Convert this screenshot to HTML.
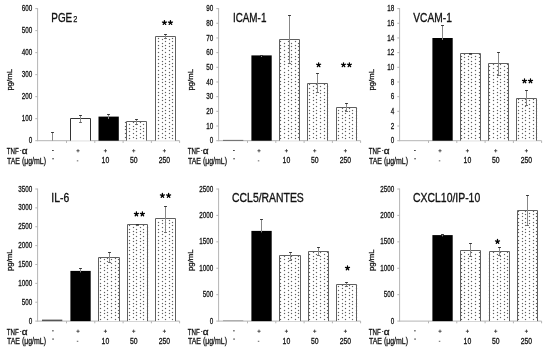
<!DOCTYPE html>
<html><head><meta charset="utf-8"><title>Figure</title>
<style>
html,body{margin:0;padding:0;background:#fff;width:550px;height:351px;overflow:hidden;}
svg{will-change:transform;}
svg text{font-family:"Liberation Sans", sans-serif;stroke:#111;stroke-width:0.28px;}
</style></head>
<body>
<svg width="550" height="351" viewBox="0 0 550 351" style="display:block;font-family:&quot;Liberation Sans&quot;, sans-serif" shape-rendering="auto"><defs></defs><rect width="550" height="351" fill="#fff"/><line x1="37.60" y1="8.10" x2="37.60" y2="141.20" stroke="#b4b4b4" stroke-width="1"/>
<line x1="37.60" y1="140.70" x2="179.60" y2="140.70" stroke="#b4b4b4" stroke-width="1"/>
<line x1="35.30" y1="140.70" x2="37.60" y2="140.70" stroke="#b4b4b4" stroke-width="1"/>
<text x="32.20" y="143.25" font-size="8.6" text-anchor="end" font-weight="normal" fill="#111" textLength="3.50" lengthAdjust="spacingAndGlyphs" >0</text>
<line x1="35.30" y1="118.68" x2="37.60" y2="118.68" stroke="#b4b4b4" stroke-width="1"/>
<text x="32.20" y="121.23" font-size="8.6" text-anchor="end" font-weight="normal" fill="#111" textLength="10.50" lengthAdjust="spacingAndGlyphs" >100</text>
<line x1="35.30" y1="96.67" x2="37.60" y2="96.67" stroke="#b4b4b4" stroke-width="1"/>
<text x="32.20" y="99.22" font-size="8.6" text-anchor="end" font-weight="normal" fill="#111" textLength="10.50" lengthAdjust="spacingAndGlyphs" >200</text>
<line x1="35.30" y1="74.65" x2="37.60" y2="74.65" stroke="#b4b4b4" stroke-width="1"/>
<text x="32.20" y="77.20" font-size="8.6" text-anchor="end" font-weight="normal" fill="#111" textLength="10.50" lengthAdjust="spacingAndGlyphs" >300</text>
<line x1="35.30" y1="52.63" x2="37.60" y2="52.63" stroke="#b4b4b4" stroke-width="1"/>
<text x="32.20" y="55.18" font-size="8.6" text-anchor="end" font-weight="normal" fill="#111" textLength="10.50" lengthAdjust="spacingAndGlyphs" >400</text>
<line x1="35.30" y1="30.62" x2="37.60" y2="30.62" stroke="#b4b4b4" stroke-width="1"/>
<text x="32.20" y="33.17" font-size="8.6" text-anchor="end" font-weight="normal" fill="#111" textLength="10.50" lengthAdjust="spacingAndGlyphs" >500</text>
<line x1="35.30" y1="8.60" x2="37.60" y2="8.60" stroke="#b4b4b4" stroke-width="1"/>
<text x="32.20" y="11.15" font-size="8.6" text-anchor="end" font-weight="normal" fill="#111" textLength="10.50" lengthAdjust="spacingAndGlyphs" >600</text>
<line x1="66.50" y1="140.70" x2="66.50" y2="142.90" stroke="#b4b4b4" stroke-width="1"/>
<line x1="94.80" y1="140.70" x2="94.80" y2="142.90" stroke="#b4b4b4" stroke-width="1"/>
<line x1="123.10" y1="140.70" x2="123.10" y2="142.90" stroke="#b4b4b4" stroke-width="1"/>
<line x1="151.40" y1="140.70" x2="151.40" y2="142.90" stroke="#b4b4b4" stroke-width="1"/>
<line x1="179.60" y1="140.70" x2="179.60" y2="142.90" stroke="#b4b4b4" stroke-width="1"/>
<text x="9.50" y="82.80" font-size="8.1" text-anchor="middle" fill="#111" transform="rotate(-90 9.50 79.80)" textLength="21.5" lengthAdjust="spacingAndGlyphs">pg/mL</text>
<text x="51.30" y="21.70" font-size="12" text-anchor="start" font-weight="normal" fill="#111" textLength="20.90" lengthAdjust="spacingAndGlyphs" style="stroke-width:0.32px">PGE</text>
<text x="73.20" y="21.70" font-size="9.6" text-anchor="start" font-weight="normal" fill="#111" textLength="4.10" lengthAdjust="spacingAndGlyphs" style="stroke-width:0.25px">2</text>
<line x1="52.50" y1="132.50" x2="52.50" y2="140.70" stroke="#888" stroke-width="1"/>
<line x1="51.10" y1="132.50" x2="53.90" y2="132.50" stroke="#333" stroke-width="1"/>
<rect x="70.00" y="118.00" width="21.00" height="22.70" fill="#fff" />
<path d="M70.5,140.70V118.5H90.5V140.70" fill="none" stroke="#333" stroke-width="1"/>
<line x1="80.50" y1="115.50" x2="80.50" y2="122.00" stroke="#888" stroke-width="1"/>
<line x1="79.10" y1="115.50" x2="81.90" y2="115.50" stroke="#333" stroke-width="1"/>
<line x1="79.10" y1="122.50" x2="81.90" y2="122.50" stroke="#666" stroke-width="1"/>
<rect x="98.50" y="116.60" width="20.30" height="24.10" fill="#000" />
<line x1="108.50" y1="114.50" x2="108.50" y2="119.00" stroke="#888" stroke-width="1"/>
<line x1="107.10" y1="114.50" x2="109.90" y2="114.50" stroke="#333" stroke-width="1"/>
<rect x="126.00" y="121.00" width="21.00" height="19.70" fill="#fff" />
<path d="M124 122h3v1h-3zM125 121h1v3h-1zM124 126h3v1h-3zM125 125h1v3h-1zM124 129h3v1h-3zM125 128h1v3h-1zM124 133h3v1h-3zM125 132h1v3h-1zM124 137h3v1h-3zM125 136h1v3h-1zM128 124h3v1h-3zM129 123h1v3h-1zM128 128h3v1h-3zM129 127h1v3h-1zM128 131h3v1h-3zM129 130h1v3h-1zM128 135h3v1h-3zM129 134h1v3h-1zM128 138h3v1h-3zM129 137h1v3h-1zM132 122h3v1h-3zM133 121h1v3h-1zM132 126h3v1h-3zM133 125h1v3h-1zM132 129h3v1h-3zM133 128h1v3h-1zM132 133h3v1h-3zM133 132h1v3h-1zM132 137h3v1h-3zM133 136h1v3h-1zM135 124h3v1h-3zM136 123h1v3h-1zM135 128h3v1h-3zM136 127h1v3h-1zM135 131h3v1h-3zM136 130h1v3h-1zM135 135h3v1h-3zM136 134h1v3h-1zM135 138h3v1h-3zM136 137h1v3h-1zM139 122h3v1h-3zM140 121h1v3h-1zM139 126h3v1h-3zM140 125h1v3h-1zM139 129h3v1h-3zM140 128h1v3h-1zM139 133h3v1h-3zM140 132h1v3h-1zM139 137h3v1h-3zM140 136h1v3h-1zM142 124h3v1h-3zM143 123h1v3h-1zM142 128h3v1h-3zM143 127h1v3h-1zM142 131h3v1h-3zM143 130h1v3h-1zM142 135h3v1h-3zM143 134h1v3h-1zM142 138h3v1h-3zM143 137h1v3h-1z" fill="#f0f0f0"/>
<path d="M125 122h1v1h-1zM125 126h1v1h-1zM125 129h1v1h-1zM125 133h1v1h-1zM125 137h1v1h-1zM129 124h1v1h-1zM129 128h1v1h-1zM129 131h1v1h-1zM129 135h1v1h-1zM129 138h1v1h-1zM133 122h1v1h-1zM133 126h1v1h-1zM133 129h1v1h-1zM133 133h1v1h-1zM133 137h1v1h-1zM136 124h1v1h-1zM136 128h1v1h-1zM136 131h1v1h-1zM136 135h1v1h-1zM136 138h1v1h-1zM140 122h1v1h-1zM140 126h1v1h-1zM140 129h1v1h-1zM140 133h1v1h-1zM140 137h1v1h-1zM143 124h1v1h-1zM143 128h1v1h-1zM143 131h1v1h-1zM143 135h1v1h-1zM143 138h1v1h-1z" fill="#606060"/>
<path d="M126.5,140.70V121.5H146.5V140.70" fill="none" stroke="#606060" stroke-width="1"/>
<line x1="136.50" y1="119.50" x2="136.50" y2="124.00" stroke="#888" stroke-width="1"/>
<line x1="135.10" y1="119.50" x2="137.90" y2="119.50" stroke="#333" stroke-width="1"/>
<line x1="135.10" y1="124.50" x2="137.90" y2="124.50" stroke="#666" stroke-width="1"/>
<rect x="155.00" y="36.00" width="21.00" height="104.70" fill="#fff" />
<path d="M157 38h3v1h-3zM158 37h1v3h-1zM157 41h3v1h-3zM158 40h1v3h-1zM157 45h3v1h-3zM158 44h1v3h-1zM157 48h3v1h-3zM158 47h1v3h-1zM157 52h3v1h-3zM158 51h1v3h-1zM157 56h3v1h-3zM158 55h1v3h-1zM157 59h3v1h-3zM158 58h1v3h-1zM157 63h3v1h-3zM158 62h1v3h-1zM157 66h3v1h-3zM158 65h1v3h-1zM157 70h3v1h-3zM158 69h1v3h-1zM157 74h3v1h-3zM158 73h1v3h-1zM157 77h3v1h-3zM158 76h1v3h-1zM157 81h3v1h-3zM158 80h1v3h-1zM157 84h3v1h-3zM158 83h1v3h-1zM157 88h3v1h-3zM158 87h1v3h-1zM157 92h3v1h-3zM158 91h1v3h-1zM157 95h3v1h-3zM158 94h1v3h-1zM157 99h3v1h-3zM158 98h1v3h-1zM157 102h3v1h-3zM158 101h1v3h-1zM157 106h3v1h-3zM158 105h1v3h-1zM157 110h3v1h-3zM158 109h1v3h-1zM157 113h3v1h-3zM158 112h1v3h-1zM157 117h3v1h-3zM158 116h1v3h-1zM157 120h3v1h-3zM158 119h1v3h-1zM157 124h3v1h-3zM158 123h1v3h-1zM157 128h3v1h-3zM158 127h1v3h-1zM157 131h3v1h-3zM158 130h1v3h-1zM157 135h3v1h-3zM158 134h1v3h-1zM157 138h3v1h-3zM158 137h1v3h-1zM161 39h3v1h-3zM162 38h1v3h-1zM161 43h3v1h-3zM162 42h1v3h-1zM161 46h3v1h-3zM162 45h1v3h-1zM161 50h3v1h-3zM162 49h1v3h-1zM161 54h3v1h-3zM162 53h1v3h-1zM161 57h3v1h-3zM162 56h1v3h-1zM161 61h3v1h-3zM162 60h1v3h-1zM161 64h3v1h-3zM162 63h1v3h-1zM161 68h3v1h-3zM162 67h1v3h-1zM161 72h3v1h-3zM162 71h1v3h-1zM161 75h3v1h-3zM162 74h1v3h-1zM161 79h3v1h-3zM162 78h1v3h-1zM161 82h3v1h-3zM162 81h1v3h-1zM161 86h3v1h-3zM162 85h1v3h-1zM161 90h3v1h-3zM162 89h1v3h-1zM161 93h3v1h-3zM162 92h1v3h-1zM161 97h3v1h-3zM162 96h1v3h-1zM161 100h3v1h-3zM162 99h1v3h-1zM161 104h3v1h-3zM162 103h1v3h-1zM161 108h3v1h-3zM162 107h1v3h-1zM161 111h3v1h-3zM162 110h1v3h-1zM161 115h3v1h-3zM162 114h1v3h-1zM161 118h3v1h-3zM162 117h1v3h-1zM161 122h3v1h-3zM162 121h1v3h-1zM161 126h3v1h-3zM162 125h1v3h-1zM161 129h3v1h-3zM162 128h1v3h-1zM161 133h3v1h-3zM162 132h1v3h-1zM161 137h3v1h-3zM162 136h1v3h-1zM164 38h3v1h-3zM165 37h1v3h-1zM164 41h3v1h-3zM165 40h1v3h-1zM164 45h3v1h-3zM165 44h1v3h-1zM164 48h3v1h-3zM165 47h1v3h-1zM164 52h3v1h-3zM165 51h1v3h-1zM164 56h3v1h-3zM165 55h1v3h-1zM164 59h3v1h-3zM165 58h1v3h-1zM164 63h3v1h-3zM165 62h1v3h-1zM164 66h3v1h-3zM165 65h1v3h-1zM164 70h3v1h-3zM165 69h1v3h-1zM164 74h3v1h-3zM165 73h1v3h-1zM164 77h3v1h-3zM165 76h1v3h-1zM164 81h3v1h-3zM165 80h1v3h-1zM164 84h3v1h-3zM165 83h1v3h-1zM164 88h3v1h-3zM165 87h1v3h-1zM164 92h3v1h-3zM165 91h1v3h-1zM164 95h3v1h-3zM165 94h1v3h-1zM164 99h3v1h-3zM165 98h1v3h-1zM164 102h3v1h-3zM165 101h1v3h-1zM164 106h3v1h-3zM165 105h1v3h-1zM164 110h3v1h-3zM165 109h1v3h-1zM164 113h3v1h-3zM165 112h1v3h-1zM164 117h3v1h-3zM165 116h1v3h-1zM164 120h3v1h-3zM165 119h1v3h-1zM164 124h3v1h-3zM165 123h1v3h-1zM164 128h3v1h-3zM165 127h1v3h-1zM164 131h3v1h-3zM165 130h1v3h-1zM164 135h3v1h-3zM165 134h1v3h-1zM164 138h3v1h-3zM165 137h1v3h-1zM168 39h3v1h-3zM169 38h1v3h-1zM168 43h3v1h-3zM169 42h1v3h-1zM168 46h3v1h-3zM169 45h1v3h-1zM168 50h3v1h-3zM169 49h1v3h-1zM168 54h3v1h-3zM169 53h1v3h-1zM168 57h3v1h-3zM169 56h1v3h-1zM168 61h3v1h-3zM169 60h1v3h-1zM168 64h3v1h-3zM169 63h1v3h-1zM168 68h3v1h-3zM169 67h1v3h-1zM168 72h3v1h-3zM169 71h1v3h-1zM168 75h3v1h-3zM169 74h1v3h-1zM168 79h3v1h-3zM169 78h1v3h-1zM168 82h3v1h-3zM169 81h1v3h-1zM168 86h3v1h-3zM169 85h1v3h-1zM168 90h3v1h-3zM169 89h1v3h-1zM168 93h3v1h-3zM169 92h1v3h-1zM168 97h3v1h-3zM169 96h1v3h-1zM168 100h3v1h-3zM169 99h1v3h-1zM168 104h3v1h-3zM169 103h1v3h-1zM168 108h3v1h-3zM169 107h1v3h-1zM168 111h3v1h-3zM169 110h1v3h-1zM168 115h3v1h-3zM169 114h1v3h-1zM168 118h3v1h-3zM169 117h1v3h-1zM168 122h3v1h-3zM169 121h1v3h-1zM168 126h3v1h-3zM169 125h1v3h-1zM168 129h3v1h-3zM169 128h1v3h-1zM168 133h3v1h-3zM169 132h1v3h-1zM168 137h3v1h-3zM169 136h1v3h-1zM171 38h3v1h-3zM172 37h1v3h-1zM171 41h3v1h-3zM172 40h1v3h-1zM171 45h3v1h-3zM172 44h1v3h-1zM171 48h3v1h-3zM172 47h1v3h-1zM171 52h3v1h-3zM172 51h1v3h-1zM171 56h3v1h-3zM172 55h1v3h-1zM171 59h3v1h-3zM172 58h1v3h-1zM171 63h3v1h-3zM172 62h1v3h-1zM171 66h3v1h-3zM172 65h1v3h-1zM171 70h3v1h-3zM172 69h1v3h-1zM171 74h3v1h-3zM172 73h1v3h-1zM171 77h3v1h-3zM172 76h1v3h-1zM171 81h3v1h-3zM172 80h1v3h-1zM171 84h3v1h-3zM172 83h1v3h-1zM171 88h3v1h-3zM172 87h1v3h-1zM171 92h3v1h-3zM172 91h1v3h-1zM171 95h3v1h-3zM172 94h1v3h-1zM171 99h3v1h-3zM172 98h1v3h-1zM171 102h3v1h-3zM172 101h1v3h-1zM171 106h3v1h-3zM172 105h1v3h-1zM171 110h3v1h-3zM172 109h1v3h-1zM171 113h3v1h-3zM172 112h1v3h-1zM171 117h3v1h-3zM172 116h1v3h-1zM171 120h3v1h-3zM172 119h1v3h-1zM171 124h3v1h-3zM172 123h1v3h-1zM171 128h3v1h-3zM172 127h1v3h-1zM171 131h3v1h-3zM172 130h1v3h-1zM171 135h3v1h-3zM172 134h1v3h-1zM171 138h3v1h-3zM172 137h1v3h-1z" fill="#f0f0f0"/>
<path d="M158 38h1v1h-1zM158 41h1v1h-1zM158 45h1v1h-1zM158 48h1v1h-1zM158 52h1v1h-1zM158 56h1v1h-1zM158 59h1v1h-1zM158 63h1v1h-1zM158 66h1v1h-1zM158 70h1v1h-1zM158 74h1v1h-1zM158 77h1v1h-1zM158 81h1v1h-1zM158 84h1v1h-1zM158 88h1v1h-1zM158 92h1v1h-1zM158 95h1v1h-1zM158 99h1v1h-1zM158 102h1v1h-1zM158 106h1v1h-1zM158 110h1v1h-1zM158 113h1v1h-1zM158 117h1v1h-1zM158 120h1v1h-1zM158 124h1v1h-1zM158 128h1v1h-1zM158 131h1v1h-1zM158 135h1v1h-1zM158 138h1v1h-1zM162 39h1v1h-1zM162 43h1v1h-1zM162 46h1v1h-1zM162 50h1v1h-1zM162 54h1v1h-1zM162 57h1v1h-1zM162 61h1v1h-1zM162 64h1v1h-1zM162 68h1v1h-1zM162 72h1v1h-1zM162 75h1v1h-1zM162 79h1v1h-1zM162 82h1v1h-1zM162 86h1v1h-1zM162 90h1v1h-1zM162 93h1v1h-1zM162 97h1v1h-1zM162 100h1v1h-1zM162 104h1v1h-1zM162 108h1v1h-1zM162 111h1v1h-1zM162 115h1v1h-1zM162 118h1v1h-1zM162 122h1v1h-1zM162 126h1v1h-1zM162 129h1v1h-1zM162 133h1v1h-1zM162 137h1v1h-1zM165 38h1v1h-1zM165 41h1v1h-1zM165 45h1v1h-1zM165 48h1v1h-1zM165 52h1v1h-1zM165 56h1v1h-1zM165 59h1v1h-1zM165 63h1v1h-1zM165 66h1v1h-1zM165 70h1v1h-1zM165 74h1v1h-1zM165 77h1v1h-1zM165 81h1v1h-1zM165 84h1v1h-1zM165 88h1v1h-1zM165 92h1v1h-1zM165 95h1v1h-1zM165 99h1v1h-1zM165 102h1v1h-1zM165 106h1v1h-1zM165 110h1v1h-1zM165 113h1v1h-1zM165 117h1v1h-1zM165 120h1v1h-1zM165 124h1v1h-1zM165 128h1v1h-1zM165 131h1v1h-1zM165 135h1v1h-1zM165 138h1v1h-1zM169 39h1v1h-1zM169 43h1v1h-1zM169 46h1v1h-1zM169 50h1v1h-1zM169 54h1v1h-1zM169 57h1v1h-1zM169 61h1v1h-1zM169 64h1v1h-1zM169 68h1v1h-1zM169 72h1v1h-1zM169 75h1v1h-1zM169 79h1v1h-1zM169 82h1v1h-1zM169 86h1v1h-1zM169 90h1v1h-1zM169 93h1v1h-1zM169 97h1v1h-1zM169 100h1v1h-1zM169 104h1v1h-1zM169 108h1v1h-1zM169 111h1v1h-1zM169 115h1v1h-1zM169 118h1v1h-1zM169 122h1v1h-1zM169 126h1v1h-1zM169 129h1v1h-1zM169 133h1v1h-1zM169 137h1v1h-1zM172 38h1v1h-1zM172 41h1v1h-1zM172 45h1v1h-1zM172 48h1v1h-1zM172 52h1v1h-1zM172 56h1v1h-1zM172 59h1v1h-1zM172 63h1v1h-1zM172 66h1v1h-1zM172 70h1v1h-1zM172 74h1v1h-1zM172 77h1v1h-1zM172 81h1v1h-1zM172 84h1v1h-1zM172 88h1v1h-1zM172 92h1v1h-1zM172 95h1v1h-1zM172 99h1v1h-1zM172 102h1v1h-1zM172 106h1v1h-1zM172 110h1v1h-1zM172 113h1v1h-1zM172 117h1v1h-1zM172 120h1v1h-1zM172 124h1v1h-1zM172 128h1v1h-1zM172 131h1v1h-1zM172 135h1v1h-1zM172 138h1v1h-1z" fill="#606060"/>
<path d="M155.5,140.70V36.5H175.5V140.70" fill="none" stroke="#606060" stroke-width="1"/>
<line x1="165.50" y1="34.50" x2="165.50" y2="38.10" stroke="#888" stroke-width="1"/>
<line x1="164.10" y1="34.50" x2="166.90" y2="34.50" stroke="#333" stroke-width="1"/>
<line x1="164.10" y1="38.50" x2="166.90" y2="38.50" stroke="#666" stroke-width="1"/>
<path d="M164.45,22.70L164.45,20.60M164.45,22.70L166.45,22.05M164.45,22.70L165.68,24.40M164.45,22.70L163.22,24.40M164.45,22.70L162.45,22.05" stroke="#000" stroke-width="1.3" stroke-linecap="round" fill="none"/>
<path d="M170.45,22.70L170.45,20.60M170.45,22.70L172.45,22.05M170.45,22.70L171.68,24.40M170.45,22.70L169.22,24.40M170.45,22.70L168.45,22.05" stroke="#000" stroke-width="1.3" stroke-linecap="round" fill="none"/>
<text x="6.80" y="154.10" font-size="8.3" text-anchor="start" font-weight="normal" fill="#111" textLength="12.00" lengthAdjust="spacingAndGlyphs" >TNF</text>
<rect x="20.00" y="150.00" width="1.30" height="1.00" fill="#555" />
<text x="21.70" y="154.10" font-size="8.3" text-anchor="start" font-weight="normal" fill="#111" textLength="5.80" lengthAdjust="spacingAndGlyphs" >α</text>
<text x="7.00" y="163.60" font-size="8.3" text-anchor="start" font-weight="normal" fill="#111" textLength="39.00" lengthAdjust="spacingAndGlyphs" >TAE (μg/mL)</text>
<rect x="52.00" y="150.00" width="1.80" height="0.90" fill="#333" />
<rect x="76.40" y="150.40" width="3.20" height="0.80" fill="#333" />
<rect x="77.60" y="149.20" width="0.80" height="3.20" fill="#333" />
<rect x="103.80" y="150.40" width="3.20" height="0.80" fill="#333" />
<rect x="105.00" y="149.20" width="0.80" height="3.20" fill="#333" />
<rect x="132.10" y="150.40" width="3.20" height="0.80" fill="#333" />
<rect x="133.30" y="149.20" width="0.80" height="3.20" fill="#333" />
<rect x="162.80" y="150.40" width="3.20" height="0.80" fill="#333" />
<rect x="164.00" y="149.20" width="0.80" height="3.20" fill="#333" />
<rect x="52.40" y="158.00" width="1.30" height="1.40" fill="#444" />
<rect x="76.80" y="160.40" width="1.50" height="0.90" fill="#555" />
<text x="105.40" y="163.40" font-size="8.3" text-anchor="middle" font-weight="normal" fill="#111" textLength="7.60" lengthAdjust="spacingAndGlyphs" >10</text>
<text x="133.70" y="163.40" font-size="8.3" text-anchor="middle" font-weight="normal" fill="#111" textLength="7.60" lengthAdjust="spacingAndGlyphs" >50</text>
<text x="164.40" y="163.40" font-size="8.3" text-anchor="middle" font-weight="normal" fill="#111" textLength="11.40" lengthAdjust="spacingAndGlyphs" >250</text>
<line x1="218.60" y1="8.10" x2="218.60" y2="141.20" stroke="#b4b4b4" stroke-width="1"/>
<line x1="218.60" y1="140.70" x2="360.60" y2="140.70" stroke="#b4b4b4" stroke-width="1"/>
<line x1="216.30" y1="140.70" x2="218.60" y2="140.70" stroke="#b4b4b4" stroke-width="1"/>
<text x="213.20" y="143.25" font-size="8.6" text-anchor="end" font-weight="normal" fill="#111" textLength="3.50" lengthAdjust="spacingAndGlyphs" >0</text>
<line x1="216.30" y1="126.02" x2="218.60" y2="126.02" stroke="#b4b4b4" stroke-width="1"/>
<text x="213.20" y="128.57" font-size="8.6" text-anchor="end" font-weight="normal" fill="#111" textLength="7.00" lengthAdjust="spacingAndGlyphs" >10</text>
<line x1="216.30" y1="111.34" x2="218.60" y2="111.34" stroke="#b4b4b4" stroke-width="1"/>
<text x="213.20" y="113.89" font-size="8.6" text-anchor="end" font-weight="normal" fill="#111" textLength="7.00" lengthAdjust="spacingAndGlyphs" >20</text>
<line x1="216.30" y1="96.67" x2="218.60" y2="96.67" stroke="#b4b4b4" stroke-width="1"/>
<text x="213.20" y="99.22" font-size="8.6" text-anchor="end" font-weight="normal" fill="#111" textLength="7.00" lengthAdjust="spacingAndGlyphs" >30</text>
<line x1="216.30" y1="81.99" x2="218.60" y2="81.99" stroke="#b4b4b4" stroke-width="1"/>
<text x="213.20" y="84.54" font-size="8.6" text-anchor="end" font-weight="normal" fill="#111" textLength="7.00" lengthAdjust="spacingAndGlyphs" >40</text>
<line x1="216.30" y1="67.31" x2="218.60" y2="67.31" stroke="#b4b4b4" stroke-width="1"/>
<text x="213.20" y="69.86" font-size="8.6" text-anchor="end" font-weight="normal" fill="#111" textLength="7.00" lengthAdjust="spacingAndGlyphs" >50</text>
<line x1="216.30" y1="52.63" x2="218.60" y2="52.63" stroke="#b4b4b4" stroke-width="1"/>
<text x="213.20" y="55.18" font-size="8.6" text-anchor="end" font-weight="normal" fill="#111" textLength="7.00" lengthAdjust="spacingAndGlyphs" >60</text>
<line x1="216.30" y1="37.96" x2="218.60" y2="37.96" stroke="#b4b4b4" stroke-width="1"/>
<text x="213.20" y="40.51" font-size="8.6" text-anchor="end" font-weight="normal" fill="#111" textLength="7.00" lengthAdjust="spacingAndGlyphs" >70</text>
<line x1="216.30" y1="23.28" x2="218.60" y2="23.28" stroke="#b4b4b4" stroke-width="1"/>
<text x="213.20" y="25.83" font-size="8.6" text-anchor="end" font-weight="normal" fill="#111" textLength="7.00" lengthAdjust="spacingAndGlyphs" >80</text>
<line x1="216.30" y1="8.60" x2="218.60" y2="8.60" stroke="#b4b4b4" stroke-width="1"/>
<text x="213.20" y="11.15" font-size="8.6" text-anchor="end" font-weight="normal" fill="#111" textLength="7.00" lengthAdjust="spacingAndGlyphs" >90</text>
<line x1="247.50" y1="140.70" x2="247.50" y2="142.90" stroke="#b4b4b4" stroke-width="1"/>
<line x1="275.80" y1="140.70" x2="275.80" y2="142.90" stroke="#b4b4b4" stroke-width="1"/>
<line x1="304.10" y1="140.70" x2="304.10" y2="142.90" stroke="#b4b4b4" stroke-width="1"/>
<line x1="332.40" y1="140.70" x2="332.40" y2="142.90" stroke="#b4b4b4" stroke-width="1"/>
<line x1="360.60" y1="140.70" x2="360.60" y2="142.90" stroke="#b4b4b4" stroke-width="1"/>
<text x="190.50" y="82.80" font-size="8.1" text-anchor="middle" fill="#111" transform="rotate(-90 190.50 79.80)" textLength="21.5" lengthAdjust="spacingAndGlyphs">pg/mL</text>
<text x="232.90" y="21.70" font-size="12" text-anchor="start" font-weight="normal" fill="#111" textLength="33.50" lengthAdjust="spacingAndGlyphs" style="stroke-width:0.32px">ICAM-1</text>
<rect x="223.00" y="139.90" width="20.30" height="0.80" fill="#555" />
<rect x="251.40" y="55.40" width="20.30" height="85.30" fill="#000" />
<line x1="261.50" y1="55.50" x2="261.50" y2="57.00" stroke="#888" stroke-width="1"/>
<line x1="260.10" y1="55.50" x2="262.90" y2="55.50" stroke="#333" stroke-width="1"/>
<rect x="279.00" y="39.00" width="21.00" height="101.70" fill="#fff" />
<path d="M279 41h3v1h-3zM280 40h1v3h-1zM279 45h3v1h-3zM280 44h1v3h-1zM279 48h3v1h-3zM280 47h1v3h-1zM279 52h3v1h-3zM280 51h1v3h-1zM279 56h3v1h-3zM280 55h1v3h-1zM279 59h3v1h-3zM280 58h1v3h-1zM279 63h3v1h-3zM280 62h1v3h-1zM279 66h3v1h-3zM280 65h1v3h-1zM279 70h3v1h-3zM280 69h1v3h-1zM279 74h3v1h-3zM280 73h1v3h-1zM279 77h3v1h-3zM280 76h1v3h-1zM279 81h3v1h-3zM280 80h1v3h-1zM279 84h3v1h-3zM280 83h1v3h-1zM279 88h3v1h-3zM280 87h1v3h-1zM279 92h3v1h-3zM280 91h1v3h-1zM279 95h3v1h-3zM280 94h1v3h-1zM279 99h3v1h-3zM280 98h1v3h-1zM279 102h3v1h-3zM280 101h1v3h-1zM279 106h3v1h-3zM280 105h1v3h-1zM279 110h3v1h-3zM280 109h1v3h-1zM279 113h3v1h-3zM280 112h1v3h-1zM279 117h3v1h-3zM280 116h1v3h-1zM279 120h3v1h-3zM280 119h1v3h-1zM279 124h3v1h-3zM280 123h1v3h-1zM279 128h3v1h-3zM280 127h1v3h-1zM279 131h3v1h-3zM280 130h1v3h-1zM279 135h3v1h-3zM280 134h1v3h-1zM279 138h3v1h-3zM280 137h1v3h-1zM283 43h3v1h-3zM284 42h1v3h-1zM283 46h3v1h-3zM284 45h1v3h-1zM283 50h3v1h-3zM284 49h1v3h-1zM283 54h3v1h-3zM284 53h1v3h-1zM283 57h3v1h-3zM284 56h1v3h-1zM283 61h3v1h-3zM284 60h1v3h-1zM283 64h3v1h-3zM284 63h1v3h-1zM283 68h3v1h-3zM284 67h1v3h-1zM283 72h3v1h-3zM284 71h1v3h-1zM283 75h3v1h-3zM284 74h1v3h-1zM283 79h3v1h-3zM284 78h1v3h-1zM283 82h3v1h-3zM284 81h1v3h-1zM283 86h3v1h-3zM284 85h1v3h-1zM283 90h3v1h-3zM284 89h1v3h-1zM283 93h3v1h-3zM284 92h1v3h-1zM283 97h3v1h-3zM284 96h1v3h-1zM283 100h3v1h-3zM284 99h1v3h-1zM283 104h3v1h-3zM284 103h1v3h-1zM283 108h3v1h-3zM284 107h1v3h-1zM283 111h3v1h-3zM284 110h1v3h-1zM283 115h3v1h-3zM284 114h1v3h-1zM283 118h3v1h-3zM284 117h1v3h-1zM283 122h3v1h-3zM284 121h1v3h-1zM283 126h3v1h-3zM284 125h1v3h-1zM283 129h3v1h-3zM284 128h1v3h-1zM283 133h3v1h-3zM284 132h1v3h-1zM283 137h3v1h-3zM284 136h1v3h-1zM287 41h3v1h-3zM288 40h1v3h-1zM287 45h3v1h-3zM288 44h1v3h-1zM287 48h3v1h-3zM288 47h1v3h-1zM287 52h3v1h-3zM288 51h1v3h-1zM287 56h3v1h-3zM288 55h1v3h-1zM287 59h3v1h-3zM288 58h1v3h-1zM287 63h3v1h-3zM288 62h1v3h-1zM287 66h3v1h-3zM288 65h1v3h-1zM287 70h3v1h-3zM288 69h1v3h-1zM287 74h3v1h-3zM288 73h1v3h-1zM287 77h3v1h-3zM288 76h1v3h-1zM287 81h3v1h-3zM288 80h1v3h-1zM287 84h3v1h-3zM288 83h1v3h-1zM287 88h3v1h-3zM288 87h1v3h-1zM287 92h3v1h-3zM288 91h1v3h-1zM287 95h3v1h-3zM288 94h1v3h-1zM287 99h3v1h-3zM288 98h1v3h-1zM287 102h3v1h-3zM288 101h1v3h-1zM287 106h3v1h-3zM288 105h1v3h-1zM287 110h3v1h-3zM288 109h1v3h-1zM287 113h3v1h-3zM288 112h1v3h-1zM287 117h3v1h-3zM288 116h1v3h-1zM287 120h3v1h-3zM288 119h1v3h-1zM287 124h3v1h-3zM288 123h1v3h-1zM287 128h3v1h-3zM288 127h1v3h-1zM287 131h3v1h-3zM288 130h1v3h-1zM287 135h3v1h-3zM288 134h1v3h-1zM287 138h3v1h-3zM288 137h1v3h-1zM290 43h3v1h-3zM291 42h1v3h-1zM290 46h3v1h-3zM291 45h1v3h-1zM290 50h3v1h-3zM291 49h1v3h-1zM290 54h3v1h-3zM291 53h1v3h-1zM290 57h3v1h-3zM291 56h1v3h-1zM290 61h3v1h-3zM291 60h1v3h-1zM290 64h3v1h-3zM291 63h1v3h-1zM290 68h3v1h-3zM291 67h1v3h-1zM290 72h3v1h-3zM291 71h1v3h-1zM290 75h3v1h-3zM291 74h1v3h-1zM290 79h3v1h-3zM291 78h1v3h-1zM290 82h3v1h-3zM291 81h1v3h-1zM290 86h3v1h-3zM291 85h1v3h-1zM290 90h3v1h-3zM291 89h1v3h-1zM290 93h3v1h-3zM291 92h1v3h-1zM290 97h3v1h-3zM291 96h1v3h-1zM290 100h3v1h-3zM291 99h1v3h-1zM290 104h3v1h-3zM291 103h1v3h-1zM290 108h3v1h-3zM291 107h1v3h-1zM290 111h3v1h-3zM291 110h1v3h-1zM290 115h3v1h-3zM291 114h1v3h-1zM290 118h3v1h-3zM291 117h1v3h-1zM290 122h3v1h-3zM291 121h1v3h-1zM290 126h3v1h-3zM291 125h1v3h-1zM290 129h3v1h-3zM291 128h1v3h-1zM290 133h3v1h-3zM291 132h1v3h-1zM290 137h3v1h-3zM291 136h1v3h-1zM294 41h3v1h-3zM295 40h1v3h-1zM294 45h3v1h-3zM295 44h1v3h-1zM294 48h3v1h-3zM295 47h1v3h-1zM294 52h3v1h-3zM295 51h1v3h-1zM294 56h3v1h-3zM295 55h1v3h-1zM294 59h3v1h-3zM295 58h1v3h-1zM294 63h3v1h-3zM295 62h1v3h-1zM294 66h3v1h-3zM295 65h1v3h-1zM294 70h3v1h-3zM295 69h1v3h-1zM294 74h3v1h-3zM295 73h1v3h-1zM294 77h3v1h-3zM295 76h1v3h-1zM294 81h3v1h-3zM295 80h1v3h-1zM294 84h3v1h-3zM295 83h1v3h-1zM294 88h3v1h-3zM295 87h1v3h-1zM294 92h3v1h-3zM295 91h1v3h-1zM294 95h3v1h-3zM295 94h1v3h-1zM294 99h3v1h-3zM295 98h1v3h-1zM294 102h3v1h-3zM295 101h1v3h-1zM294 106h3v1h-3zM295 105h1v3h-1zM294 110h3v1h-3zM295 109h1v3h-1zM294 113h3v1h-3zM295 112h1v3h-1zM294 117h3v1h-3zM295 116h1v3h-1zM294 120h3v1h-3zM295 119h1v3h-1zM294 124h3v1h-3zM295 123h1v3h-1zM294 128h3v1h-3zM295 127h1v3h-1zM294 131h3v1h-3zM295 130h1v3h-1zM294 135h3v1h-3zM295 134h1v3h-1zM294 138h3v1h-3zM295 137h1v3h-1zM297 43h3v1h-3zM298 42h1v3h-1zM297 46h3v1h-3zM298 45h1v3h-1zM297 50h3v1h-3zM298 49h1v3h-1zM297 54h3v1h-3zM298 53h1v3h-1zM297 57h3v1h-3zM298 56h1v3h-1zM297 61h3v1h-3zM298 60h1v3h-1zM297 64h3v1h-3zM298 63h1v3h-1zM297 68h3v1h-3zM298 67h1v3h-1zM297 72h3v1h-3zM298 71h1v3h-1zM297 75h3v1h-3zM298 74h1v3h-1zM297 79h3v1h-3zM298 78h1v3h-1zM297 82h3v1h-3zM298 81h1v3h-1zM297 86h3v1h-3zM298 85h1v3h-1zM297 90h3v1h-3zM298 89h1v3h-1zM297 93h3v1h-3zM298 92h1v3h-1zM297 97h3v1h-3zM298 96h1v3h-1zM297 100h3v1h-3zM298 99h1v3h-1zM297 104h3v1h-3zM298 103h1v3h-1zM297 108h3v1h-3zM298 107h1v3h-1zM297 111h3v1h-3zM298 110h1v3h-1zM297 115h3v1h-3zM298 114h1v3h-1zM297 118h3v1h-3zM298 117h1v3h-1zM297 122h3v1h-3zM298 121h1v3h-1zM297 126h3v1h-3zM298 125h1v3h-1zM297 129h3v1h-3zM298 128h1v3h-1zM297 133h3v1h-3zM298 132h1v3h-1zM297 137h3v1h-3zM298 136h1v3h-1z" fill="#f0f0f0"/>
<path d="M280 41h1v1h-1zM280 45h1v1h-1zM280 48h1v1h-1zM280 52h1v1h-1zM280 56h1v1h-1zM280 59h1v1h-1zM280 63h1v1h-1zM280 66h1v1h-1zM280 70h1v1h-1zM280 74h1v1h-1zM280 77h1v1h-1zM280 81h1v1h-1zM280 84h1v1h-1zM280 88h1v1h-1zM280 92h1v1h-1zM280 95h1v1h-1zM280 99h1v1h-1zM280 102h1v1h-1zM280 106h1v1h-1zM280 110h1v1h-1zM280 113h1v1h-1zM280 117h1v1h-1zM280 120h1v1h-1zM280 124h1v1h-1zM280 128h1v1h-1zM280 131h1v1h-1zM280 135h1v1h-1zM280 138h1v1h-1zM284 43h1v1h-1zM284 46h1v1h-1zM284 50h1v1h-1zM284 54h1v1h-1zM284 57h1v1h-1zM284 61h1v1h-1zM284 64h1v1h-1zM284 68h1v1h-1zM284 72h1v1h-1zM284 75h1v1h-1zM284 79h1v1h-1zM284 82h1v1h-1zM284 86h1v1h-1zM284 90h1v1h-1zM284 93h1v1h-1zM284 97h1v1h-1zM284 100h1v1h-1zM284 104h1v1h-1zM284 108h1v1h-1zM284 111h1v1h-1zM284 115h1v1h-1zM284 118h1v1h-1zM284 122h1v1h-1zM284 126h1v1h-1zM284 129h1v1h-1zM284 133h1v1h-1zM284 137h1v1h-1zM288 41h1v1h-1zM288 45h1v1h-1zM288 48h1v1h-1zM288 52h1v1h-1zM288 56h1v1h-1zM288 59h1v1h-1zM288 63h1v1h-1zM288 66h1v1h-1zM288 70h1v1h-1zM288 74h1v1h-1zM288 77h1v1h-1zM288 81h1v1h-1zM288 84h1v1h-1zM288 88h1v1h-1zM288 92h1v1h-1zM288 95h1v1h-1zM288 99h1v1h-1zM288 102h1v1h-1zM288 106h1v1h-1zM288 110h1v1h-1zM288 113h1v1h-1zM288 117h1v1h-1zM288 120h1v1h-1zM288 124h1v1h-1zM288 128h1v1h-1zM288 131h1v1h-1zM288 135h1v1h-1zM288 138h1v1h-1zM291 43h1v1h-1zM291 46h1v1h-1zM291 50h1v1h-1zM291 54h1v1h-1zM291 57h1v1h-1zM291 61h1v1h-1zM291 64h1v1h-1zM291 68h1v1h-1zM291 72h1v1h-1zM291 75h1v1h-1zM291 79h1v1h-1zM291 82h1v1h-1zM291 86h1v1h-1zM291 90h1v1h-1zM291 93h1v1h-1zM291 97h1v1h-1zM291 100h1v1h-1zM291 104h1v1h-1zM291 108h1v1h-1zM291 111h1v1h-1zM291 115h1v1h-1zM291 118h1v1h-1zM291 122h1v1h-1zM291 126h1v1h-1zM291 129h1v1h-1zM291 133h1v1h-1zM291 137h1v1h-1zM295 41h1v1h-1zM295 45h1v1h-1zM295 48h1v1h-1zM295 52h1v1h-1zM295 56h1v1h-1zM295 59h1v1h-1zM295 63h1v1h-1zM295 66h1v1h-1zM295 70h1v1h-1zM295 74h1v1h-1zM295 77h1v1h-1zM295 81h1v1h-1zM295 84h1v1h-1zM295 88h1v1h-1zM295 92h1v1h-1zM295 95h1v1h-1zM295 99h1v1h-1zM295 102h1v1h-1zM295 106h1v1h-1zM295 110h1v1h-1zM295 113h1v1h-1zM295 117h1v1h-1zM295 120h1v1h-1zM295 124h1v1h-1zM295 128h1v1h-1zM295 131h1v1h-1zM295 135h1v1h-1zM295 138h1v1h-1zM298 43h1v1h-1zM298 46h1v1h-1zM298 50h1v1h-1zM298 54h1v1h-1zM298 57h1v1h-1zM298 61h1v1h-1zM298 64h1v1h-1zM298 68h1v1h-1zM298 72h1v1h-1zM298 75h1v1h-1zM298 79h1v1h-1zM298 82h1v1h-1zM298 86h1v1h-1zM298 90h1v1h-1zM298 93h1v1h-1zM298 97h1v1h-1zM298 100h1v1h-1zM298 104h1v1h-1zM298 108h1v1h-1zM298 111h1v1h-1zM298 115h1v1h-1zM298 118h1v1h-1zM298 122h1v1h-1zM298 126h1v1h-1zM298 129h1v1h-1zM298 133h1v1h-1zM298 137h1v1h-1z" fill="#606060"/>
<path d="M279.5,140.70V39.5H299.5V140.70" fill="none" stroke="#606060" stroke-width="1"/>
<line x1="289.50" y1="15.50" x2="289.50" y2="62.90" stroke="#888" stroke-width="1"/>
<line x1="288.10" y1="15.50" x2="290.90" y2="15.50" stroke="#333" stroke-width="1"/>
<line x1="288.10" y1="63.50" x2="290.90" y2="63.50" stroke="#666" stroke-width="1"/>
<rect x="307.00" y="83.00" width="21.00" height="57.70" fill="#fff" />
<path d="M308 84h3v1h-3zM309 83h1v3h-1zM308 88h3v1h-3zM309 87h1v3h-1zM308 92h3v1h-3zM309 91h1v3h-1zM308 95h3v1h-3zM309 94h1v3h-1zM308 99h3v1h-3zM309 98h1v3h-1zM308 102h3v1h-3zM309 101h1v3h-1zM308 106h3v1h-3zM309 105h1v3h-1zM308 110h3v1h-3zM309 109h1v3h-1zM308 113h3v1h-3zM309 112h1v3h-1zM308 117h3v1h-3zM309 116h1v3h-1zM308 120h3v1h-3zM309 119h1v3h-1zM308 124h3v1h-3zM309 123h1v3h-1zM308 128h3v1h-3zM309 127h1v3h-1zM308 131h3v1h-3zM309 130h1v3h-1zM308 135h3v1h-3zM309 134h1v3h-1zM308 138h3v1h-3zM309 137h1v3h-1zM312 86h3v1h-3zM313 85h1v3h-1zM312 90h3v1h-3zM313 89h1v3h-1zM312 93h3v1h-3zM313 92h1v3h-1zM312 97h3v1h-3zM313 96h1v3h-1zM312 100h3v1h-3zM313 99h1v3h-1zM312 104h3v1h-3zM313 103h1v3h-1zM312 108h3v1h-3zM313 107h1v3h-1zM312 111h3v1h-3zM313 110h1v3h-1zM312 115h3v1h-3zM313 114h1v3h-1zM312 118h3v1h-3zM313 117h1v3h-1zM312 122h3v1h-3zM313 121h1v3h-1zM312 126h3v1h-3zM313 125h1v3h-1zM312 129h3v1h-3zM313 128h1v3h-1zM312 133h3v1h-3zM313 132h1v3h-1zM312 137h3v1h-3zM313 136h1v3h-1zM315 84h3v1h-3zM316 83h1v3h-1zM315 88h3v1h-3zM316 87h1v3h-1zM315 92h3v1h-3zM316 91h1v3h-1zM315 95h3v1h-3zM316 94h1v3h-1zM315 99h3v1h-3zM316 98h1v3h-1zM315 102h3v1h-3zM316 101h1v3h-1zM315 106h3v1h-3zM316 105h1v3h-1zM315 110h3v1h-3zM316 109h1v3h-1zM315 113h3v1h-3zM316 112h1v3h-1zM315 117h3v1h-3zM316 116h1v3h-1zM315 120h3v1h-3zM316 119h1v3h-1zM315 124h3v1h-3zM316 123h1v3h-1zM315 128h3v1h-3zM316 127h1v3h-1zM315 131h3v1h-3zM316 130h1v3h-1zM315 135h3v1h-3zM316 134h1v3h-1zM315 138h3v1h-3zM316 137h1v3h-1zM319 86h3v1h-3zM320 85h1v3h-1zM319 90h3v1h-3zM320 89h1v3h-1zM319 93h3v1h-3zM320 92h1v3h-1zM319 97h3v1h-3zM320 96h1v3h-1zM319 100h3v1h-3zM320 99h1v3h-1zM319 104h3v1h-3zM320 103h1v3h-1zM319 108h3v1h-3zM320 107h1v3h-1zM319 111h3v1h-3zM320 110h1v3h-1zM319 115h3v1h-3zM320 114h1v3h-1zM319 118h3v1h-3zM320 117h1v3h-1zM319 122h3v1h-3zM320 121h1v3h-1zM319 126h3v1h-3zM320 125h1v3h-1zM319 129h3v1h-3zM320 128h1v3h-1zM319 133h3v1h-3zM320 132h1v3h-1zM319 137h3v1h-3zM320 136h1v3h-1zM323 84h3v1h-3zM324 83h1v3h-1zM323 88h3v1h-3zM324 87h1v3h-1zM323 92h3v1h-3zM324 91h1v3h-1zM323 95h3v1h-3zM324 94h1v3h-1zM323 99h3v1h-3zM324 98h1v3h-1zM323 102h3v1h-3zM324 101h1v3h-1zM323 106h3v1h-3zM324 105h1v3h-1zM323 110h3v1h-3zM324 109h1v3h-1zM323 113h3v1h-3zM324 112h1v3h-1zM323 117h3v1h-3zM324 116h1v3h-1zM323 120h3v1h-3zM324 119h1v3h-1zM323 124h3v1h-3zM324 123h1v3h-1zM323 128h3v1h-3zM324 127h1v3h-1zM323 131h3v1h-3zM324 130h1v3h-1zM323 135h3v1h-3zM324 134h1v3h-1zM323 138h3v1h-3zM324 137h1v3h-1zM326 86h3v1h-3zM327 85h1v3h-1zM326 90h3v1h-3zM327 89h1v3h-1zM326 93h3v1h-3zM327 92h1v3h-1zM326 97h3v1h-3zM327 96h1v3h-1zM326 100h3v1h-3zM327 99h1v3h-1zM326 104h3v1h-3zM327 103h1v3h-1zM326 108h3v1h-3zM327 107h1v3h-1zM326 111h3v1h-3zM327 110h1v3h-1zM326 115h3v1h-3zM327 114h1v3h-1zM326 118h3v1h-3zM327 117h1v3h-1zM326 122h3v1h-3zM327 121h1v3h-1zM326 126h3v1h-3zM327 125h1v3h-1zM326 129h3v1h-3zM327 128h1v3h-1zM326 133h3v1h-3zM327 132h1v3h-1zM326 137h3v1h-3zM327 136h1v3h-1z" fill="#f0f0f0"/>
<path d="M309 84h1v1h-1zM309 88h1v1h-1zM309 92h1v1h-1zM309 95h1v1h-1zM309 99h1v1h-1zM309 102h1v1h-1zM309 106h1v1h-1zM309 110h1v1h-1zM309 113h1v1h-1zM309 117h1v1h-1zM309 120h1v1h-1zM309 124h1v1h-1zM309 128h1v1h-1zM309 131h1v1h-1zM309 135h1v1h-1zM309 138h1v1h-1zM313 86h1v1h-1zM313 90h1v1h-1zM313 93h1v1h-1zM313 97h1v1h-1zM313 100h1v1h-1zM313 104h1v1h-1zM313 108h1v1h-1zM313 111h1v1h-1zM313 115h1v1h-1zM313 118h1v1h-1zM313 122h1v1h-1zM313 126h1v1h-1zM313 129h1v1h-1zM313 133h1v1h-1zM313 137h1v1h-1zM316 84h1v1h-1zM316 88h1v1h-1zM316 92h1v1h-1zM316 95h1v1h-1zM316 99h1v1h-1zM316 102h1v1h-1zM316 106h1v1h-1zM316 110h1v1h-1zM316 113h1v1h-1zM316 117h1v1h-1zM316 120h1v1h-1zM316 124h1v1h-1zM316 128h1v1h-1zM316 131h1v1h-1zM316 135h1v1h-1zM316 138h1v1h-1zM320 86h1v1h-1zM320 90h1v1h-1zM320 93h1v1h-1zM320 97h1v1h-1zM320 100h1v1h-1zM320 104h1v1h-1zM320 108h1v1h-1zM320 111h1v1h-1zM320 115h1v1h-1zM320 118h1v1h-1zM320 122h1v1h-1zM320 126h1v1h-1zM320 129h1v1h-1zM320 133h1v1h-1zM320 137h1v1h-1zM324 84h1v1h-1zM324 88h1v1h-1zM324 92h1v1h-1zM324 95h1v1h-1zM324 99h1v1h-1zM324 102h1v1h-1zM324 106h1v1h-1zM324 110h1v1h-1zM324 113h1v1h-1zM324 117h1v1h-1zM324 120h1v1h-1zM324 124h1v1h-1zM324 128h1v1h-1zM324 131h1v1h-1zM324 135h1v1h-1zM324 138h1v1h-1zM327 86h1v1h-1zM327 90h1v1h-1zM327 93h1v1h-1zM327 97h1v1h-1zM327 100h1v1h-1zM327 104h1v1h-1zM327 108h1v1h-1zM327 111h1v1h-1zM327 115h1v1h-1zM327 118h1v1h-1zM327 122h1v1h-1zM327 126h1v1h-1zM327 129h1v1h-1zM327 133h1v1h-1zM327 137h1v1h-1z" fill="#606060"/>
<path d="M307.5,140.70V83.5H327.5V140.70" fill="none" stroke="#606060" stroke-width="1"/>
<line x1="317.50" y1="73.50" x2="317.50" y2="92.40" stroke="#888" stroke-width="1"/>
<line x1="316.10" y1="73.50" x2="318.90" y2="73.50" stroke="#333" stroke-width="1"/>
<line x1="316.10" y1="92.50" x2="318.90" y2="92.50" stroke="#666" stroke-width="1"/>
<rect x="336.00" y="107.00" width="21.00" height="33.70" fill="#fff" />
<path d="M337 110h3v1h-3zM338 109h1v3h-1zM337 113h3v1h-3zM338 112h1v3h-1zM337 117h3v1h-3zM338 116h1v3h-1zM337 120h3v1h-3zM338 119h1v3h-1zM337 124h3v1h-3zM338 123h1v3h-1zM337 128h3v1h-3zM338 127h1v3h-1zM337 131h3v1h-3zM338 130h1v3h-1zM337 135h3v1h-3zM338 134h1v3h-1zM337 138h3v1h-3zM338 137h1v3h-1zM341 108h3v1h-3zM342 107h1v3h-1zM341 111h3v1h-3zM342 110h1v3h-1zM341 115h3v1h-3zM342 114h1v3h-1zM341 118h3v1h-3zM342 117h1v3h-1zM341 122h3v1h-3zM342 121h1v3h-1zM341 126h3v1h-3zM342 125h1v3h-1zM341 129h3v1h-3zM342 128h1v3h-1zM341 133h3v1h-3zM342 132h1v3h-1zM341 137h3v1h-3zM342 136h1v3h-1zM344 110h3v1h-3zM345 109h1v3h-1zM344 113h3v1h-3zM345 112h1v3h-1zM344 117h3v1h-3zM345 116h1v3h-1zM344 120h3v1h-3zM345 119h1v3h-1zM344 124h3v1h-3zM345 123h1v3h-1zM344 128h3v1h-3zM345 127h1v3h-1zM344 131h3v1h-3zM345 130h1v3h-1zM344 135h3v1h-3zM345 134h1v3h-1zM344 138h3v1h-3zM345 137h1v3h-1zM348 108h3v1h-3zM349 107h1v3h-1zM348 111h3v1h-3zM349 110h1v3h-1zM348 115h3v1h-3zM349 114h1v3h-1zM348 118h3v1h-3zM349 117h1v3h-1zM348 122h3v1h-3zM349 121h1v3h-1zM348 126h3v1h-3zM349 125h1v3h-1zM348 129h3v1h-3zM349 128h1v3h-1zM348 133h3v1h-3zM349 132h1v3h-1zM348 137h3v1h-3zM349 136h1v3h-1zM351 110h3v1h-3zM352 109h1v3h-1zM351 113h3v1h-3zM352 112h1v3h-1zM351 117h3v1h-3zM352 116h1v3h-1zM351 120h3v1h-3zM352 119h1v3h-1zM351 124h3v1h-3zM352 123h1v3h-1zM351 128h3v1h-3zM352 127h1v3h-1zM351 131h3v1h-3zM352 130h1v3h-1zM351 135h3v1h-3zM352 134h1v3h-1zM351 138h3v1h-3zM352 137h1v3h-1zM355 108h3v1h-3zM356 107h1v3h-1zM355 111h3v1h-3zM356 110h1v3h-1zM355 115h3v1h-3zM356 114h1v3h-1zM355 118h3v1h-3zM356 117h1v3h-1zM355 122h3v1h-3zM356 121h1v3h-1zM355 126h3v1h-3zM356 125h1v3h-1zM355 129h3v1h-3zM356 128h1v3h-1zM355 133h3v1h-3zM356 132h1v3h-1zM355 137h3v1h-3zM356 136h1v3h-1z" fill="#f0f0f0"/>
<path d="M338 110h1v1h-1zM338 113h1v1h-1zM338 117h1v1h-1zM338 120h1v1h-1zM338 124h1v1h-1zM338 128h1v1h-1zM338 131h1v1h-1zM338 135h1v1h-1zM338 138h1v1h-1zM342 108h1v1h-1zM342 111h1v1h-1zM342 115h1v1h-1zM342 118h1v1h-1zM342 122h1v1h-1zM342 126h1v1h-1zM342 129h1v1h-1zM342 133h1v1h-1zM342 137h1v1h-1zM345 110h1v1h-1zM345 113h1v1h-1zM345 117h1v1h-1zM345 120h1v1h-1zM345 124h1v1h-1zM345 128h1v1h-1zM345 131h1v1h-1zM345 135h1v1h-1zM345 138h1v1h-1zM349 108h1v1h-1zM349 111h1v1h-1zM349 115h1v1h-1zM349 118h1v1h-1zM349 122h1v1h-1zM349 126h1v1h-1zM349 129h1v1h-1zM349 133h1v1h-1zM349 137h1v1h-1zM352 110h1v1h-1zM352 113h1v1h-1zM352 117h1v1h-1zM352 120h1v1h-1zM352 124h1v1h-1zM352 128h1v1h-1zM352 131h1v1h-1zM352 135h1v1h-1zM352 138h1v1h-1zM356 108h1v1h-1zM356 111h1v1h-1zM356 115h1v1h-1zM356 118h1v1h-1zM356 122h1v1h-1zM356 126h1v1h-1zM356 129h1v1h-1zM356 133h1v1h-1zM356 137h1v1h-1z" fill="#606060"/>
<path d="M336.5,140.70V107.5H356.5V140.70" fill="none" stroke="#606060" stroke-width="1"/>
<line x1="346.50" y1="103.50" x2="346.50" y2="111.00" stroke="#888" stroke-width="1"/>
<line x1="345.10" y1="103.50" x2="347.90" y2="103.50" stroke="#333" stroke-width="1"/>
<line x1="345.10" y1="111.50" x2="347.90" y2="111.50" stroke="#666" stroke-width="1"/>
<path d="M318.60,64.90L318.60,62.80M318.60,64.90L320.60,64.25M318.60,64.90L319.83,66.60M318.60,64.90L317.37,66.60M318.60,64.90L316.60,64.25" stroke="#000" stroke-width="1.3" stroke-linecap="round" fill="none"/>
<path d="M343.50,64.90L343.50,62.80M343.50,64.90L345.50,64.25M343.50,64.90L344.73,66.60M343.50,64.90L342.27,66.60M343.50,64.90L341.50,64.25" stroke="#000" stroke-width="1.3" stroke-linecap="round" fill="none"/>
<path d="M349.40,64.90L349.40,62.80M349.40,64.90L351.40,64.25M349.40,64.90L350.63,66.60M349.40,64.90L348.17,66.60M349.40,64.90L347.40,64.25" stroke="#000" stroke-width="1.3" stroke-linecap="round" fill="none"/>
<text x="187.80" y="154.10" font-size="8.3" text-anchor="start" font-weight="normal" fill="#111" textLength="12.00" lengthAdjust="spacingAndGlyphs" >TNF</text>
<rect x="201.00" y="150.00" width="1.30" height="1.00" fill="#555" />
<text x="202.70" y="154.10" font-size="8.3" text-anchor="start" font-weight="normal" fill="#111" textLength="5.80" lengthAdjust="spacingAndGlyphs" >α</text>
<text x="188.00" y="163.60" font-size="8.3" text-anchor="start" font-weight="normal" fill="#111" textLength="39.00" lengthAdjust="spacingAndGlyphs" >TAE (μg/mL)</text>
<rect x="233.00" y="150.00" width="1.80" height="0.90" fill="#333" />
<rect x="257.40" y="150.40" width="3.20" height="0.80" fill="#333" />
<rect x="258.60" y="149.20" width="0.80" height="3.20" fill="#333" />
<rect x="284.80" y="150.40" width="3.20" height="0.80" fill="#333" />
<rect x="286.00" y="149.20" width="0.80" height="3.20" fill="#333" />
<rect x="313.10" y="150.40" width="3.20" height="0.80" fill="#333" />
<rect x="314.30" y="149.20" width="0.80" height="3.20" fill="#333" />
<rect x="343.80" y="150.40" width="3.20" height="0.80" fill="#333" />
<rect x="345.00" y="149.20" width="0.80" height="3.20" fill="#333" />
<rect x="233.40" y="158.00" width="1.30" height="1.40" fill="#444" />
<rect x="257.80" y="160.40" width="1.50" height="0.90" fill="#555" />
<text x="286.40" y="163.40" font-size="8.3" text-anchor="middle" font-weight="normal" fill="#111" textLength="7.60" lengthAdjust="spacingAndGlyphs" >10</text>
<text x="314.70" y="163.40" font-size="8.3" text-anchor="middle" font-weight="normal" fill="#111" textLength="7.60" lengthAdjust="spacingAndGlyphs" >50</text>
<text x="345.40" y="163.40" font-size="8.3" text-anchor="middle" font-weight="normal" fill="#111" textLength="11.40" lengthAdjust="spacingAndGlyphs" >250</text>
<line x1="399.60" y1="8.10" x2="399.60" y2="141.20" stroke="#b4b4b4" stroke-width="1"/>
<line x1="399.60" y1="140.70" x2="541.60" y2="140.70" stroke="#b4b4b4" stroke-width="1"/>
<line x1="397.30" y1="140.70" x2="399.60" y2="140.70" stroke="#b4b4b4" stroke-width="1"/>
<text x="394.20" y="143.25" font-size="8.6" text-anchor="end" font-weight="normal" fill="#111" textLength="3.50" lengthAdjust="spacingAndGlyphs" >0</text>
<line x1="397.30" y1="126.02" x2="399.60" y2="126.02" stroke="#b4b4b4" stroke-width="1"/>
<text x="394.20" y="128.57" font-size="8.6" text-anchor="end" font-weight="normal" fill="#111" textLength="3.50" lengthAdjust="spacingAndGlyphs" >2</text>
<line x1="397.30" y1="111.34" x2="399.60" y2="111.34" stroke="#b4b4b4" stroke-width="1"/>
<text x="394.20" y="113.89" font-size="8.6" text-anchor="end" font-weight="normal" fill="#111" textLength="3.50" lengthAdjust="spacingAndGlyphs" >4</text>
<line x1="397.30" y1="96.67" x2="399.60" y2="96.67" stroke="#b4b4b4" stroke-width="1"/>
<text x="394.20" y="99.22" font-size="8.6" text-anchor="end" font-weight="normal" fill="#111" textLength="3.50" lengthAdjust="spacingAndGlyphs" >6</text>
<line x1="397.30" y1="81.99" x2="399.60" y2="81.99" stroke="#b4b4b4" stroke-width="1"/>
<text x="394.20" y="84.54" font-size="8.6" text-anchor="end" font-weight="normal" fill="#111" textLength="3.50" lengthAdjust="spacingAndGlyphs" >8</text>
<line x1="397.30" y1="67.31" x2="399.60" y2="67.31" stroke="#b4b4b4" stroke-width="1"/>
<text x="394.20" y="69.86" font-size="8.6" text-anchor="end" font-weight="normal" fill="#111" textLength="7.00" lengthAdjust="spacingAndGlyphs" >10</text>
<line x1="397.30" y1="52.63" x2="399.60" y2="52.63" stroke="#b4b4b4" stroke-width="1"/>
<text x="394.20" y="55.18" font-size="8.6" text-anchor="end" font-weight="normal" fill="#111" textLength="7.00" lengthAdjust="spacingAndGlyphs" >12</text>
<line x1="397.30" y1="37.96" x2="399.60" y2="37.96" stroke="#b4b4b4" stroke-width="1"/>
<text x="394.20" y="40.51" font-size="8.6" text-anchor="end" font-weight="normal" fill="#111" textLength="7.00" lengthAdjust="spacingAndGlyphs" >14</text>
<line x1="397.30" y1="23.28" x2="399.60" y2="23.28" stroke="#b4b4b4" stroke-width="1"/>
<text x="394.20" y="25.83" font-size="8.6" text-anchor="end" font-weight="normal" fill="#111" textLength="7.00" lengthAdjust="spacingAndGlyphs" >16</text>
<line x1="397.30" y1="8.60" x2="399.60" y2="8.60" stroke="#b4b4b4" stroke-width="1"/>
<text x="394.20" y="11.15" font-size="8.6" text-anchor="end" font-weight="normal" fill="#111" textLength="7.00" lengthAdjust="spacingAndGlyphs" >18</text>
<line x1="428.50" y1="140.70" x2="428.50" y2="142.90" stroke="#b4b4b4" stroke-width="1"/>
<line x1="456.80" y1="140.70" x2="456.80" y2="142.90" stroke="#b4b4b4" stroke-width="1"/>
<line x1="485.10" y1="140.70" x2="485.10" y2="142.90" stroke="#b4b4b4" stroke-width="1"/>
<line x1="513.40" y1="140.70" x2="513.40" y2="142.90" stroke="#b4b4b4" stroke-width="1"/>
<line x1="541.60" y1="140.70" x2="541.60" y2="142.90" stroke="#b4b4b4" stroke-width="1"/>
<text x="371.50" y="82.80" font-size="8.1" text-anchor="middle" fill="#111" transform="rotate(-90 371.50 79.80)" textLength="21.5" lengthAdjust="spacingAndGlyphs">pg/mL</text>
<text x="413.30" y="21.70" font-size="12" text-anchor="start" font-weight="normal" fill="#111" textLength="38.50" lengthAdjust="spacingAndGlyphs" style="stroke-width:0.32px">VCAM-1</text>
<rect x="432.40" y="38.00" width="20.30" height="102.70" fill="#000" />
<line x1="442.50" y1="25.50" x2="442.50" y2="40.00" stroke="#888" stroke-width="1"/>
<line x1="441.10" y1="25.50" x2="443.90" y2="25.50" stroke="#333" stroke-width="1"/>
<rect x="460.00" y="53.00" width="21.00" height="87.70" fill="#fff" />
<path d="M460 56h3v1h-3zM461 55h1v3h-1zM460 59h3v1h-3zM461 58h1v3h-1zM460 63h3v1h-3zM461 62h1v3h-1zM460 66h3v1h-3zM461 65h1v3h-1zM460 70h3v1h-3zM461 69h1v3h-1zM460 74h3v1h-3zM461 73h1v3h-1zM460 77h3v1h-3zM461 76h1v3h-1zM460 81h3v1h-3zM461 80h1v3h-1zM460 84h3v1h-3zM461 83h1v3h-1zM460 88h3v1h-3zM461 87h1v3h-1zM460 92h3v1h-3zM461 91h1v3h-1zM460 95h3v1h-3zM461 94h1v3h-1zM460 99h3v1h-3zM461 98h1v3h-1zM460 102h3v1h-3zM461 101h1v3h-1zM460 106h3v1h-3zM461 105h1v3h-1zM460 110h3v1h-3zM461 109h1v3h-1zM460 113h3v1h-3zM461 112h1v3h-1zM460 117h3v1h-3zM461 116h1v3h-1zM460 120h3v1h-3zM461 119h1v3h-1zM460 124h3v1h-3zM461 123h1v3h-1zM460 128h3v1h-3zM461 127h1v3h-1zM460 131h3v1h-3zM461 130h1v3h-1zM460 135h3v1h-3zM461 134h1v3h-1zM460 138h3v1h-3zM461 137h1v3h-1zM463 54h3v1h-3zM464 53h1v3h-1zM463 57h3v1h-3zM464 56h1v3h-1zM463 61h3v1h-3zM464 60h1v3h-1zM463 64h3v1h-3zM464 63h1v3h-1zM463 68h3v1h-3zM464 67h1v3h-1zM463 72h3v1h-3zM464 71h1v3h-1zM463 75h3v1h-3zM464 74h1v3h-1zM463 79h3v1h-3zM464 78h1v3h-1zM463 82h3v1h-3zM464 81h1v3h-1zM463 86h3v1h-3zM464 85h1v3h-1zM463 90h3v1h-3zM464 89h1v3h-1zM463 93h3v1h-3zM464 92h1v3h-1zM463 97h3v1h-3zM464 96h1v3h-1zM463 100h3v1h-3zM464 99h1v3h-1zM463 104h3v1h-3zM464 103h1v3h-1zM463 108h3v1h-3zM464 107h1v3h-1zM463 111h3v1h-3zM464 110h1v3h-1zM463 115h3v1h-3zM464 114h1v3h-1zM463 118h3v1h-3zM464 117h1v3h-1zM463 122h3v1h-3zM464 121h1v3h-1zM463 126h3v1h-3zM464 125h1v3h-1zM463 129h3v1h-3zM464 128h1v3h-1zM463 133h3v1h-3zM464 132h1v3h-1zM463 137h3v1h-3zM464 136h1v3h-1zM467 56h3v1h-3zM468 55h1v3h-1zM467 59h3v1h-3zM468 58h1v3h-1zM467 63h3v1h-3zM468 62h1v3h-1zM467 66h3v1h-3zM468 65h1v3h-1zM467 70h3v1h-3zM468 69h1v3h-1zM467 74h3v1h-3zM468 73h1v3h-1zM467 77h3v1h-3zM468 76h1v3h-1zM467 81h3v1h-3zM468 80h1v3h-1zM467 84h3v1h-3zM468 83h1v3h-1zM467 88h3v1h-3zM468 87h1v3h-1zM467 92h3v1h-3zM468 91h1v3h-1zM467 95h3v1h-3zM468 94h1v3h-1zM467 99h3v1h-3zM468 98h1v3h-1zM467 102h3v1h-3zM468 101h1v3h-1zM467 106h3v1h-3zM468 105h1v3h-1zM467 110h3v1h-3zM468 109h1v3h-1zM467 113h3v1h-3zM468 112h1v3h-1zM467 117h3v1h-3zM468 116h1v3h-1zM467 120h3v1h-3zM468 119h1v3h-1zM467 124h3v1h-3zM468 123h1v3h-1zM467 128h3v1h-3zM468 127h1v3h-1zM467 131h3v1h-3zM468 130h1v3h-1zM467 135h3v1h-3zM468 134h1v3h-1zM467 138h3v1h-3zM468 137h1v3h-1zM470 54h3v1h-3zM471 53h1v3h-1zM470 57h3v1h-3zM471 56h1v3h-1zM470 61h3v1h-3zM471 60h1v3h-1zM470 64h3v1h-3zM471 63h1v3h-1zM470 68h3v1h-3zM471 67h1v3h-1zM470 72h3v1h-3zM471 71h1v3h-1zM470 75h3v1h-3zM471 74h1v3h-1zM470 79h3v1h-3zM471 78h1v3h-1zM470 82h3v1h-3zM471 81h1v3h-1zM470 86h3v1h-3zM471 85h1v3h-1zM470 90h3v1h-3zM471 89h1v3h-1zM470 93h3v1h-3zM471 92h1v3h-1zM470 97h3v1h-3zM471 96h1v3h-1zM470 100h3v1h-3zM471 99h1v3h-1zM470 104h3v1h-3zM471 103h1v3h-1zM470 108h3v1h-3zM471 107h1v3h-1zM470 111h3v1h-3zM471 110h1v3h-1zM470 115h3v1h-3zM471 114h1v3h-1zM470 118h3v1h-3zM471 117h1v3h-1zM470 122h3v1h-3zM471 121h1v3h-1zM470 126h3v1h-3zM471 125h1v3h-1zM470 129h3v1h-3zM471 128h1v3h-1zM470 133h3v1h-3zM471 132h1v3h-1zM470 137h3v1h-3zM471 136h1v3h-1zM474 56h3v1h-3zM475 55h1v3h-1zM474 59h3v1h-3zM475 58h1v3h-1zM474 63h3v1h-3zM475 62h1v3h-1zM474 66h3v1h-3zM475 65h1v3h-1zM474 70h3v1h-3zM475 69h1v3h-1zM474 74h3v1h-3zM475 73h1v3h-1zM474 77h3v1h-3zM475 76h1v3h-1zM474 81h3v1h-3zM475 80h1v3h-1zM474 84h3v1h-3zM475 83h1v3h-1zM474 88h3v1h-3zM475 87h1v3h-1zM474 92h3v1h-3zM475 91h1v3h-1zM474 95h3v1h-3zM475 94h1v3h-1zM474 99h3v1h-3zM475 98h1v3h-1zM474 102h3v1h-3zM475 101h1v3h-1zM474 106h3v1h-3zM475 105h1v3h-1zM474 110h3v1h-3zM475 109h1v3h-1zM474 113h3v1h-3zM475 112h1v3h-1zM474 117h3v1h-3zM475 116h1v3h-1zM474 120h3v1h-3zM475 119h1v3h-1zM474 124h3v1h-3zM475 123h1v3h-1zM474 128h3v1h-3zM475 127h1v3h-1zM474 131h3v1h-3zM475 130h1v3h-1zM474 135h3v1h-3zM475 134h1v3h-1zM474 138h3v1h-3zM475 137h1v3h-1zM478 54h3v1h-3zM479 53h1v3h-1zM478 57h3v1h-3zM479 56h1v3h-1zM478 61h3v1h-3zM479 60h1v3h-1zM478 64h3v1h-3zM479 63h1v3h-1zM478 68h3v1h-3zM479 67h1v3h-1zM478 72h3v1h-3zM479 71h1v3h-1zM478 75h3v1h-3zM479 74h1v3h-1zM478 79h3v1h-3zM479 78h1v3h-1zM478 82h3v1h-3zM479 81h1v3h-1zM478 86h3v1h-3zM479 85h1v3h-1zM478 90h3v1h-3zM479 89h1v3h-1zM478 93h3v1h-3zM479 92h1v3h-1zM478 97h3v1h-3zM479 96h1v3h-1zM478 100h3v1h-3zM479 99h1v3h-1zM478 104h3v1h-3zM479 103h1v3h-1zM478 108h3v1h-3zM479 107h1v3h-1zM478 111h3v1h-3zM479 110h1v3h-1zM478 115h3v1h-3zM479 114h1v3h-1zM478 118h3v1h-3zM479 117h1v3h-1zM478 122h3v1h-3zM479 121h1v3h-1zM478 126h3v1h-3zM479 125h1v3h-1zM478 129h3v1h-3zM479 128h1v3h-1zM478 133h3v1h-3zM479 132h1v3h-1zM478 137h3v1h-3zM479 136h1v3h-1z" fill="#f0f0f0"/>
<path d="M461 56h1v1h-1zM461 59h1v1h-1zM461 63h1v1h-1zM461 66h1v1h-1zM461 70h1v1h-1zM461 74h1v1h-1zM461 77h1v1h-1zM461 81h1v1h-1zM461 84h1v1h-1zM461 88h1v1h-1zM461 92h1v1h-1zM461 95h1v1h-1zM461 99h1v1h-1zM461 102h1v1h-1zM461 106h1v1h-1zM461 110h1v1h-1zM461 113h1v1h-1zM461 117h1v1h-1zM461 120h1v1h-1zM461 124h1v1h-1zM461 128h1v1h-1zM461 131h1v1h-1zM461 135h1v1h-1zM461 138h1v1h-1zM464 54h1v1h-1zM464 57h1v1h-1zM464 61h1v1h-1zM464 64h1v1h-1zM464 68h1v1h-1zM464 72h1v1h-1zM464 75h1v1h-1zM464 79h1v1h-1zM464 82h1v1h-1zM464 86h1v1h-1zM464 90h1v1h-1zM464 93h1v1h-1zM464 97h1v1h-1zM464 100h1v1h-1zM464 104h1v1h-1zM464 108h1v1h-1zM464 111h1v1h-1zM464 115h1v1h-1zM464 118h1v1h-1zM464 122h1v1h-1zM464 126h1v1h-1zM464 129h1v1h-1zM464 133h1v1h-1zM464 137h1v1h-1zM468 56h1v1h-1zM468 59h1v1h-1zM468 63h1v1h-1zM468 66h1v1h-1zM468 70h1v1h-1zM468 74h1v1h-1zM468 77h1v1h-1zM468 81h1v1h-1zM468 84h1v1h-1zM468 88h1v1h-1zM468 92h1v1h-1zM468 95h1v1h-1zM468 99h1v1h-1zM468 102h1v1h-1zM468 106h1v1h-1zM468 110h1v1h-1zM468 113h1v1h-1zM468 117h1v1h-1zM468 120h1v1h-1zM468 124h1v1h-1zM468 128h1v1h-1zM468 131h1v1h-1zM468 135h1v1h-1zM468 138h1v1h-1zM471 54h1v1h-1zM471 57h1v1h-1zM471 61h1v1h-1zM471 64h1v1h-1zM471 68h1v1h-1zM471 72h1v1h-1zM471 75h1v1h-1zM471 79h1v1h-1zM471 82h1v1h-1zM471 86h1v1h-1zM471 90h1v1h-1zM471 93h1v1h-1zM471 97h1v1h-1zM471 100h1v1h-1zM471 104h1v1h-1zM471 108h1v1h-1zM471 111h1v1h-1zM471 115h1v1h-1zM471 118h1v1h-1zM471 122h1v1h-1zM471 126h1v1h-1zM471 129h1v1h-1zM471 133h1v1h-1zM471 137h1v1h-1zM475 56h1v1h-1zM475 59h1v1h-1zM475 63h1v1h-1zM475 66h1v1h-1zM475 70h1v1h-1zM475 74h1v1h-1zM475 77h1v1h-1zM475 81h1v1h-1zM475 84h1v1h-1zM475 88h1v1h-1zM475 92h1v1h-1zM475 95h1v1h-1zM475 99h1v1h-1zM475 102h1v1h-1zM475 106h1v1h-1zM475 110h1v1h-1zM475 113h1v1h-1zM475 117h1v1h-1zM475 120h1v1h-1zM475 124h1v1h-1zM475 128h1v1h-1zM475 131h1v1h-1zM475 135h1v1h-1zM475 138h1v1h-1zM479 54h1v1h-1zM479 57h1v1h-1zM479 61h1v1h-1zM479 64h1v1h-1zM479 68h1v1h-1zM479 72h1v1h-1zM479 75h1v1h-1zM479 79h1v1h-1zM479 82h1v1h-1zM479 86h1v1h-1zM479 90h1v1h-1zM479 93h1v1h-1zM479 97h1v1h-1zM479 100h1v1h-1zM479 104h1v1h-1zM479 108h1v1h-1zM479 111h1v1h-1zM479 115h1v1h-1zM479 118h1v1h-1zM479 122h1v1h-1zM479 126h1v1h-1zM479 129h1v1h-1zM479 133h1v1h-1zM479 137h1v1h-1z" fill="#606060"/>
<path d="M460.5,140.70V53.5H480.5V140.70" fill="none" stroke="#606060" stroke-width="1"/>
<line x1="470.50" y1="53.50" x2="470.50" y2="54.20" stroke="#888" stroke-width="1"/>
<line x1="469.10" y1="53.50" x2="471.90" y2="53.50" stroke="#333" stroke-width="1"/>
<line x1="469.10" y1="54.50" x2="471.90" y2="54.50" stroke="#666" stroke-width="1"/>
<rect x="488.00" y="63.00" width="21.00" height="77.70" fill="#fff" />
<path d="M488 66h3v1h-3zM489 65h1v3h-1zM488 70h3v1h-3zM489 69h1v3h-1zM488 74h3v1h-3zM489 73h1v3h-1zM488 77h3v1h-3zM489 76h1v3h-1zM488 81h3v1h-3zM489 80h1v3h-1zM488 84h3v1h-3zM489 83h1v3h-1zM488 88h3v1h-3zM489 87h1v3h-1zM488 92h3v1h-3zM489 91h1v3h-1zM488 95h3v1h-3zM489 94h1v3h-1zM488 99h3v1h-3zM489 98h1v3h-1zM488 102h3v1h-3zM489 101h1v3h-1zM488 106h3v1h-3zM489 105h1v3h-1zM488 110h3v1h-3zM489 109h1v3h-1zM488 113h3v1h-3zM489 112h1v3h-1zM488 117h3v1h-3zM489 116h1v3h-1zM488 120h3v1h-3zM489 119h1v3h-1zM488 124h3v1h-3zM489 123h1v3h-1zM488 128h3v1h-3zM489 127h1v3h-1zM488 131h3v1h-3zM489 130h1v3h-1zM488 135h3v1h-3zM489 134h1v3h-1zM488 138h3v1h-3zM489 137h1v3h-1zM492 64h3v1h-3zM493 63h1v3h-1zM492 68h3v1h-3zM493 67h1v3h-1zM492 72h3v1h-3zM493 71h1v3h-1zM492 75h3v1h-3zM493 74h1v3h-1zM492 79h3v1h-3zM493 78h1v3h-1zM492 82h3v1h-3zM493 81h1v3h-1zM492 86h3v1h-3zM493 85h1v3h-1zM492 90h3v1h-3zM493 89h1v3h-1zM492 93h3v1h-3zM493 92h1v3h-1zM492 97h3v1h-3zM493 96h1v3h-1zM492 100h3v1h-3zM493 99h1v3h-1zM492 104h3v1h-3zM493 103h1v3h-1zM492 108h3v1h-3zM493 107h1v3h-1zM492 111h3v1h-3zM493 110h1v3h-1zM492 115h3v1h-3zM493 114h1v3h-1zM492 118h3v1h-3zM493 117h1v3h-1zM492 122h3v1h-3zM493 121h1v3h-1zM492 126h3v1h-3zM493 125h1v3h-1zM492 129h3v1h-3zM493 128h1v3h-1zM492 133h3v1h-3zM493 132h1v3h-1zM492 137h3v1h-3zM493 136h1v3h-1zM496 66h3v1h-3zM497 65h1v3h-1zM496 70h3v1h-3zM497 69h1v3h-1zM496 74h3v1h-3zM497 73h1v3h-1zM496 77h3v1h-3zM497 76h1v3h-1zM496 81h3v1h-3zM497 80h1v3h-1zM496 84h3v1h-3zM497 83h1v3h-1zM496 88h3v1h-3zM497 87h1v3h-1zM496 92h3v1h-3zM497 91h1v3h-1zM496 95h3v1h-3zM497 94h1v3h-1zM496 99h3v1h-3zM497 98h1v3h-1zM496 102h3v1h-3zM497 101h1v3h-1zM496 106h3v1h-3zM497 105h1v3h-1zM496 110h3v1h-3zM497 109h1v3h-1zM496 113h3v1h-3zM497 112h1v3h-1zM496 117h3v1h-3zM497 116h1v3h-1zM496 120h3v1h-3zM497 119h1v3h-1zM496 124h3v1h-3zM497 123h1v3h-1zM496 128h3v1h-3zM497 127h1v3h-1zM496 131h3v1h-3zM497 130h1v3h-1zM496 135h3v1h-3zM497 134h1v3h-1zM496 138h3v1h-3zM497 137h1v3h-1zM499 64h3v1h-3zM500 63h1v3h-1zM499 68h3v1h-3zM500 67h1v3h-1zM499 72h3v1h-3zM500 71h1v3h-1zM499 75h3v1h-3zM500 74h1v3h-1zM499 79h3v1h-3zM500 78h1v3h-1zM499 82h3v1h-3zM500 81h1v3h-1zM499 86h3v1h-3zM500 85h1v3h-1zM499 90h3v1h-3zM500 89h1v3h-1zM499 93h3v1h-3zM500 92h1v3h-1zM499 97h3v1h-3zM500 96h1v3h-1zM499 100h3v1h-3zM500 99h1v3h-1zM499 104h3v1h-3zM500 103h1v3h-1zM499 108h3v1h-3zM500 107h1v3h-1zM499 111h3v1h-3zM500 110h1v3h-1zM499 115h3v1h-3zM500 114h1v3h-1zM499 118h3v1h-3zM500 117h1v3h-1zM499 122h3v1h-3zM500 121h1v3h-1zM499 126h3v1h-3zM500 125h1v3h-1zM499 129h3v1h-3zM500 128h1v3h-1zM499 133h3v1h-3zM500 132h1v3h-1zM499 137h3v1h-3zM500 136h1v3h-1zM503 66h3v1h-3zM504 65h1v3h-1zM503 70h3v1h-3zM504 69h1v3h-1zM503 74h3v1h-3zM504 73h1v3h-1zM503 77h3v1h-3zM504 76h1v3h-1zM503 81h3v1h-3zM504 80h1v3h-1zM503 84h3v1h-3zM504 83h1v3h-1zM503 88h3v1h-3zM504 87h1v3h-1zM503 92h3v1h-3zM504 91h1v3h-1zM503 95h3v1h-3zM504 94h1v3h-1zM503 99h3v1h-3zM504 98h1v3h-1zM503 102h3v1h-3zM504 101h1v3h-1zM503 106h3v1h-3zM504 105h1v3h-1zM503 110h3v1h-3zM504 109h1v3h-1zM503 113h3v1h-3zM504 112h1v3h-1zM503 117h3v1h-3zM504 116h1v3h-1zM503 120h3v1h-3zM504 119h1v3h-1zM503 124h3v1h-3zM504 123h1v3h-1zM503 128h3v1h-3zM504 127h1v3h-1zM503 131h3v1h-3zM504 130h1v3h-1zM503 135h3v1h-3zM504 134h1v3h-1zM503 138h3v1h-3zM504 137h1v3h-1zM506 64h3v1h-3zM507 63h1v3h-1zM506 68h3v1h-3zM507 67h1v3h-1zM506 72h3v1h-3zM507 71h1v3h-1zM506 75h3v1h-3zM507 74h1v3h-1zM506 79h3v1h-3zM507 78h1v3h-1zM506 82h3v1h-3zM507 81h1v3h-1zM506 86h3v1h-3zM507 85h1v3h-1zM506 90h3v1h-3zM507 89h1v3h-1zM506 93h3v1h-3zM507 92h1v3h-1zM506 97h3v1h-3zM507 96h1v3h-1zM506 100h3v1h-3zM507 99h1v3h-1zM506 104h3v1h-3zM507 103h1v3h-1zM506 108h3v1h-3zM507 107h1v3h-1zM506 111h3v1h-3zM507 110h1v3h-1zM506 115h3v1h-3zM507 114h1v3h-1zM506 118h3v1h-3zM507 117h1v3h-1zM506 122h3v1h-3zM507 121h1v3h-1zM506 126h3v1h-3zM507 125h1v3h-1zM506 129h3v1h-3zM507 128h1v3h-1zM506 133h3v1h-3zM507 132h1v3h-1zM506 137h3v1h-3zM507 136h1v3h-1z" fill="#f0f0f0"/>
<path d="M489 66h1v1h-1zM489 70h1v1h-1zM489 74h1v1h-1zM489 77h1v1h-1zM489 81h1v1h-1zM489 84h1v1h-1zM489 88h1v1h-1zM489 92h1v1h-1zM489 95h1v1h-1zM489 99h1v1h-1zM489 102h1v1h-1zM489 106h1v1h-1zM489 110h1v1h-1zM489 113h1v1h-1zM489 117h1v1h-1zM489 120h1v1h-1zM489 124h1v1h-1zM489 128h1v1h-1zM489 131h1v1h-1zM489 135h1v1h-1zM489 138h1v1h-1zM493 64h1v1h-1zM493 68h1v1h-1zM493 72h1v1h-1zM493 75h1v1h-1zM493 79h1v1h-1zM493 82h1v1h-1zM493 86h1v1h-1zM493 90h1v1h-1zM493 93h1v1h-1zM493 97h1v1h-1zM493 100h1v1h-1zM493 104h1v1h-1zM493 108h1v1h-1zM493 111h1v1h-1zM493 115h1v1h-1zM493 118h1v1h-1zM493 122h1v1h-1zM493 126h1v1h-1zM493 129h1v1h-1zM493 133h1v1h-1zM493 137h1v1h-1zM497 66h1v1h-1zM497 70h1v1h-1zM497 74h1v1h-1zM497 77h1v1h-1zM497 81h1v1h-1zM497 84h1v1h-1zM497 88h1v1h-1zM497 92h1v1h-1zM497 95h1v1h-1zM497 99h1v1h-1zM497 102h1v1h-1zM497 106h1v1h-1zM497 110h1v1h-1zM497 113h1v1h-1zM497 117h1v1h-1zM497 120h1v1h-1zM497 124h1v1h-1zM497 128h1v1h-1zM497 131h1v1h-1zM497 135h1v1h-1zM497 138h1v1h-1zM500 64h1v1h-1zM500 68h1v1h-1zM500 72h1v1h-1zM500 75h1v1h-1zM500 79h1v1h-1zM500 82h1v1h-1zM500 86h1v1h-1zM500 90h1v1h-1zM500 93h1v1h-1zM500 97h1v1h-1zM500 100h1v1h-1zM500 104h1v1h-1zM500 108h1v1h-1zM500 111h1v1h-1zM500 115h1v1h-1zM500 118h1v1h-1zM500 122h1v1h-1zM500 126h1v1h-1zM500 129h1v1h-1zM500 133h1v1h-1zM500 137h1v1h-1zM504 66h1v1h-1zM504 70h1v1h-1zM504 74h1v1h-1zM504 77h1v1h-1zM504 81h1v1h-1zM504 84h1v1h-1zM504 88h1v1h-1zM504 92h1v1h-1zM504 95h1v1h-1zM504 99h1v1h-1zM504 102h1v1h-1zM504 106h1v1h-1zM504 110h1v1h-1zM504 113h1v1h-1zM504 117h1v1h-1zM504 120h1v1h-1zM504 124h1v1h-1zM504 128h1v1h-1zM504 131h1v1h-1zM504 135h1v1h-1zM504 138h1v1h-1zM507 64h1v1h-1zM507 68h1v1h-1zM507 72h1v1h-1zM507 75h1v1h-1zM507 79h1v1h-1zM507 82h1v1h-1zM507 86h1v1h-1zM507 90h1v1h-1zM507 93h1v1h-1zM507 97h1v1h-1zM507 100h1v1h-1zM507 104h1v1h-1zM507 108h1v1h-1zM507 111h1v1h-1zM507 115h1v1h-1zM507 118h1v1h-1zM507 122h1v1h-1zM507 126h1v1h-1zM507 129h1v1h-1zM507 133h1v1h-1zM507 137h1v1h-1z" fill="#606060"/>
<path d="M488.5,140.70V63.5H508.5V140.70" fill="none" stroke="#606060" stroke-width="1"/>
<line x1="498.50" y1="52.50" x2="498.50" y2="75.00" stroke="#888" stroke-width="1"/>
<line x1="497.10" y1="52.50" x2="499.90" y2="52.50" stroke="#333" stroke-width="1"/>
<line x1="497.10" y1="75.50" x2="499.90" y2="75.50" stroke="#666" stroke-width="1"/>
<rect x="516.00" y="98.00" width="21.00" height="42.70" fill="#fff" />
<path d="M517 99h3v1h-3zM518 98h1v3h-1zM517 102h3v1h-3zM518 101h1v3h-1zM517 106h3v1h-3zM518 105h1v3h-1zM517 110h3v1h-3zM518 109h1v3h-1zM517 113h3v1h-3zM518 112h1v3h-1zM517 117h3v1h-3zM518 116h1v3h-1zM517 120h3v1h-3zM518 119h1v3h-1zM517 124h3v1h-3zM518 123h1v3h-1zM517 128h3v1h-3zM518 127h1v3h-1zM517 131h3v1h-3zM518 130h1v3h-1zM517 135h3v1h-3zM518 134h1v3h-1zM517 138h3v1h-3zM518 137h1v3h-1zM521 100h3v1h-3zM522 99h1v3h-1zM521 104h3v1h-3zM522 103h1v3h-1zM521 108h3v1h-3zM522 107h1v3h-1zM521 111h3v1h-3zM522 110h1v3h-1zM521 115h3v1h-3zM522 114h1v3h-1zM521 118h3v1h-3zM522 117h1v3h-1zM521 122h3v1h-3zM522 121h1v3h-1zM521 126h3v1h-3zM522 125h1v3h-1zM521 129h3v1h-3zM522 128h1v3h-1zM521 133h3v1h-3zM522 132h1v3h-1zM521 137h3v1h-3zM522 136h1v3h-1zM524 99h3v1h-3zM525 98h1v3h-1zM524 102h3v1h-3zM525 101h1v3h-1zM524 106h3v1h-3zM525 105h1v3h-1zM524 110h3v1h-3zM525 109h1v3h-1zM524 113h3v1h-3zM525 112h1v3h-1zM524 117h3v1h-3zM525 116h1v3h-1zM524 120h3v1h-3zM525 119h1v3h-1zM524 124h3v1h-3zM525 123h1v3h-1zM524 128h3v1h-3zM525 127h1v3h-1zM524 131h3v1h-3zM525 130h1v3h-1zM524 135h3v1h-3zM525 134h1v3h-1zM524 138h3v1h-3zM525 137h1v3h-1zM528 100h3v1h-3zM529 99h1v3h-1zM528 104h3v1h-3zM529 103h1v3h-1zM528 108h3v1h-3zM529 107h1v3h-1zM528 111h3v1h-3zM529 110h1v3h-1zM528 115h3v1h-3zM529 114h1v3h-1zM528 118h3v1h-3zM529 117h1v3h-1zM528 122h3v1h-3zM529 121h1v3h-1zM528 126h3v1h-3zM529 125h1v3h-1zM528 129h3v1h-3zM529 128h1v3h-1zM528 133h3v1h-3zM529 132h1v3h-1zM528 137h3v1h-3zM529 136h1v3h-1zM532 99h3v1h-3zM533 98h1v3h-1zM532 102h3v1h-3zM533 101h1v3h-1zM532 106h3v1h-3zM533 105h1v3h-1zM532 110h3v1h-3zM533 109h1v3h-1zM532 113h3v1h-3zM533 112h1v3h-1zM532 117h3v1h-3zM533 116h1v3h-1zM532 120h3v1h-3zM533 119h1v3h-1zM532 124h3v1h-3zM533 123h1v3h-1zM532 128h3v1h-3zM533 127h1v3h-1zM532 131h3v1h-3zM533 130h1v3h-1zM532 135h3v1h-3zM533 134h1v3h-1zM532 138h3v1h-3zM533 137h1v3h-1zM535 100h3v1h-3zM536 99h1v3h-1zM535 104h3v1h-3zM536 103h1v3h-1zM535 108h3v1h-3zM536 107h1v3h-1zM535 111h3v1h-3zM536 110h1v3h-1zM535 115h3v1h-3zM536 114h1v3h-1zM535 118h3v1h-3zM536 117h1v3h-1zM535 122h3v1h-3zM536 121h1v3h-1zM535 126h3v1h-3zM536 125h1v3h-1zM535 129h3v1h-3zM536 128h1v3h-1zM535 133h3v1h-3zM536 132h1v3h-1zM535 137h3v1h-3zM536 136h1v3h-1z" fill="#f0f0f0"/>
<path d="M518 99h1v1h-1zM518 102h1v1h-1zM518 106h1v1h-1zM518 110h1v1h-1zM518 113h1v1h-1zM518 117h1v1h-1zM518 120h1v1h-1zM518 124h1v1h-1zM518 128h1v1h-1zM518 131h1v1h-1zM518 135h1v1h-1zM518 138h1v1h-1zM522 100h1v1h-1zM522 104h1v1h-1zM522 108h1v1h-1zM522 111h1v1h-1zM522 115h1v1h-1zM522 118h1v1h-1zM522 122h1v1h-1zM522 126h1v1h-1zM522 129h1v1h-1zM522 133h1v1h-1zM522 137h1v1h-1zM525 99h1v1h-1zM525 102h1v1h-1zM525 106h1v1h-1zM525 110h1v1h-1zM525 113h1v1h-1zM525 117h1v1h-1zM525 120h1v1h-1zM525 124h1v1h-1zM525 128h1v1h-1zM525 131h1v1h-1zM525 135h1v1h-1zM525 138h1v1h-1zM529 100h1v1h-1zM529 104h1v1h-1zM529 108h1v1h-1zM529 111h1v1h-1zM529 115h1v1h-1zM529 118h1v1h-1zM529 122h1v1h-1zM529 126h1v1h-1zM529 129h1v1h-1zM529 133h1v1h-1zM529 137h1v1h-1zM533 99h1v1h-1zM533 102h1v1h-1zM533 106h1v1h-1zM533 110h1v1h-1zM533 113h1v1h-1zM533 117h1v1h-1zM533 120h1v1h-1zM533 124h1v1h-1zM533 128h1v1h-1zM533 131h1v1h-1zM533 135h1v1h-1zM533 138h1v1h-1zM536 100h1v1h-1zM536 104h1v1h-1zM536 108h1v1h-1zM536 111h1v1h-1zM536 115h1v1h-1zM536 118h1v1h-1zM536 122h1v1h-1zM536 126h1v1h-1zM536 129h1v1h-1zM536 133h1v1h-1zM536 137h1v1h-1z" fill="#606060"/>
<path d="M516.5,140.70V98.5H536.5V140.70" fill="none" stroke="#606060" stroke-width="1"/>
<line x1="526.50" y1="90.50" x2="526.50" y2="105.00" stroke="#888" stroke-width="1"/>
<line x1="525.10" y1="90.50" x2="527.90" y2="90.50" stroke="#333" stroke-width="1"/>
<line x1="525.10" y1="105.50" x2="527.90" y2="105.50" stroke="#666" stroke-width="1"/>
<path d="M524.50,81.00L524.50,78.90M524.50,81.00L526.50,80.35M524.50,81.00L525.73,82.70M524.50,81.00L523.27,82.70M524.50,81.00L522.50,80.35" stroke="#000" stroke-width="1.3" stroke-linecap="round" fill="none"/>
<path d="M530.50,81.00L530.50,78.90M530.50,81.00L532.50,80.35M530.50,81.00L531.73,82.70M530.50,81.00L529.27,82.70M530.50,81.00L528.50,80.35" stroke="#000" stroke-width="1.3" stroke-linecap="round" fill="none"/>
<text x="368.80" y="154.10" font-size="8.3" text-anchor="start" font-weight="normal" fill="#111" textLength="12.00" lengthAdjust="spacingAndGlyphs" >TNF</text>
<rect x="382.00" y="150.00" width="1.30" height="1.00" fill="#555" />
<text x="383.70" y="154.10" font-size="8.3" text-anchor="start" font-weight="normal" fill="#111" textLength="5.80" lengthAdjust="spacingAndGlyphs" >α</text>
<text x="369.00" y="163.60" font-size="8.3" text-anchor="start" font-weight="normal" fill="#111" textLength="39.00" lengthAdjust="spacingAndGlyphs" >TAE (μg/mL)</text>
<rect x="414.00" y="150.00" width="1.80" height="0.90" fill="#333" />
<rect x="438.40" y="150.40" width="3.20" height="0.80" fill="#333" />
<rect x="439.60" y="149.20" width="0.80" height="3.20" fill="#333" />
<rect x="465.80" y="150.40" width="3.20" height="0.80" fill="#333" />
<rect x="467.00" y="149.20" width="0.80" height="3.20" fill="#333" />
<rect x="494.10" y="150.40" width="3.20" height="0.80" fill="#333" />
<rect x="495.30" y="149.20" width="0.80" height="3.20" fill="#333" />
<rect x="524.80" y="150.40" width="3.20" height="0.80" fill="#333" />
<rect x="526.00" y="149.20" width="0.80" height="3.20" fill="#333" />
<rect x="414.40" y="158.00" width="1.30" height="1.40" fill="#444" />
<rect x="438.80" y="160.40" width="1.50" height="0.90" fill="#555" />
<text x="467.40" y="163.40" font-size="8.3" text-anchor="middle" font-weight="normal" fill="#111" textLength="7.60" lengthAdjust="spacingAndGlyphs" >10</text>
<text x="495.70" y="163.40" font-size="8.3" text-anchor="middle" font-weight="normal" fill="#111" textLength="7.60" lengthAdjust="spacingAndGlyphs" >50</text>
<text x="526.40" y="163.40" font-size="8.3" text-anchor="middle" font-weight="normal" fill="#111" textLength="11.40" lengthAdjust="spacingAndGlyphs" >250</text>
<line x1="37.60" y1="188.50" x2="37.60" y2="321.60" stroke="#b4b4b4" stroke-width="1"/>
<line x1="37.60" y1="321.10" x2="179.60" y2="321.10" stroke="#b4b4b4" stroke-width="1"/>
<line x1="35.30" y1="321.10" x2="37.60" y2="321.10" stroke="#b4b4b4" stroke-width="1"/>
<text x="32.20" y="323.65" font-size="8.6" text-anchor="end" font-weight="normal" fill="#111" textLength="3.50" lengthAdjust="spacingAndGlyphs" >0</text>
<line x1="35.30" y1="302.23" x2="37.60" y2="302.23" stroke="#b4b4b4" stroke-width="1"/>
<text x="32.20" y="304.78" font-size="8.6" text-anchor="end" font-weight="normal" fill="#111" textLength="10.50" lengthAdjust="spacingAndGlyphs" >500</text>
<line x1="35.30" y1="283.36" x2="37.60" y2="283.36" stroke="#b4b4b4" stroke-width="1"/>
<text x="32.20" y="285.91" font-size="8.6" text-anchor="end" font-weight="normal" fill="#111" textLength="14.00" lengthAdjust="spacingAndGlyphs" >1000</text>
<line x1="35.30" y1="264.49" x2="37.60" y2="264.49" stroke="#b4b4b4" stroke-width="1"/>
<text x="32.20" y="267.04" font-size="8.6" text-anchor="end" font-weight="normal" fill="#111" textLength="14.00" lengthAdjust="spacingAndGlyphs" >1500</text>
<line x1="35.30" y1="245.61" x2="37.60" y2="245.61" stroke="#b4b4b4" stroke-width="1"/>
<text x="32.20" y="248.16" font-size="8.6" text-anchor="end" font-weight="normal" fill="#111" textLength="14.00" lengthAdjust="spacingAndGlyphs" >2000</text>
<line x1="35.30" y1="226.74" x2="37.60" y2="226.74" stroke="#b4b4b4" stroke-width="1"/>
<text x="32.20" y="229.29" font-size="8.6" text-anchor="end" font-weight="normal" fill="#111" textLength="14.00" lengthAdjust="spacingAndGlyphs" >2500</text>
<line x1="35.30" y1="207.87" x2="37.60" y2="207.87" stroke="#b4b4b4" stroke-width="1"/>
<text x="32.20" y="210.42" font-size="8.6" text-anchor="end" font-weight="normal" fill="#111" textLength="14.00" lengthAdjust="spacingAndGlyphs" >3000</text>
<line x1="35.30" y1="189.00" x2="37.60" y2="189.00" stroke="#b4b4b4" stroke-width="1"/>
<text x="32.20" y="191.55" font-size="8.6" text-anchor="end" font-weight="normal" fill="#111" textLength="14.00" lengthAdjust="spacingAndGlyphs" >3500</text>
<line x1="66.50" y1="321.10" x2="66.50" y2="323.30" stroke="#b4b4b4" stroke-width="1"/>
<line x1="94.80" y1="321.10" x2="94.80" y2="323.30" stroke="#b4b4b4" stroke-width="1"/>
<line x1="123.10" y1="321.10" x2="123.10" y2="323.30" stroke="#b4b4b4" stroke-width="1"/>
<line x1="151.40" y1="321.10" x2="151.40" y2="323.30" stroke="#b4b4b4" stroke-width="1"/>
<line x1="179.60" y1="321.10" x2="179.60" y2="323.30" stroke="#b4b4b4" stroke-width="1"/>
<text x="9.50" y="263.20" font-size="8.1" text-anchor="middle" fill="#111" transform="rotate(-90 9.50 260.20)" textLength="21.5" lengthAdjust="spacingAndGlyphs">pg/mL</text>
<text x="51.30" y="202.10" font-size="12" text-anchor="start" font-weight="normal" fill="#111" textLength="17.90" lengthAdjust="spacingAndGlyphs" style="stroke-width:0.32px">IL-6</text>
<rect x="42.00" y="319.60" width="20.30" height="1.50" fill="#555" />
<rect x="70.40" y="270.90" width="20.30" height="50.20" fill="#000" />
<line x1="80.50" y1="268.50" x2="80.50" y2="272.40" stroke="#888" stroke-width="1"/>
<line x1="79.10" y1="268.50" x2="81.90" y2="268.50" stroke="#333" stroke-width="1"/>
<rect x="98.00" y="257.00" width="22.00" height="64.10" fill="#fff" />
<path d="M99 258h3v1h-3zM100 257h1v3h-1zM99 261h3v1h-3zM100 260h1v3h-1zM99 265h3v1h-3zM100 264h1v3h-1zM99 268h3v1h-3zM100 267h1v3h-1zM99 272h3v1h-3zM100 271h1v3h-1zM99 276h3v1h-3zM100 275h1v3h-1zM99 279h3v1h-3zM100 278h1v3h-1zM99 283h3v1h-3zM100 282h1v3h-1zM99 286h3v1h-3zM100 285h1v3h-1zM99 290h3v1h-3zM100 289h1v3h-1zM99 294h3v1h-3zM100 293h1v3h-1zM99 297h3v1h-3zM100 296h1v3h-1zM99 301h3v1h-3zM100 300h1v3h-1zM99 304h3v1h-3zM100 303h1v3h-1zM99 308h3v1h-3zM100 307h1v3h-1zM99 312h3v1h-3zM100 311h1v3h-1zM99 315h3v1h-3zM100 314h1v3h-1zM99 319h3v1h-3zM100 318h1v3h-1zM103 259h3v1h-3zM104 258h1v3h-1zM103 263h3v1h-3zM104 262h1v3h-1zM103 267h3v1h-3zM104 266h1v3h-1zM103 270h3v1h-3zM104 269h1v3h-1zM103 274h3v1h-3zM104 273h1v3h-1zM103 277h3v1h-3zM104 276h1v3h-1zM103 281h3v1h-3zM104 280h1v3h-1zM103 285h3v1h-3zM104 284h1v3h-1zM103 288h3v1h-3zM104 287h1v3h-1zM103 292h3v1h-3zM104 291h1v3h-1zM103 295h3v1h-3zM104 294h1v3h-1zM103 299h3v1h-3zM104 298h1v3h-1zM103 303h3v1h-3zM104 302h1v3h-1zM103 306h3v1h-3zM104 305h1v3h-1zM103 310h3v1h-3zM104 309h1v3h-1zM103 313h3v1h-3zM104 312h1v3h-1zM103 317h3v1h-3zM104 316h1v3h-1zM106 258h3v1h-3zM107 257h1v3h-1zM106 261h3v1h-3zM107 260h1v3h-1zM106 265h3v1h-3zM107 264h1v3h-1zM106 268h3v1h-3zM107 267h1v3h-1zM106 272h3v1h-3zM107 271h1v3h-1zM106 276h3v1h-3zM107 275h1v3h-1zM106 279h3v1h-3zM107 278h1v3h-1zM106 283h3v1h-3zM107 282h1v3h-1zM106 286h3v1h-3zM107 285h1v3h-1zM106 290h3v1h-3zM107 289h1v3h-1zM106 294h3v1h-3zM107 293h1v3h-1zM106 297h3v1h-3zM107 296h1v3h-1zM106 301h3v1h-3zM107 300h1v3h-1zM106 304h3v1h-3zM107 303h1v3h-1zM106 308h3v1h-3zM107 307h1v3h-1zM106 312h3v1h-3zM107 311h1v3h-1zM106 315h3v1h-3zM107 314h1v3h-1zM106 319h3v1h-3zM107 318h1v3h-1zM110 259h3v1h-3zM111 258h1v3h-1zM110 263h3v1h-3zM111 262h1v3h-1zM110 267h3v1h-3zM111 266h1v3h-1zM110 270h3v1h-3zM111 269h1v3h-1zM110 274h3v1h-3zM111 273h1v3h-1zM110 277h3v1h-3zM111 276h1v3h-1zM110 281h3v1h-3zM111 280h1v3h-1zM110 285h3v1h-3zM111 284h1v3h-1zM110 288h3v1h-3zM111 287h1v3h-1zM110 292h3v1h-3zM111 291h1v3h-1zM110 295h3v1h-3zM111 294h1v3h-1zM110 299h3v1h-3zM111 298h1v3h-1zM110 303h3v1h-3zM111 302h1v3h-1zM110 306h3v1h-3zM111 305h1v3h-1zM110 310h3v1h-3zM111 309h1v3h-1zM110 313h3v1h-3zM111 312h1v3h-1zM110 317h3v1h-3zM111 316h1v3h-1zM114 258h3v1h-3zM115 257h1v3h-1zM114 261h3v1h-3zM115 260h1v3h-1zM114 265h3v1h-3zM115 264h1v3h-1zM114 268h3v1h-3zM115 267h1v3h-1zM114 272h3v1h-3zM115 271h1v3h-1zM114 276h3v1h-3zM115 275h1v3h-1zM114 279h3v1h-3zM115 278h1v3h-1zM114 283h3v1h-3zM115 282h1v3h-1zM114 286h3v1h-3zM115 285h1v3h-1zM114 290h3v1h-3zM115 289h1v3h-1zM114 294h3v1h-3zM115 293h1v3h-1zM114 297h3v1h-3zM115 296h1v3h-1zM114 301h3v1h-3zM115 300h1v3h-1zM114 304h3v1h-3zM115 303h1v3h-1zM114 308h3v1h-3zM115 307h1v3h-1zM114 312h3v1h-3zM115 311h1v3h-1zM114 315h3v1h-3zM115 314h1v3h-1zM114 319h3v1h-3zM115 318h1v3h-1zM117 259h3v1h-3zM118 258h1v3h-1zM117 263h3v1h-3zM118 262h1v3h-1zM117 267h3v1h-3zM118 266h1v3h-1zM117 270h3v1h-3zM118 269h1v3h-1zM117 274h3v1h-3zM118 273h1v3h-1zM117 277h3v1h-3zM118 276h1v3h-1zM117 281h3v1h-3zM118 280h1v3h-1zM117 285h3v1h-3zM118 284h1v3h-1zM117 288h3v1h-3zM118 287h1v3h-1zM117 292h3v1h-3zM118 291h1v3h-1zM117 295h3v1h-3zM118 294h1v3h-1zM117 299h3v1h-3zM118 298h1v3h-1zM117 303h3v1h-3zM118 302h1v3h-1zM117 306h3v1h-3zM118 305h1v3h-1zM117 310h3v1h-3zM118 309h1v3h-1zM117 313h3v1h-3zM118 312h1v3h-1zM117 317h3v1h-3zM118 316h1v3h-1z" fill="#f0f0f0"/>
<path d="M100 258h1v1h-1zM100 261h1v1h-1zM100 265h1v1h-1zM100 268h1v1h-1zM100 272h1v1h-1zM100 276h1v1h-1zM100 279h1v1h-1zM100 283h1v1h-1zM100 286h1v1h-1zM100 290h1v1h-1zM100 294h1v1h-1zM100 297h1v1h-1zM100 301h1v1h-1zM100 304h1v1h-1zM100 308h1v1h-1zM100 312h1v1h-1zM100 315h1v1h-1zM100 319h1v1h-1zM104 259h1v1h-1zM104 263h1v1h-1zM104 267h1v1h-1zM104 270h1v1h-1zM104 274h1v1h-1zM104 277h1v1h-1zM104 281h1v1h-1zM104 285h1v1h-1zM104 288h1v1h-1zM104 292h1v1h-1zM104 295h1v1h-1zM104 299h1v1h-1zM104 303h1v1h-1zM104 306h1v1h-1zM104 310h1v1h-1zM104 313h1v1h-1zM104 317h1v1h-1zM107 258h1v1h-1zM107 261h1v1h-1zM107 265h1v1h-1zM107 268h1v1h-1zM107 272h1v1h-1zM107 276h1v1h-1zM107 279h1v1h-1zM107 283h1v1h-1zM107 286h1v1h-1zM107 290h1v1h-1zM107 294h1v1h-1zM107 297h1v1h-1zM107 301h1v1h-1zM107 304h1v1h-1zM107 308h1v1h-1zM107 312h1v1h-1zM107 315h1v1h-1zM107 319h1v1h-1zM111 259h1v1h-1zM111 263h1v1h-1zM111 267h1v1h-1zM111 270h1v1h-1zM111 274h1v1h-1zM111 277h1v1h-1zM111 281h1v1h-1zM111 285h1v1h-1zM111 288h1v1h-1zM111 292h1v1h-1zM111 295h1v1h-1zM111 299h1v1h-1zM111 303h1v1h-1zM111 306h1v1h-1zM111 310h1v1h-1zM111 313h1v1h-1zM111 317h1v1h-1zM115 258h1v1h-1zM115 261h1v1h-1zM115 265h1v1h-1zM115 268h1v1h-1zM115 272h1v1h-1zM115 276h1v1h-1zM115 279h1v1h-1zM115 283h1v1h-1zM115 286h1v1h-1zM115 290h1v1h-1zM115 294h1v1h-1zM115 297h1v1h-1zM115 301h1v1h-1zM115 304h1v1h-1zM115 308h1v1h-1zM115 312h1v1h-1zM115 315h1v1h-1zM115 319h1v1h-1zM118 259h1v1h-1zM118 263h1v1h-1zM118 267h1v1h-1zM118 270h1v1h-1zM118 274h1v1h-1zM118 277h1v1h-1zM118 281h1v1h-1zM118 285h1v1h-1zM118 288h1v1h-1zM118 292h1v1h-1zM118 295h1v1h-1zM118 299h1v1h-1zM118 303h1v1h-1zM118 306h1v1h-1zM118 310h1v1h-1zM118 313h1v1h-1zM118 317h1v1h-1z" fill="#606060"/>
<path d="M98.5,321.10V257.5H119.5V321.10" fill="none" stroke="#606060" stroke-width="1"/>
<line x1="109.50" y1="252.50" x2="109.50" y2="261.90" stroke="#888" stroke-width="1"/>
<line x1="108.10" y1="252.50" x2="110.90" y2="252.50" stroke="#333" stroke-width="1"/>
<line x1="108.10" y1="262.50" x2="110.90" y2="262.50" stroke="#666" stroke-width="1"/>
<rect x="127.00" y="224.00" width="21.00" height="97.10" fill="#fff" />
<path d="M128 225h3v1h-3zM129 224h1v3h-1zM128 229h3v1h-3zM129 228h1v3h-1zM128 232h3v1h-3zM129 231h1v3h-1zM128 236h3v1h-3zM129 235h1v3h-1zM128 240h3v1h-3zM129 239h1v3h-1zM128 243h3v1h-3zM129 242h1v3h-1zM128 247h3v1h-3zM129 246h1v3h-1zM128 250h3v1h-3zM129 249h1v3h-1zM128 254h3v1h-3zM129 253h1v3h-1zM128 258h3v1h-3zM129 257h1v3h-1zM128 261h3v1h-3zM129 260h1v3h-1zM128 265h3v1h-3zM129 264h1v3h-1zM128 268h3v1h-3zM129 267h1v3h-1zM128 272h3v1h-3zM129 271h1v3h-1zM128 276h3v1h-3zM129 275h1v3h-1zM128 279h3v1h-3zM129 278h1v3h-1zM128 283h3v1h-3zM129 282h1v3h-1zM128 286h3v1h-3zM129 285h1v3h-1zM128 290h3v1h-3zM129 289h1v3h-1zM128 294h3v1h-3zM129 293h1v3h-1zM128 297h3v1h-3zM129 296h1v3h-1zM128 301h3v1h-3zM129 300h1v3h-1zM128 304h3v1h-3zM129 303h1v3h-1zM128 308h3v1h-3zM129 307h1v3h-1zM128 312h3v1h-3zM129 311h1v3h-1zM128 315h3v1h-3zM129 314h1v3h-1zM128 319h3v1h-3zM129 318h1v3h-1zM132 227h3v1h-3zM133 226h1v3h-1zM132 231h3v1h-3zM133 230h1v3h-1zM132 234h3v1h-3zM133 233h1v3h-1zM132 238h3v1h-3zM133 237h1v3h-1zM132 241h3v1h-3zM133 240h1v3h-1zM132 245h3v1h-3zM133 244h1v3h-1zM132 249h3v1h-3zM133 248h1v3h-1zM132 252h3v1h-3zM133 251h1v3h-1zM132 256h3v1h-3zM133 255h1v3h-1zM132 259h3v1h-3zM133 258h1v3h-1zM132 263h3v1h-3zM133 262h1v3h-1zM132 267h3v1h-3zM133 266h1v3h-1zM132 270h3v1h-3zM133 269h1v3h-1zM132 274h3v1h-3zM133 273h1v3h-1zM132 277h3v1h-3zM133 276h1v3h-1zM132 281h3v1h-3zM133 280h1v3h-1zM132 285h3v1h-3zM133 284h1v3h-1zM132 288h3v1h-3zM133 287h1v3h-1zM132 292h3v1h-3zM133 291h1v3h-1zM132 295h3v1h-3zM133 294h1v3h-1zM132 299h3v1h-3zM133 298h1v3h-1zM132 303h3v1h-3zM133 302h1v3h-1zM132 306h3v1h-3zM133 305h1v3h-1zM132 310h3v1h-3zM133 309h1v3h-1zM132 313h3v1h-3zM133 312h1v3h-1zM132 317h3v1h-3zM133 316h1v3h-1zM135 225h3v1h-3zM136 224h1v3h-1zM135 229h3v1h-3zM136 228h1v3h-1zM135 232h3v1h-3zM136 231h1v3h-1zM135 236h3v1h-3zM136 235h1v3h-1zM135 240h3v1h-3zM136 239h1v3h-1zM135 243h3v1h-3zM136 242h1v3h-1zM135 247h3v1h-3zM136 246h1v3h-1zM135 250h3v1h-3zM136 249h1v3h-1zM135 254h3v1h-3zM136 253h1v3h-1zM135 258h3v1h-3zM136 257h1v3h-1zM135 261h3v1h-3zM136 260h1v3h-1zM135 265h3v1h-3zM136 264h1v3h-1zM135 268h3v1h-3zM136 267h1v3h-1zM135 272h3v1h-3zM136 271h1v3h-1zM135 276h3v1h-3zM136 275h1v3h-1zM135 279h3v1h-3zM136 278h1v3h-1zM135 283h3v1h-3zM136 282h1v3h-1zM135 286h3v1h-3zM136 285h1v3h-1zM135 290h3v1h-3zM136 289h1v3h-1zM135 294h3v1h-3zM136 293h1v3h-1zM135 297h3v1h-3zM136 296h1v3h-1zM135 301h3v1h-3zM136 300h1v3h-1zM135 304h3v1h-3zM136 303h1v3h-1zM135 308h3v1h-3zM136 307h1v3h-1zM135 312h3v1h-3zM136 311h1v3h-1zM135 315h3v1h-3zM136 314h1v3h-1zM135 319h3v1h-3zM136 318h1v3h-1zM139 227h3v1h-3zM140 226h1v3h-1zM139 231h3v1h-3zM140 230h1v3h-1zM139 234h3v1h-3zM140 233h1v3h-1zM139 238h3v1h-3zM140 237h1v3h-1zM139 241h3v1h-3zM140 240h1v3h-1zM139 245h3v1h-3zM140 244h1v3h-1zM139 249h3v1h-3zM140 248h1v3h-1zM139 252h3v1h-3zM140 251h1v3h-1zM139 256h3v1h-3zM140 255h1v3h-1zM139 259h3v1h-3zM140 258h1v3h-1zM139 263h3v1h-3zM140 262h1v3h-1zM139 267h3v1h-3zM140 266h1v3h-1zM139 270h3v1h-3zM140 269h1v3h-1zM139 274h3v1h-3zM140 273h1v3h-1zM139 277h3v1h-3zM140 276h1v3h-1zM139 281h3v1h-3zM140 280h1v3h-1zM139 285h3v1h-3zM140 284h1v3h-1zM139 288h3v1h-3zM140 287h1v3h-1zM139 292h3v1h-3zM140 291h1v3h-1zM139 295h3v1h-3zM140 294h1v3h-1zM139 299h3v1h-3zM140 298h1v3h-1zM139 303h3v1h-3zM140 302h1v3h-1zM139 306h3v1h-3zM140 305h1v3h-1zM139 310h3v1h-3zM140 309h1v3h-1zM139 313h3v1h-3zM140 312h1v3h-1zM139 317h3v1h-3zM140 316h1v3h-1zM142 225h3v1h-3zM143 224h1v3h-1zM142 229h3v1h-3zM143 228h1v3h-1zM142 232h3v1h-3zM143 231h1v3h-1zM142 236h3v1h-3zM143 235h1v3h-1zM142 240h3v1h-3zM143 239h1v3h-1zM142 243h3v1h-3zM143 242h1v3h-1zM142 247h3v1h-3zM143 246h1v3h-1zM142 250h3v1h-3zM143 249h1v3h-1zM142 254h3v1h-3zM143 253h1v3h-1zM142 258h3v1h-3zM143 257h1v3h-1zM142 261h3v1h-3zM143 260h1v3h-1zM142 265h3v1h-3zM143 264h1v3h-1zM142 268h3v1h-3zM143 267h1v3h-1zM142 272h3v1h-3zM143 271h1v3h-1zM142 276h3v1h-3zM143 275h1v3h-1zM142 279h3v1h-3zM143 278h1v3h-1zM142 283h3v1h-3zM143 282h1v3h-1zM142 286h3v1h-3zM143 285h1v3h-1zM142 290h3v1h-3zM143 289h1v3h-1zM142 294h3v1h-3zM143 293h1v3h-1zM142 297h3v1h-3zM143 296h1v3h-1zM142 301h3v1h-3zM143 300h1v3h-1zM142 304h3v1h-3zM143 303h1v3h-1zM142 308h3v1h-3zM143 307h1v3h-1zM142 312h3v1h-3zM143 311h1v3h-1zM142 315h3v1h-3zM143 314h1v3h-1zM142 319h3v1h-3zM143 318h1v3h-1zM146 227h3v1h-3zM147 226h1v3h-1zM146 231h3v1h-3zM147 230h1v3h-1zM146 234h3v1h-3zM147 233h1v3h-1zM146 238h3v1h-3zM147 237h1v3h-1zM146 241h3v1h-3zM147 240h1v3h-1zM146 245h3v1h-3zM147 244h1v3h-1zM146 249h3v1h-3zM147 248h1v3h-1zM146 252h3v1h-3zM147 251h1v3h-1zM146 256h3v1h-3zM147 255h1v3h-1zM146 259h3v1h-3zM147 258h1v3h-1zM146 263h3v1h-3zM147 262h1v3h-1zM146 267h3v1h-3zM147 266h1v3h-1zM146 270h3v1h-3zM147 269h1v3h-1zM146 274h3v1h-3zM147 273h1v3h-1zM146 277h3v1h-3zM147 276h1v3h-1zM146 281h3v1h-3zM147 280h1v3h-1zM146 285h3v1h-3zM147 284h1v3h-1zM146 288h3v1h-3zM147 287h1v3h-1zM146 292h3v1h-3zM147 291h1v3h-1zM146 295h3v1h-3zM147 294h1v3h-1zM146 299h3v1h-3zM147 298h1v3h-1zM146 303h3v1h-3zM147 302h1v3h-1zM146 306h3v1h-3zM147 305h1v3h-1zM146 310h3v1h-3zM147 309h1v3h-1zM146 313h3v1h-3zM147 312h1v3h-1zM146 317h3v1h-3zM147 316h1v3h-1z" fill="#f0f0f0"/>
<path d="M129 225h1v1h-1zM129 229h1v1h-1zM129 232h1v1h-1zM129 236h1v1h-1zM129 240h1v1h-1zM129 243h1v1h-1zM129 247h1v1h-1zM129 250h1v1h-1zM129 254h1v1h-1zM129 258h1v1h-1zM129 261h1v1h-1zM129 265h1v1h-1zM129 268h1v1h-1zM129 272h1v1h-1zM129 276h1v1h-1zM129 279h1v1h-1zM129 283h1v1h-1zM129 286h1v1h-1zM129 290h1v1h-1zM129 294h1v1h-1zM129 297h1v1h-1zM129 301h1v1h-1zM129 304h1v1h-1zM129 308h1v1h-1zM129 312h1v1h-1zM129 315h1v1h-1zM129 319h1v1h-1zM133 227h1v1h-1zM133 231h1v1h-1zM133 234h1v1h-1zM133 238h1v1h-1zM133 241h1v1h-1zM133 245h1v1h-1zM133 249h1v1h-1zM133 252h1v1h-1zM133 256h1v1h-1zM133 259h1v1h-1zM133 263h1v1h-1zM133 267h1v1h-1zM133 270h1v1h-1zM133 274h1v1h-1zM133 277h1v1h-1zM133 281h1v1h-1zM133 285h1v1h-1zM133 288h1v1h-1zM133 292h1v1h-1zM133 295h1v1h-1zM133 299h1v1h-1zM133 303h1v1h-1zM133 306h1v1h-1zM133 310h1v1h-1zM133 313h1v1h-1zM133 317h1v1h-1zM136 225h1v1h-1zM136 229h1v1h-1zM136 232h1v1h-1zM136 236h1v1h-1zM136 240h1v1h-1zM136 243h1v1h-1zM136 247h1v1h-1zM136 250h1v1h-1zM136 254h1v1h-1zM136 258h1v1h-1zM136 261h1v1h-1zM136 265h1v1h-1zM136 268h1v1h-1zM136 272h1v1h-1zM136 276h1v1h-1zM136 279h1v1h-1zM136 283h1v1h-1zM136 286h1v1h-1zM136 290h1v1h-1zM136 294h1v1h-1zM136 297h1v1h-1zM136 301h1v1h-1zM136 304h1v1h-1zM136 308h1v1h-1zM136 312h1v1h-1zM136 315h1v1h-1zM136 319h1v1h-1zM140 227h1v1h-1zM140 231h1v1h-1zM140 234h1v1h-1zM140 238h1v1h-1zM140 241h1v1h-1zM140 245h1v1h-1zM140 249h1v1h-1zM140 252h1v1h-1zM140 256h1v1h-1zM140 259h1v1h-1zM140 263h1v1h-1zM140 267h1v1h-1zM140 270h1v1h-1zM140 274h1v1h-1zM140 277h1v1h-1zM140 281h1v1h-1zM140 285h1v1h-1zM140 288h1v1h-1zM140 292h1v1h-1zM140 295h1v1h-1zM140 299h1v1h-1zM140 303h1v1h-1zM140 306h1v1h-1zM140 310h1v1h-1zM140 313h1v1h-1zM140 317h1v1h-1zM143 225h1v1h-1zM143 229h1v1h-1zM143 232h1v1h-1zM143 236h1v1h-1zM143 240h1v1h-1zM143 243h1v1h-1zM143 247h1v1h-1zM143 250h1v1h-1zM143 254h1v1h-1zM143 258h1v1h-1zM143 261h1v1h-1zM143 265h1v1h-1zM143 268h1v1h-1zM143 272h1v1h-1zM143 276h1v1h-1zM143 279h1v1h-1zM143 283h1v1h-1zM143 286h1v1h-1zM143 290h1v1h-1zM143 294h1v1h-1zM143 297h1v1h-1zM143 301h1v1h-1zM143 304h1v1h-1zM143 308h1v1h-1zM143 312h1v1h-1zM143 315h1v1h-1zM143 319h1v1h-1zM147 227h1v1h-1zM147 231h1v1h-1zM147 234h1v1h-1zM147 238h1v1h-1zM147 241h1v1h-1zM147 245h1v1h-1zM147 249h1v1h-1zM147 252h1v1h-1zM147 256h1v1h-1zM147 259h1v1h-1zM147 263h1v1h-1zM147 267h1v1h-1zM147 270h1v1h-1zM147 274h1v1h-1zM147 277h1v1h-1zM147 281h1v1h-1zM147 285h1v1h-1zM147 288h1v1h-1zM147 292h1v1h-1zM147 295h1v1h-1zM147 299h1v1h-1zM147 303h1v1h-1zM147 306h1v1h-1zM147 310h1v1h-1zM147 313h1v1h-1zM147 317h1v1h-1z" fill="#606060"/>
<path d="M127.5,321.10V224.5H147.5V321.10" fill="none" stroke="#606060" stroke-width="1"/>
<line x1="137.50" y1="224.50" x2="137.50" y2="224.90" stroke="#888" stroke-width="1"/>
<line x1="136.10" y1="224.50" x2="138.90" y2="224.50" stroke="#333" stroke-width="1"/>
<line x1="136.10" y1="225.50" x2="138.90" y2="225.50" stroke="#666" stroke-width="1"/>
<rect x="155.00" y="218.00" width="21.00" height="103.10" fill="#fff" />
<path d="M157 222h3v1h-3zM158 221h1v3h-1zM157 225h3v1h-3zM158 224h1v3h-1zM157 229h3v1h-3zM158 228h1v3h-1zM157 232h3v1h-3zM158 231h1v3h-1zM157 236h3v1h-3zM158 235h1v3h-1zM157 240h3v1h-3zM158 239h1v3h-1zM157 243h3v1h-3zM158 242h1v3h-1zM157 247h3v1h-3zM158 246h1v3h-1zM157 250h3v1h-3zM158 249h1v3h-1zM157 254h3v1h-3zM158 253h1v3h-1zM157 258h3v1h-3zM158 257h1v3h-1zM157 261h3v1h-3zM158 260h1v3h-1zM157 265h3v1h-3zM158 264h1v3h-1zM157 268h3v1h-3zM158 267h1v3h-1zM157 272h3v1h-3zM158 271h1v3h-1zM157 276h3v1h-3zM158 275h1v3h-1zM157 279h3v1h-3zM158 278h1v3h-1zM157 283h3v1h-3zM158 282h1v3h-1zM157 286h3v1h-3zM158 285h1v3h-1zM157 290h3v1h-3zM158 289h1v3h-1zM157 294h3v1h-3zM158 293h1v3h-1zM157 297h3v1h-3zM158 296h1v3h-1zM157 301h3v1h-3zM158 300h1v3h-1zM157 304h3v1h-3zM158 303h1v3h-1zM157 308h3v1h-3zM158 307h1v3h-1zM157 312h3v1h-3zM158 311h1v3h-1zM157 315h3v1h-3zM158 314h1v3h-1zM157 319h3v1h-3zM158 318h1v3h-1zM161 220h3v1h-3zM162 219h1v3h-1zM161 223h3v1h-3zM162 222h1v3h-1zM161 227h3v1h-3zM162 226h1v3h-1zM161 231h3v1h-3zM162 230h1v3h-1zM161 234h3v1h-3zM162 233h1v3h-1zM161 238h3v1h-3zM162 237h1v3h-1zM161 241h3v1h-3zM162 240h1v3h-1zM161 245h3v1h-3zM162 244h1v3h-1zM161 249h3v1h-3zM162 248h1v3h-1zM161 252h3v1h-3zM162 251h1v3h-1zM161 256h3v1h-3zM162 255h1v3h-1zM161 259h3v1h-3zM162 258h1v3h-1zM161 263h3v1h-3zM162 262h1v3h-1zM161 267h3v1h-3zM162 266h1v3h-1zM161 270h3v1h-3zM162 269h1v3h-1zM161 274h3v1h-3zM162 273h1v3h-1zM161 277h3v1h-3zM162 276h1v3h-1zM161 281h3v1h-3zM162 280h1v3h-1zM161 285h3v1h-3zM162 284h1v3h-1zM161 288h3v1h-3zM162 287h1v3h-1zM161 292h3v1h-3zM162 291h1v3h-1zM161 295h3v1h-3zM162 294h1v3h-1zM161 299h3v1h-3zM162 298h1v3h-1zM161 303h3v1h-3zM162 302h1v3h-1zM161 306h3v1h-3zM162 305h1v3h-1zM161 310h3v1h-3zM162 309h1v3h-1zM161 313h3v1h-3zM162 312h1v3h-1zM161 317h3v1h-3zM162 316h1v3h-1zM164 222h3v1h-3zM165 221h1v3h-1zM164 225h3v1h-3zM165 224h1v3h-1zM164 229h3v1h-3zM165 228h1v3h-1zM164 232h3v1h-3zM165 231h1v3h-1zM164 236h3v1h-3zM165 235h1v3h-1zM164 240h3v1h-3zM165 239h1v3h-1zM164 243h3v1h-3zM165 242h1v3h-1zM164 247h3v1h-3zM165 246h1v3h-1zM164 250h3v1h-3zM165 249h1v3h-1zM164 254h3v1h-3zM165 253h1v3h-1zM164 258h3v1h-3zM165 257h1v3h-1zM164 261h3v1h-3zM165 260h1v3h-1zM164 265h3v1h-3zM165 264h1v3h-1zM164 268h3v1h-3zM165 267h1v3h-1zM164 272h3v1h-3zM165 271h1v3h-1zM164 276h3v1h-3zM165 275h1v3h-1zM164 279h3v1h-3zM165 278h1v3h-1zM164 283h3v1h-3zM165 282h1v3h-1zM164 286h3v1h-3zM165 285h1v3h-1zM164 290h3v1h-3zM165 289h1v3h-1zM164 294h3v1h-3zM165 293h1v3h-1zM164 297h3v1h-3zM165 296h1v3h-1zM164 301h3v1h-3zM165 300h1v3h-1zM164 304h3v1h-3zM165 303h1v3h-1zM164 308h3v1h-3zM165 307h1v3h-1zM164 312h3v1h-3zM165 311h1v3h-1zM164 315h3v1h-3zM165 314h1v3h-1zM164 319h3v1h-3zM165 318h1v3h-1zM168 220h3v1h-3zM169 219h1v3h-1zM168 223h3v1h-3zM169 222h1v3h-1zM168 227h3v1h-3zM169 226h1v3h-1zM168 231h3v1h-3zM169 230h1v3h-1zM168 234h3v1h-3zM169 233h1v3h-1zM168 238h3v1h-3zM169 237h1v3h-1zM168 241h3v1h-3zM169 240h1v3h-1zM168 245h3v1h-3zM169 244h1v3h-1zM168 249h3v1h-3zM169 248h1v3h-1zM168 252h3v1h-3zM169 251h1v3h-1zM168 256h3v1h-3zM169 255h1v3h-1zM168 259h3v1h-3zM169 258h1v3h-1zM168 263h3v1h-3zM169 262h1v3h-1zM168 267h3v1h-3zM169 266h1v3h-1zM168 270h3v1h-3zM169 269h1v3h-1zM168 274h3v1h-3zM169 273h1v3h-1zM168 277h3v1h-3zM169 276h1v3h-1zM168 281h3v1h-3zM169 280h1v3h-1zM168 285h3v1h-3zM169 284h1v3h-1zM168 288h3v1h-3zM169 287h1v3h-1zM168 292h3v1h-3zM169 291h1v3h-1zM168 295h3v1h-3zM169 294h1v3h-1zM168 299h3v1h-3zM169 298h1v3h-1zM168 303h3v1h-3zM169 302h1v3h-1zM168 306h3v1h-3zM169 305h1v3h-1zM168 310h3v1h-3zM169 309h1v3h-1zM168 313h3v1h-3zM169 312h1v3h-1zM168 317h3v1h-3zM169 316h1v3h-1zM171 222h3v1h-3zM172 221h1v3h-1zM171 225h3v1h-3zM172 224h1v3h-1zM171 229h3v1h-3zM172 228h1v3h-1zM171 232h3v1h-3zM172 231h1v3h-1zM171 236h3v1h-3zM172 235h1v3h-1zM171 240h3v1h-3zM172 239h1v3h-1zM171 243h3v1h-3zM172 242h1v3h-1zM171 247h3v1h-3zM172 246h1v3h-1zM171 250h3v1h-3zM172 249h1v3h-1zM171 254h3v1h-3zM172 253h1v3h-1zM171 258h3v1h-3zM172 257h1v3h-1zM171 261h3v1h-3zM172 260h1v3h-1zM171 265h3v1h-3zM172 264h1v3h-1zM171 268h3v1h-3zM172 267h1v3h-1zM171 272h3v1h-3zM172 271h1v3h-1zM171 276h3v1h-3zM172 275h1v3h-1zM171 279h3v1h-3zM172 278h1v3h-1zM171 283h3v1h-3zM172 282h1v3h-1zM171 286h3v1h-3zM172 285h1v3h-1zM171 290h3v1h-3zM172 289h1v3h-1zM171 294h3v1h-3zM172 293h1v3h-1zM171 297h3v1h-3zM172 296h1v3h-1zM171 301h3v1h-3zM172 300h1v3h-1zM171 304h3v1h-3zM172 303h1v3h-1zM171 308h3v1h-3zM172 307h1v3h-1zM171 312h3v1h-3zM172 311h1v3h-1zM171 315h3v1h-3zM172 314h1v3h-1zM171 319h3v1h-3zM172 318h1v3h-1z" fill="#f0f0f0"/>
<path d="M158 222h1v1h-1zM158 225h1v1h-1zM158 229h1v1h-1zM158 232h1v1h-1zM158 236h1v1h-1zM158 240h1v1h-1zM158 243h1v1h-1zM158 247h1v1h-1zM158 250h1v1h-1zM158 254h1v1h-1zM158 258h1v1h-1zM158 261h1v1h-1zM158 265h1v1h-1zM158 268h1v1h-1zM158 272h1v1h-1zM158 276h1v1h-1zM158 279h1v1h-1zM158 283h1v1h-1zM158 286h1v1h-1zM158 290h1v1h-1zM158 294h1v1h-1zM158 297h1v1h-1zM158 301h1v1h-1zM158 304h1v1h-1zM158 308h1v1h-1zM158 312h1v1h-1zM158 315h1v1h-1zM158 319h1v1h-1zM162 220h1v1h-1zM162 223h1v1h-1zM162 227h1v1h-1zM162 231h1v1h-1zM162 234h1v1h-1zM162 238h1v1h-1zM162 241h1v1h-1zM162 245h1v1h-1zM162 249h1v1h-1zM162 252h1v1h-1zM162 256h1v1h-1zM162 259h1v1h-1zM162 263h1v1h-1zM162 267h1v1h-1zM162 270h1v1h-1zM162 274h1v1h-1zM162 277h1v1h-1zM162 281h1v1h-1zM162 285h1v1h-1zM162 288h1v1h-1zM162 292h1v1h-1zM162 295h1v1h-1zM162 299h1v1h-1zM162 303h1v1h-1zM162 306h1v1h-1zM162 310h1v1h-1zM162 313h1v1h-1zM162 317h1v1h-1zM165 222h1v1h-1zM165 225h1v1h-1zM165 229h1v1h-1zM165 232h1v1h-1zM165 236h1v1h-1zM165 240h1v1h-1zM165 243h1v1h-1zM165 247h1v1h-1zM165 250h1v1h-1zM165 254h1v1h-1zM165 258h1v1h-1zM165 261h1v1h-1zM165 265h1v1h-1zM165 268h1v1h-1zM165 272h1v1h-1zM165 276h1v1h-1zM165 279h1v1h-1zM165 283h1v1h-1zM165 286h1v1h-1zM165 290h1v1h-1zM165 294h1v1h-1zM165 297h1v1h-1zM165 301h1v1h-1zM165 304h1v1h-1zM165 308h1v1h-1zM165 312h1v1h-1zM165 315h1v1h-1zM165 319h1v1h-1zM169 220h1v1h-1zM169 223h1v1h-1zM169 227h1v1h-1zM169 231h1v1h-1zM169 234h1v1h-1zM169 238h1v1h-1zM169 241h1v1h-1zM169 245h1v1h-1zM169 249h1v1h-1zM169 252h1v1h-1zM169 256h1v1h-1zM169 259h1v1h-1zM169 263h1v1h-1zM169 267h1v1h-1zM169 270h1v1h-1zM169 274h1v1h-1zM169 277h1v1h-1zM169 281h1v1h-1zM169 285h1v1h-1zM169 288h1v1h-1zM169 292h1v1h-1zM169 295h1v1h-1zM169 299h1v1h-1zM169 303h1v1h-1zM169 306h1v1h-1zM169 310h1v1h-1zM169 313h1v1h-1zM169 317h1v1h-1zM172 222h1v1h-1zM172 225h1v1h-1zM172 229h1v1h-1zM172 232h1v1h-1zM172 236h1v1h-1zM172 240h1v1h-1zM172 243h1v1h-1zM172 247h1v1h-1zM172 250h1v1h-1zM172 254h1v1h-1zM172 258h1v1h-1zM172 261h1v1h-1zM172 265h1v1h-1zM172 268h1v1h-1zM172 272h1v1h-1zM172 276h1v1h-1zM172 279h1v1h-1zM172 283h1v1h-1zM172 286h1v1h-1zM172 290h1v1h-1zM172 294h1v1h-1zM172 297h1v1h-1zM172 301h1v1h-1zM172 304h1v1h-1zM172 308h1v1h-1zM172 312h1v1h-1zM172 315h1v1h-1zM172 319h1v1h-1z" fill="#606060"/>
<path d="M155.5,321.10V218.5H175.5V321.10" fill="none" stroke="#606060" stroke-width="1"/>
<line x1="165.50" y1="206.50" x2="165.50" y2="231.90" stroke="#888" stroke-width="1"/>
<line x1="164.10" y1="206.50" x2="166.90" y2="206.50" stroke="#333" stroke-width="1"/>
<line x1="164.10" y1="232.50" x2="166.90" y2="232.50" stroke="#666" stroke-width="1"/>
<path d="M136.40,214.10L136.40,212.00M136.40,214.10L138.40,213.45M136.40,214.10L137.63,215.80M136.40,214.10L135.17,215.80M136.40,214.10L134.40,213.45" stroke="#000" stroke-width="1.3" stroke-linecap="round" fill="none"/>
<path d="M142.40,214.10L142.40,212.00M142.40,214.10L144.40,213.45M142.40,214.10L143.63,215.80M142.40,214.10L141.17,215.80M142.40,214.10L140.40,213.45" stroke="#000" stroke-width="1.3" stroke-linecap="round" fill="none"/>
<path d="M162.40,195.60L162.40,193.50M162.40,195.60L164.40,194.95M162.40,195.60L163.63,197.30M162.40,195.60L161.17,197.30M162.40,195.60L160.40,194.95" stroke="#000" stroke-width="1.3" stroke-linecap="round" fill="none"/>
<path d="M168.60,195.60L168.60,193.50M168.60,195.60L170.60,194.95M168.60,195.60L169.83,197.30M168.60,195.60L167.37,197.30M168.60,195.60L166.60,194.95" stroke="#000" stroke-width="1.3" stroke-linecap="round" fill="none"/>
<text x="6.80" y="334.50" font-size="8.3" text-anchor="start" font-weight="normal" fill="#111" textLength="12.00" lengthAdjust="spacingAndGlyphs" >TNF</text>
<rect x="20.00" y="331.00" width="1.30" height="1.00" fill="#555" />
<text x="21.70" y="334.50" font-size="8.3" text-anchor="start" font-weight="normal" fill="#111" textLength="5.80" lengthAdjust="spacingAndGlyphs" >α</text>
<text x="7.00" y="344.00" font-size="8.3" text-anchor="start" font-weight="normal" fill="#111" textLength="39.00" lengthAdjust="spacingAndGlyphs" >TAE (μg/mL)</text>
<rect x="52.00" y="330.40" width="1.80" height="0.90" fill="#333" />
<rect x="76.40" y="330.80" width="3.20" height="0.80" fill="#333" />
<rect x="77.60" y="329.60" width="0.80" height="3.20" fill="#333" />
<rect x="103.80" y="330.80" width="3.20" height="0.80" fill="#333" />
<rect x="105.00" y="329.60" width="0.80" height="3.20" fill="#333" />
<rect x="132.10" y="330.80" width="3.20" height="0.80" fill="#333" />
<rect x="133.30" y="329.60" width="0.80" height="3.20" fill="#333" />
<rect x="162.80" y="330.80" width="3.20" height="0.80" fill="#333" />
<rect x="164.00" y="329.60" width="0.80" height="3.20" fill="#333" />
<rect x="52.40" y="338.40" width="1.30" height="1.40" fill="#444" />
<rect x="76.80" y="340.80" width="1.50" height="0.90" fill="#555" />
<text x="105.40" y="343.80" font-size="8.3" text-anchor="middle" font-weight="normal" fill="#111" textLength="7.60" lengthAdjust="spacingAndGlyphs" >10</text>
<text x="133.70" y="343.80" font-size="8.3" text-anchor="middle" font-weight="normal" fill="#111" textLength="7.60" lengthAdjust="spacingAndGlyphs" >50</text>
<text x="164.40" y="343.80" font-size="8.3" text-anchor="middle" font-weight="normal" fill="#111" textLength="11.40" lengthAdjust="spacingAndGlyphs" >250</text>
<line x1="218.60" y1="188.50" x2="218.60" y2="321.60" stroke="#b4b4b4" stroke-width="1"/>
<line x1="218.60" y1="321.10" x2="360.60" y2="321.10" stroke="#b4b4b4" stroke-width="1"/>
<line x1="216.30" y1="321.10" x2="218.60" y2="321.10" stroke="#b4b4b4" stroke-width="1"/>
<text x="213.20" y="323.65" font-size="8.6" text-anchor="end" font-weight="normal" fill="#111" textLength="3.50" lengthAdjust="spacingAndGlyphs" >0</text>
<line x1="216.30" y1="294.68" x2="218.60" y2="294.68" stroke="#b4b4b4" stroke-width="1"/>
<text x="213.20" y="297.23" font-size="8.6" text-anchor="end" font-weight="normal" fill="#111" textLength="10.50" lengthAdjust="spacingAndGlyphs" >500</text>
<line x1="216.30" y1="268.26" x2="218.60" y2="268.26" stroke="#b4b4b4" stroke-width="1"/>
<text x="213.20" y="270.81" font-size="8.6" text-anchor="end" font-weight="normal" fill="#111" textLength="14.00" lengthAdjust="spacingAndGlyphs" >1000</text>
<line x1="216.30" y1="241.84" x2="218.60" y2="241.84" stroke="#b4b4b4" stroke-width="1"/>
<text x="213.20" y="244.39" font-size="8.6" text-anchor="end" font-weight="normal" fill="#111" textLength="14.00" lengthAdjust="spacingAndGlyphs" >1500</text>
<line x1="216.30" y1="215.42" x2="218.60" y2="215.42" stroke="#b4b4b4" stroke-width="1"/>
<text x="213.20" y="217.97" font-size="8.6" text-anchor="end" font-weight="normal" fill="#111" textLength="14.00" lengthAdjust="spacingAndGlyphs" >2000</text>
<line x1="216.30" y1="189.00" x2="218.60" y2="189.00" stroke="#b4b4b4" stroke-width="1"/>
<text x="213.20" y="191.55" font-size="8.6" text-anchor="end" font-weight="normal" fill="#111" textLength="14.00" lengthAdjust="spacingAndGlyphs" >2500</text>
<line x1="247.50" y1="321.10" x2="247.50" y2="323.30" stroke="#b4b4b4" stroke-width="1"/>
<line x1="275.80" y1="321.10" x2="275.80" y2="323.30" stroke="#b4b4b4" stroke-width="1"/>
<line x1="304.10" y1="321.10" x2="304.10" y2="323.30" stroke="#b4b4b4" stroke-width="1"/>
<line x1="332.40" y1="321.10" x2="332.40" y2="323.30" stroke="#b4b4b4" stroke-width="1"/>
<line x1="360.60" y1="321.10" x2="360.60" y2="323.30" stroke="#b4b4b4" stroke-width="1"/>
<text x="190.50" y="263.20" font-size="8.1" text-anchor="middle" fill="#111" transform="rotate(-90 190.50 260.20)" textLength="21.5" lengthAdjust="spacingAndGlyphs">pg/mL</text>
<text x="232.10" y="202.10" font-size="12" text-anchor="start" font-weight="normal" fill="#111" textLength="71.70" lengthAdjust="spacingAndGlyphs" style="stroke-width:0.32px">CCL5/RANTES</text>
<rect x="223.00" y="320.30" width="20.30" height="0.80" fill="#999" />
<rect x="251.40" y="230.90" width="20.30" height="90.20" fill="#000" />
<line x1="261.50" y1="219.50" x2="261.50" y2="232.40" stroke="#888" stroke-width="1"/>
<line x1="260.10" y1="219.50" x2="262.90" y2="219.50" stroke="#333" stroke-width="1"/>
<rect x="279.00" y="255.00" width="22.00" height="66.10" fill="#fff" />
<path d="M279 258h3v1h-3zM280 257h1v3h-1zM279 261h3v1h-3zM280 260h1v3h-1zM279 265h3v1h-3zM280 264h1v3h-1zM279 268h3v1h-3zM280 267h1v3h-1zM279 272h3v1h-3zM280 271h1v3h-1zM279 276h3v1h-3zM280 275h1v3h-1zM279 279h3v1h-3zM280 278h1v3h-1zM279 283h3v1h-3zM280 282h1v3h-1zM279 286h3v1h-3zM280 285h1v3h-1zM279 290h3v1h-3zM280 289h1v3h-1zM279 294h3v1h-3zM280 293h1v3h-1zM279 297h3v1h-3zM280 296h1v3h-1zM279 301h3v1h-3zM280 300h1v3h-1zM279 304h3v1h-3zM280 303h1v3h-1zM279 308h3v1h-3zM280 307h1v3h-1zM279 312h3v1h-3zM280 311h1v3h-1zM279 315h3v1h-3zM280 314h1v3h-1zM279 319h3v1h-3zM280 318h1v3h-1zM283 256h3v1h-3zM284 255h1v3h-1zM283 259h3v1h-3zM284 258h1v3h-1zM283 263h3v1h-3zM284 262h1v3h-1zM283 267h3v1h-3zM284 266h1v3h-1zM283 270h3v1h-3zM284 269h1v3h-1zM283 274h3v1h-3zM284 273h1v3h-1zM283 277h3v1h-3zM284 276h1v3h-1zM283 281h3v1h-3zM284 280h1v3h-1zM283 285h3v1h-3zM284 284h1v3h-1zM283 288h3v1h-3zM284 287h1v3h-1zM283 292h3v1h-3zM284 291h1v3h-1zM283 295h3v1h-3zM284 294h1v3h-1zM283 299h3v1h-3zM284 298h1v3h-1zM283 303h3v1h-3zM284 302h1v3h-1zM283 306h3v1h-3zM284 305h1v3h-1zM283 310h3v1h-3zM284 309h1v3h-1zM283 313h3v1h-3zM284 312h1v3h-1zM283 317h3v1h-3zM284 316h1v3h-1zM287 258h3v1h-3zM288 257h1v3h-1zM287 261h3v1h-3zM288 260h1v3h-1zM287 265h3v1h-3zM288 264h1v3h-1zM287 268h3v1h-3zM288 267h1v3h-1zM287 272h3v1h-3zM288 271h1v3h-1zM287 276h3v1h-3zM288 275h1v3h-1zM287 279h3v1h-3zM288 278h1v3h-1zM287 283h3v1h-3zM288 282h1v3h-1zM287 286h3v1h-3zM288 285h1v3h-1zM287 290h3v1h-3zM288 289h1v3h-1zM287 294h3v1h-3zM288 293h1v3h-1zM287 297h3v1h-3zM288 296h1v3h-1zM287 301h3v1h-3zM288 300h1v3h-1zM287 304h3v1h-3zM288 303h1v3h-1zM287 308h3v1h-3zM288 307h1v3h-1zM287 312h3v1h-3zM288 311h1v3h-1zM287 315h3v1h-3zM288 314h1v3h-1zM287 319h3v1h-3zM288 318h1v3h-1zM290 256h3v1h-3zM291 255h1v3h-1zM290 259h3v1h-3zM291 258h1v3h-1zM290 263h3v1h-3zM291 262h1v3h-1zM290 267h3v1h-3zM291 266h1v3h-1zM290 270h3v1h-3zM291 269h1v3h-1zM290 274h3v1h-3zM291 273h1v3h-1zM290 277h3v1h-3zM291 276h1v3h-1zM290 281h3v1h-3zM291 280h1v3h-1zM290 285h3v1h-3zM291 284h1v3h-1zM290 288h3v1h-3zM291 287h1v3h-1zM290 292h3v1h-3zM291 291h1v3h-1zM290 295h3v1h-3zM291 294h1v3h-1zM290 299h3v1h-3zM291 298h1v3h-1zM290 303h3v1h-3zM291 302h1v3h-1zM290 306h3v1h-3zM291 305h1v3h-1zM290 310h3v1h-3zM291 309h1v3h-1zM290 313h3v1h-3zM291 312h1v3h-1zM290 317h3v1h-3zM291 316h1v3h-1zM294 258h3v1h-3zM295 257h1v3h-1zM294 261h3v1h-3zM295 260h1v3h-1zM294 265h3v1h-3zM295 264h1v3h-1zM294 268h3v1h-3zM295 267h1v3h-1zM294 272h3v1h-3zM295 271h1v3h-1zM294 276h3v1h-3zM295 275h1v3h-1zM294 279h3v1h-3zM295 278h1v3h-1zM294 283h3v1h-3zM295 282h1v3h-1zM294 286h3v1h-3zM295 285h1v3h-1zM294 290h3v1h-3zM295 289h1v3h-1zM294 294h3v1h-3zM295 293h1v3h-1zM294 297h3v1h-3zM295 296h1v3h-1zM294 301h3v1h-3zM295 300h1v3h-1zM294 304h3v1h-3zM295 303h1v3h-1zM294 308h3v1h-3zM295 307h1v3h-1zM294 312h3v1h-3zM295 311h1v3h-1zM294 315h3v1h-3zM295 314h1v3h-1zM294 319h3v1h-3zM295 318h1v3h-1zM297 256h3v1h-3zM298 255h1v3h-1zM297 259h3v1h-3zM298 258h1v3h-1zM297 263h3v1h-3zM298 262h1v3h-1zM297 267h3v1h-3zM298 266h1v3h-1zM297 270h3v1h-3zM298 269h1v3h-1zM297 274h3v1h-3zM298 273h1v3h-1zM297 277h3v1h-3zM298 276h1v3h-1zM297 281h3v1h-3zM298 280h1v3h-1zM297 285h3v1h-3zM298 284h1v3h-1zM297 288h3v1h-3zM298 287h1v3h-1zM297 292h3v1h-3zM298 291h1v3h-1zM297 295h3v1h-3zM298 294h1v3h-1zM297 299h3v1h-3zM298 298h1v3h-1zM297 303h3v1h-3zM298 302h1v3h-1zM297 306h3v1h-3zM298 305h1v3h-1zM297 310h3v1h-3zM298 309h1v3h-1zM297 313h3v1h-3zM298 312h1v3h-1zM297 317h3v1h-3zM298 316h1v3h-1z" fill="#f0f0f0"/>
<path d="M280 258h1v1h-1zM280 261h1v1h-1zM280 265h1v1h-1zM280 268h1v1h-1zM280 272h1v1h-1zM280 276h1v1h-1zM280 279h1v1h-1zM280 283h1v1h-1zM280 286h1v1h-1zM280 290h1v1h-1zM280 294h1v1h-1zM280 297h1v1h-1zM280 301h1v1h-1zM280 304h1v1h-1zM280 308h1v1h-1zM280 312h1v1h-1zM280 315h1v1h-1zM280 319h1v1h-1zM284 256h1v1h-1zM284 259h1v1h-1zM284 263h1v1h-1zM284 267h1v1h-1zM284 270h1v1h-1zM284 274h1v1h-1zM284 277h1v1h-1zM284 281h1v1h-1zM284 285h1v1h-1zM284 288h1v1h-1zM284 292h1v1h-1zM284 295h1v1h-1zM284 299h1v1h-1zM284 303h1v1h-1zM284 306h1v1h-1zM284 310h1v1h-1zM284 313h1v1h-1zM284 317h1v1h-1zM288 258h1v1h-1zM288 261h1v1h-1zM288 265h1v1h-1zM288 268h1v1h-1zM288 272h1v1h-1zM288 276h1v1h-1zM288 279h1v1h-1zM288 283h1v1h-1zM288 286h1v1h-1zM288 290h1v1h-1zM288 294h1v1h-1zM288 297h1v1h-1zM288 301h1v1h-1zM288 304h1v1h-1zM288 308h1v1h-1zM288 312h1v1h-1zM288 315h1v1h-1zM288 319h1v1h-1zM291 256h1v1h-1zM291 259h1v1h-1zM291 263h1v1h-1zM291 267h1v1h-1zM291 270h1v1h-1zM291 274h1v1h-1zM291 277h1v1h-1zM291 281h1v1h-1zM291 285h1v1h-1zM291 288h1v1h-1zM291 292h1v1h-1zM291 295h1v1h-1zM291 299h1v1h-1zM291 303h1v1h-1zM291 306h1v1h-1zM291 310h1v1h-1zM291 313h1v1h-1zM291 317h1v1h-1zM295 258h1v1h-1zM295 261h1v1h-1zM295 265h1v1h-1zM295 268h1v1h-1zM295 272h1v1h-1zM295 276h1v1h-1zM295 279h1v1h-1zM295 283h1v1h-1zM295 286h1v1h-1zM295 290h1v1h-1zM295 294h1v1h-1zM295 297h1v1h-1zM295 301h1v1h-1zM295 304h1v1h-1zM295 308h1v1h-1zM295 312h1v1h-1zM295 315h1v1h-1zM295 319h1v1h-1zM298 256h1v1h-1zM298 259h1v1h-1zM298 263h1v1h-1zM298 267h1v1h-1zM298 270h1v1h-1zM298 274h1v1h-1zM298 277h1v1h-1zM298 281h1v1h-1zM298 285h1v1h-1zM298 288h1v1h-1zM298 292h1v1h-1zM298 295h1v1h-1zM298 299h1v1h-1zM298 303h1v1h-1zM298 306h1v1h-1zM298 310h1v1h-1zM298 313h1v1h-1zM298 317h1v1h-1z" fill="#606060"/>
<path d="M279.5,321.10V255.5H300.5V321.10" fill="none" stroke="#606060" stroke-width="1"/>
<line x1="290.50" y1="252.50" x2="290.50" y2="259.50" stroke="#888" stroke-width="1"/>
<line x1="289.10" y1="252.50" x2="291.90" y2="252.50" stroke="#333" stroke-width="1"/>
<line x1="289.10" y1="260.50" x2="291.90" y2="260.50" stroke="#666" stroke-width="1"/>
<rect x="308.00" y="251.00" width="21.00" height="70.10" fill="#fff" />
<path d="M308 254h3v1h-3zM309 253h1v3h-1zM308 258h3v1h-3zM309 257h1v3h-1zM308 261h3v1h-3zM309 260h1v3h-1zM308 265h3v1h-3zM309 264h1v3h-1zM308 268h3v1h-3zM309 267h1v3h-1zM308 272h3v1h-3zM309 271h1v3h-1zM308 276h3v1h-3zM309 275h1v3h-1zM308 279h3v1h-3zM309 278h1v3h-1zM308 283h3v1h-3zM309 282h1v3h-1zM308 286h3v1h-3zM309 285h1v3h-1zM308 290h3v1h-3zM309 289h1v3h-1zM308 294h3v1h-3zM309 293h1v3h-1zM308 297h3v1h-3zM309 296h1v3h-1zM308 301h3v1h-3zM309 300h1v3h-1zM308 304h3v1h-3zM309 303h1v3h-1zM308 308h3v1h-3zM309 307h1v3h-1zM308 312h3v1h-3zM309 311h1v3h-1zM308 315h3v1h-3zM309 314h1v3h-1zM308 319h3v1h-3zM309 318h1v3h-1zM312 252h3v1h-3zM313 251h1v3h-1zM312 256h3v1h-3zM313 255h1v3h-1zM312 259h3v1h-3zM313 258h1v3h-1zM312 263h3v1h-3zM313 262h1v3h-1zM312 267h3v1h-3zM313 266h1v3h-1zM312 270h3v1h-3zM313 269h1v3h-1zM312 274h3v1h-3zM313 273h1v3h-1zM312 277h3v1h-3zM313 276h1v3h-1zM312 281h3v1h-3zM313 280h1v3h-1zM312 285h3v1h-3zM313 284h1v3h-1zM312 288h3v1h-3zM313 287h1v3h-1zM312 292h3v1h-3zM313 291h1v3h-1zM312 295h3v1h-3zM313 294h1v3h-1zM312 299h3v1h-3zM313 298h1v3h-1zM312 303h3v1h-3zM313 302h1v3h-1zM312 306h3v1h-3zM313 305h1v3h-1zM312 310h3v1h-3zM313 309h1v3h-1zM312 313h3v1h-3zM313 312h1v3h-1zM312 317h3v1h-3zM313 316h1v3h-1zM315 254h3v1h-3zM316 253h1v3h-1zM315 258h3v1h-3zM316 257h1v3h-1zM315 261h3v1h-3zM316 260h1v3h-1zM315 265h3v1h-3zM316 264h1v3h-1zM315 268h3v1h-3zM316 267h1v3h-1zM315 272h3v1h-3zM316 271h1v3h-1zM315 276h3v1h-3zM316 275h1v3h-1zM315 279h3v1h-3zM316 278h1v3h-1zM315 283h3v1h-3zM316 282h1v3h-1zM315 286h3v1h-3zM316 285h1v3h-1zM315 290h3v1h-3zM316 289h1v3h-1zM315 294h3v1h-3zM316 293h1v3h-1zM315 297h3v1h-3zM316 296h1v3h-1zM315 301h3v1h-3zM316 300h1v3h-1zM315 304h3v1h-3zM316 303h1v3h-1zM315 308h3v1h-3zM316 307h1v3h-1zM315 312h3v1h-3zM316 311h1v3h-1zM315 315h3v1h-3zM316 314h1v3h-1zM315 319h3v1h-3zM316 318h1v3h-1zM319 252h3v1h-3zM320 251h1v3h-1zM319 256h3v1h-3zM320 255h1v3h-1zM319 259h3v1h-3zM320 258h1v3h-1zM319 263h3v1h-3zM320 262h1v3h-1zM319 267h3v1h-3zM320 266h1v3h-1zM319 270h3v1h-3zM320 269h1v3h-1zM319 274h3v1h-3zM320 273h1v3h-1zM319 277h3v1h-3zM320 276h1v3h-1zM319 281h3v1h-3zM320 280h1v3h-1zM319 285h3v1h-3zM320 284h1v3h-1zM319 288h3v1h-3zM320 287h1v3h-1zM319 292h3v1h-3zM320 291h1v3h-1zM319 295h3v1h-3zM320 294h1v3h-1zM319 299h3v1h-3zM320 298h1v3h-1zM319 303h3v1h-3zM320 302h1v3h-1zM319 306h3v1h-3zM320 305h1v3h-1zM319 310h3v1h-3zM320 309h1v3h-1zM319 313h3v1h-3zM320 312h1v3h-1zM319 317h3v1h-3zM320 316h1v3h-1zM323 254h3v1h-3zM324 253h1v3h-1zM323 258h3v1h-3zM324 257h1v3h-1zM323 261h3v1h-3zM324 260h1v3h-1zM323 265h3v1h-3zM324 264h1v3h-1zM323 268h3v1h-3zM324 267h1v3h-1zM323 272h3v1h-3zM324 271h1v3h-1zM323 276h3v1h-3zM324 275h1v3h-1zM323 279h3v1h-3zM324 278h1v3h-1zM323 283h3v1h-3zM324 282h1v3h-1zM323 286h3v1h-3zM324 285h1v3h-1zM323 290h3v1h-3zM324 289h1v3h-1zM323 294h3v1h-3zM324 293h1v3h-1zM323 297h3v1h-3zM324 296h1v3h-1zM323 301h3v1h-3zM324 300h1v3h-1zM323 304h3v1h-3zM324 303h1v3h-1zM323 308h3v1h-3zM324 307h1v3h-1zM323 312h3v1h-3zM324 311h1v3h-1zM323 315h3v1h-3zM324 314h1v3h-1zM323 319h3v1h-3zM324 318h1v3h-1zM326 252h3v1h-3zM327 251h1v3h-1zM326 256h3v1h-3zM327 255h1v3h-1zM326 259h3v1h-3zM327 258h1v3h-1zM326 263h3v1h-3zM327 262h1v3h-1zM326 267h3v1h-3zM327 266h1v3h-1zM326 270h3v1h-3zM327 269h1v3h-1zM326 274h3v1h-3zM327 273h1v3h-1zM326 277h3v1h-3zM327 276h1v3h-1zM326 281h3v1h-3zM327 280h1v3h-1zM326 285h3v1h-3zM327 284h1v3h-1zM326 288h3v1h-3zM327 287h1v3h-1zM326 292h3v1h-3zM327 291h1v3h-1zM326 295h3v1h-3zM327 294h1v3h-1zM326 299h3v1h-3zM327 298h1v3h-1zM326 303h3v1h-3zM327 302h1v3h-1zM326 306h3v1h-3zM327 305h1v3h-1zM326 310h3v1h-3zM327 309h1v3h-1zM326 313h3v1h-3zM327 312h1v3h-1zM326 317h3v1h-3zM327 316h1v3h-1z" fill="#f0f0f0"/>
<path d="M309 254h1v1h-1zM309 258h1v1h-1zM309 261h1v1h-1zM309 265h1v1h-1zM309 268h1v1h-1zM309 272h1v1h-1zM309 276h1v1h-1zM309 279h1v1h-1zM309 283h1v1h-1zM309 286h1v1h-1zM309 290h1v1h-1zM309 294h1v1h-1zM309 297h1v1h-1zM309 301h1v1h-1zM309 304h1v1h-1zM309 308h1v1h-1zM309 312h1v1h-1zM309 315h1v1h-1zM309 319h1v1h-1zM313 252h1v1h-1zM313 256h1v1h-1zM313 259h1v1h-1zM313 263h1v1h-1zM313 267h1v1h-1zM313 270h1v1h-1zM313 274h1v1h-1zM313 277h1v1h-1zM313 281h1v1h-1zM313 285h1v1h-1zM313 288h1v1h-1zM313 292h1v1h-1zM313 295h1v1h-1zM313 299h1v1h-1zM313 303h1v1h-1zM313 306h1v1h-1zM313 310h1v1h-1zM313 313h1v1h-1zM313 317h1v1h-1zM316 254h1v1h-1zM316 258h1v1h-1zM316 261h1v1h-1zM316 265h1v1h-1zM316 268h1v1h-1zM316 272h1v1h-1zM316 276h1v1h-1zM316 279h1v1h-1zM316 283h1v1h-1zM316 286h1v1h-1zM316 290h1v1h-1zM316 294h1v1h-1zM316 297h1v1h-1zM316 301h1v1h-1zM316 304h1v1h-1zM316 308h1v1h-1zM316 312h1v1h-1zM316 315h1v1h-1zM316 319h1v1h-1zM320 252h1v1h-1zM320 256h1v1h-1zM320 259h1v1h-1zM320 263h1v1h-1zM320 267h1v1h-1zM320 270h1v1h-1zM320 274h1v1h-1zM320 277h1v1h-1zM320 281h1v1h-1zM320 285h1v1h-1zM320 288h1v1h-1zM320 292h1v1h-1zM320 295h1v1h-1zM320 299h1v1h-1zM320 303h1v1h-1zM320 306h1v1h-1zM320 310h1v1h-1zM320 313h1v1h-1zM320 317h1v1h-1zM324 254h1v1h-1zM324 258h1v1h-1zM324 261h1v1h-1zM324 265h1v1h-1zM324 268h1v1h-1zM324 272h1v1h-1zM324 276h1v1h-1zM324 279h1v1h-1zM324 283h1v1h-1zM324 286h1v1h-1zM324 290h1v1h-1zM324 294h1v1h-1zM324 297h1v1h-1zM324 301h1v1h-1zM324 304h1v1h-1zM324 308h1v1h-1zM324 312h1v1h-1zM324 315h1v1h-1zM324 319h1v1h-1zM327 252h1v1h-1zM327 256h1v1h-1zM327 259h1v1h-1zM327 263h1v1h-1zM327 267h1v1h-1zM327 270h1v1h-1zM327 274h1v1h-1zM327 277h1v1h-1zM327 281h1v1h-1zM327 285h1v1h-1zM327 288h1v1h-1zM327 292h1v1h-1zM327 295h1v1h-1zM327 299h1v1h-1zM327 303h1v1h-1zM327 306h1v1h-1zM327 310h1v1h-1zM327 313h1v1h-1zM327 317h1v1h-1z" fill="#606060"/>
<path d="M308.5,321.10V251.5H328.5V321.10" fill="none" stroke="#606060" stroke-width="1"/>
<line x1="318.50" y1="247.50" x2="318.50" y2="254.90" stroke="#888" stroke-width="1"/>
<line x1="317.10" y1="247.50" x2="319.90" y2="247.50" stroke="#333" stroke-width="1"/>
<line x1="317.10" y1="255.50" x2="319.90" y2="255.50" stroke="#666" stroke-width="1"/>
<rect x="336.00" y="284.00" width="21.00" height="37.10" fill="#fff" />
<path d="M337 286h3v1h-3zM338 285h1v3h-1zM337 290h3v1h-3zM338 289h1v3h-1zM337 294h3v1h-3zM338 293h1v3h-1zM337 297h3v1h-3zM338 296h1v3h-1zM337 301h3v1h-3zM338 300h1v3h-1zM337 304h3v1h-3zM338 303h1v3h-1zM337 308h3v1h-3zM338 307h1v3h-1zM337 312h3v1h-3zM338 311h1v3h-1zM337 315h3v1h-3zM338 314h1v3h-1zM337 319h3v1h-3zM338 318h1v3h-1zM341 285h3v1h-3zM342 284h1v3h-1zM341 288h3v1h-3zM342 287h1v3h-1zM341 292h3v1h-3zM342 291h1v3h-1zM341 295h3v1h-3zM342 294h1v3h-1zM341 299h3v1h-3zM342 298h1v3h-1zM341 303h3v1h-3zM342 302h1v3h-1zM341 306h3v1h-3zM342 305h1v3h-1zM341 310h3v1h-3zM342 309h1v3h-1zM341 313h3v1h-3zM342 312h1v3h-1zM341 317h3v1h-3zM342 316h1v3h-1zM344 286h3v1h-3zM345 285h1v3h-1zM344 290h3v1h-3zM345 289h1v3h-1zM344 294h3v1h-3zM345 293h1v3h-1zM344 297h3v1h-3zM345 296h1v3h-1zM344 301h3v1h-3zM345 300h1v3h-1zM344 304h3v1h-3zM345 303h1v3h-1zM344 308h3v1h-3zM345 307h1v3h-1zM344 312h3v1h-3zM345 311h1v3h-1zM344 315h3v1h-3zM345 314h1v3h-1zM344 319h3v1h-3zM345 318h1v3h-1zM348 285h3v1h-3zM349 284h1v3h-1zM348 288h3v1h-3zM349 287h1v3h-1zM348 292h3v1h-3zM349 291h1v3h-1zM348 295h3v1h-3zM349 294h1v3h-1zM348 299h3v1h-3zM349 298h1v3h-1zM348 303h3v1h-3zM349 302h1v3h-1zM348 306h3v1h-3zM349 305h1v3h-1zM348 310h3v1h-3zM349 309h1v3h-1zM348 313h3v1h-3zM349 312h1v3h-1zM348 317h3v1h-3zM349 316h1v3h-1zM351 286h3v1h-3zM352 285h1v3h-1zM351 290h3v1h-3zM352 289h1v3h-1zM351 294h3v1h-3zM352 293h1v3h-1zM351 297h3v1h-3zM352 296h1v3h-1zM351 301h3v1h-3zM352 300h1v3h-1zM351 304h3v1h-3zM352 303h1v3h-1zM351 308h3v1h-3zM352 307h1v3h-1zM351 312h3v1h-3zM352 311h1v3h-1zM351 315h3v1h-3zM352 314h1v3h-1zM351 319h3v1h-3zM352 318h1v3h-1zM355 285h3v1h-3zM356 284h1v3h-1zM355 288h3v1h-3zM356 287h1v3h-1zM355 292h3v1h-3zM356 291h1v3h-1zM355 295h3v1h-3zM356 294h1v3h-1zM355 299h3v1h-3zM356 298h1v3h-1zM355 303h3v1h-3zM356 302h1v3h-1zM355 306h3v1h-3zM356 305h1v3h-1zM355 310h3v1h-3zM356 309h1v3h-1zM355 313h3v1h-3zM356 312h1v3h-1zM355 317h3v1h-3zM356 316h1v3h-1z" fill="#f0f0f0"/>
<path d="M338 286h1v1h-1zM338 290h1v1h-1zM338 294h1v1h-1zM338 297h1v1h-1zM338 301h1v1h-1zM338 304h1v1h-1zM338 308h1v1h-1zM338 312h1v1h-1zM338 315h1v1h-1zM338 319h1v1h-1zM342 285h1v1h-1zM342 288h1v1h-1zM342 292h1v1h-1zM342 295h1v1h-1zM342 299h1v1h-1zM342 303h1v1h-1zM342 306h1v1h-1zM342 310h1v1h-1zM342 313h1v1h-1zM342 317h1v1h-1zM345 286h1v1h-1zM345 290h1v1h-1zM345 294h1v1h-1zM345 297h1v1h-1zM345 301h1v1h-1zM345 304h1v1h-1zM345 308h1v1h-1zM345 312h1v1h-1zM345 315h1v1h-1zM345 319h1v1h-1zM349 285h1v1h-1zM349 288h1v1h-1zM349 292h1v1h-1zM349 295h1v1h-1zM349 299h1v1h-1zM349 303h1v1h-1zM349 306h1v1h-1zM349 310h1v1h-1zM349 313h1v1h-1zM349 317h1v1h-1zM352 286h1v1h-1zM352 290h1v1h-1zM352 294h1v1h-1zM352 297h1v1h-1zM352 301h1v1h-1zM352 304h1v1h-1zM352 308h1v1h-1zM352 312h1v1h-1zM352 315h1v1h-1zM352 319h1v1h-1zM356 285h1v1h-1zM356 288h1v1h-1zM356 292h1v1h-1zM356 295h1v1h-1zM356 299h1v1h-1zM356 303h1v1h-1zM356 306h1v1h-1zM356 310h1v1h-1zM356 313h1v1h-1zM356 317h1v1h-1z" fill="#606060"/>
<path d="M336.5,321.10V284.5H356.5V321.10" fill="none" stroke="#606060" stroke-width="1"/>
<line x1="346.50" y1="282.50" x2="346.50" y2="285.90" stroke="#888" stroke-width="1"/>
<line x1="345.10" y1="282.50" x2="347.90" y2="282.50" stroke="#333" stroke-width="1"/>
<line x1="345.10" y1="286.50" x2="347.90" y2="286.50" stroke="#666" stroke-width="1"/>
<path d="M347.50,268.10L347.50,266.00M347.50,268.10L349.50,267.45M347.50,268.10L348.73,269.80M347.50,268.10L346.27,269.80M347.50,268.10L345.50,267.45" stroke="#000" stroke-width="1.3" stroke-linecap="round" fill="none"/>
<text x="187.80" y="334.50" font-size="8.3" text-anchor="start" font-weight="normal" fill="#111" textLength="12.00" lengthAdjust="spacingAndGlyphs" >TNF</text>
<rect x="201.00" y="331.00" width="1.30" height="1.00" fill="#555" />
<text x="202.70" y="334.50" font-size="8.3" text-anchor="start" font-weight="normal" fill="#111" textLength="5.80" lengthAdjust="spacingAndGlyphs" >α</text>
<text x="188.00" y="344.00" font-size="8.3" text-anchor="start" font-weight="normal" fill="#111" textLength="39.00" lengthAdjust="spacingAndGlyphs" >TAE (μg/mL)</text>
<rect x="233.00" y="330.40" width="1.80" height="0.90" fill="#333" />
<rect x="257.40" y="330.80" width="3.20" height="0.80" fill="#333" />
<rect x="258.60" y="329.60" width="0.80" height="3.20" fill="#333" />
<rect x="284.80" y="330.80" width="3.20" height="0.80" fill="#333" />
<rect x="286.00" y="329.60" width="0.80" height="3.20" fill="#333" />
<rect x="313.10" y="330.80" width="3.20" height="0.80" fill="#333" />
<rect x="314.30" y="329.60" width="0.80" height="3.20" fill="#333" />
<rect x="343.80" y="330.80" width="3.20" height="0.80" fill="#333" />
<rect x="345.00" y="329.60" width="0.80" height="3.20" fill="#333" />
<rect x="233.40" y="338.40" width="1.30" height="1.40" fill="#444" />
<rect x="257.80" y="340.80" width="1.50" height="0.90" fill="#555" />
<text x="286.40" y="343.80" font-size="8.3" text-anchor="middle" font-weight="normal" fill="#111" textLength="7.60" lengthAdjust="spacingAndGlyphs" >10</text>
<text x="314.70" y="343.80" font-size="8.3" text-anchor="middle" font-weight="normal" fill="#111" textLength="7.60" lengthAdjust="spacingAndGlyphs" >50</text>
<text x="345.40" y="343.80" font-size="8.3" text-anchor="middle" font-weight="normal" fill="#111" textLength="11.40" lengthAdjust="spacingAndGlyphs" >250</text>
<line x1="399.60" y1="188.50" x2="399.60" y2="321.60" stroke="#b4b4b4" stroke-width="1"/>
<line x1="399.60" y1="321.10" x2="541.60" y2="321.10" stroke="#b4b4b4" stroke-width="1"/>
<line x1="397.30" y1="321.10" x2="399.60" y2="321.10" stroke="#b4b4b4" stroke-width="1"/>
<text x="394.20" y="323.65" font-size="8.6" text-anchor="end" font-weight="normal" fill="#111" textLength="3.50" lengthAdjust="spacingAndGlyphs" >0</text>
<line x1="397.30" y1="294.68" x2="399.60" y2="294.68" stroke="#b4b4b4" stroke-width="1"/>
<text x="394.20" y="297.23" font-size="8.6" text-anchor="end" font-weight="normal" fill="#111" textLength="10.50" lengthAdjust="spacingAndGlyphs" >500</text>
<line x1="397.30" y1="268.26" x2="399.60" y2="268.26" stroke="#b4b4b4" stroke-width="1"/>
<text x="394.20" y="270.81" font-size="8.6" text-anchor="end" font-weight="normal" fill="#111" textLength="14.00" lengthAdjust="spacingAndGlyphs" >1000</text>
<line x1="397.30" y1="241.84" x2="399.60" y2="241.84" stroke="#b4b4b4" stroke-width="1"/>
<text x="394.20" y="244.39" font-size="8.6" text-anchor="end" font-weight="normal" fill="#111" textLength="14.00" lengthAdjust="spacingAndGlyphs" >1500</text>
<line x1="397.30" y1="215.42" x2="399.60" y2="215.42" stroke="#b4b4b4" stroke-width="1"/>
<text x="394.20" y="217.97" font-size="8.6" text-anchor="end" font-weight="normal" fill="#111" textLength="14.00" lengthAdjust="spacingAndGlyphs" >2000</text>
<line x1="397.30" y1="189.00" x2="399.60" y2="189.00" stroke="#b4b4b4" stroke-width="1"/>
<text x="394.20" y="191.55" font-size="8.6" text-anchor="end" font-weight="normal" fill="#111" textLength="14.00" lengthAdjust="spacingAndGlyphs" >2500</text>
<line x1="428.50" y1="321.10" x2="428.50" y2="323.30" stroke="#b4b4b4" stroke-width="1"/>
<line x1="456.80" y1="321.10" x2="456.80" y2="323.30" stroke="#b4b4b4" stroke-width="1"/>
<line x1="485.10" y1="321.10" x2="485.10" y2="323.30" stroke="#b4b4b4" stroke-width="1"/>
<line x1="513.40" y1="321.10" x2="513.40" y2="323.30" stroke="#b4b4b4" stroke-width="1"/>
<line x1="541.60" y1="321.10" x2="541.60" y2="323.30" stroke="#b4b4b4" stroke-width="1"/>
<text x="371.50" y="263.20" font-size="8.1" text-anchor="middle" fill="#111" transform="rotate(-90 371.50 260.20)" textLength="21.5" lengthAdjust="spacingAndGlyphs">pg/mL</text>
<text x="413.10" y="202.10" font-size="12" text-anchor="start" font-weight="normal" fill="#111" textLength="67.10" lengthAdjust="spacingAndGlyphs" style="stroke-width:0.32px">CXCL10/IP-10</text>
<rect x="432.40" y="235.10" width="20.30" height="86.00" fill="#000" />
<line x1="442.50" y1="234.50" x2="442.50" y2="236.40" stroke="#888" stroke-width="1"/>
<line x1="441.10" y1="234.50" x2="443.90" y2="234.50" stroke="#333" stroke-width="1"/>
<rect x="460.00" y="250.00" width="21.00" height="71.10" fill="#fff" />
<path d="M460 254h3v1h-3zM461 253h1v3h-1zM460 258h3v1h-3zM461 257h1v3h-1zM460 261h3v1h-3zM461 260h1v3h-1zM460 265h3v1h-3zM461 264h1v3h-1zM460 268h3v1h-3zM461 267h1v3h-1zM460 272h3v1h-3zM461 271h1v3h-1zM460 276h3v1h-3zM461 275h1v3h-1zM460 279h3v1h-3zM461 278h1v3h-1zM460 283h3v1h-3zM461 282h1v3h-1zM460 286h3v1h-3zM461 285h1v3h-1zM460 290h3v1h-3zM461 289h1v3h-1zM460 294h3v1h-3zM461 293h1v3h-1zM460 297h3v1h-3zM461 296h1v3h-1zM460 301h3v1h-3zM461 300h1v3h-1zM460 304h3v1h-3zM461 303h1v3h-1zM460 308h3v1h-3zM461 307h1v3h-1zM460 312h3v1h-3zM461 311h1v3h-1zM460 315h3v1h-3zM461 314h1v3h-1zM460 319h3v1h-3zM461 318h1v3h-1zM463 252h3v1h-3zM464 251h1v3h-1zM463 256h3v1h-3zM464 255h1v3h-1zM463 259h3v1h-3zM464 258h1v3h-1zM463 263h3v1h-3zM464 262h1v3h-1zM463 267h3v1h-3zM464 266h1v3h-1zM463 270h3v1h-3zM464 269h1v3h-1zM463 274h3v1h-3zM464 273h1v3h-1zM463 277h3v1h-3zM464 276h1v3h-1zM463 281h3v1h-3zM464 280h1v3h-1zM463 285h3v1h-3zM464 284h1v3h-1zM463 288h3v1h-3zM464 287h1v3h-1zM463 292h3v1h-3zM464 291h1v3h-1zM463 295h3v1h-3zM464 294h1v3h-1zM463 299h3v1h-3zM464 298h1v3h-1zM463 303h3v1h-3zM464 302h1v3h-1zM463 306h3v1h-3zM464 305h1v3h-1zM463 310h3v1h-3zM464 309h1v3h-1zM463 313h3v1h-3zM464 312h1v3h-1zM463 317h3v1h-3zM464 316h1v3h-1zM467 254h3v1h-3zM468 253h1v3h-1zM467 258h3v1h-3zM468 257h1v3h-1zM467 261h3v1h-3zM468 260h1v3h-1zM467 265h3v1h-3zM468 264h1v3h-1zM467 268h3v1h-3zM468 267h1v3h-1zM467 272h3v1h-3zM468 271h1v3h-1zM467 276h3v1h-3zM468 275h1v3h-1zM467 279h3v1h-3zM468 278h1v3h-1zM467 283h3v1h-3zM468 282h1v3h-1zM467 286h3v1h-3zM468 285h1v3h-1zM467 290h3v1h-3zM468 289h1v3h-1zM467 294h3v1h-3zM468 293h1v3h-1zM467 297h3v1h-3zM468 296h1v3h-1zM467 301h3v1h-3zM468 300h1v3h-1zM467 304h3v1h-3zM468 303h1v3h-1zM467 308h3v1h-3zM468 307h1v3h-1zM467 312h3v1h-3zM468 311h1v3h-1zM467 315h3v1h-3zM468 314h1v3h-1zM467 319h3v1h-3zM468 318h1v3h-1zM470 252h3v1h-3zM471 251h1v3h-1zM470 256h3v1h-3zM471 255h1v3h-1zM470 259h3v1h-3zM471 258h1v3h-1zM470 263h3v1h-3zM471 262h1v3h-1zM470 267h3v1h-3zM471 266h1v3h-1zM470 270h3v1h-3zM471 269h1v3h-1zM470 274h3v1h-3zM471 273h1v3h-1zM470 277h3v1h-3zM471 276h1v3h-1zM470 281h3v1h-3zM471 280h1v3h-1zM470 285h3v1h-3zM471 284h1v3h-1zM470 288h3v1h-3zM471 287h1v3h-1zM470 292h3v1h-3zM471 291h1v3h-1zM470 295h3v1h-3zM471 294h1v3h-1zM470 299h3v1h-3zM471 298h1v3h-1zM470 303h3v1h-3zM471 302h1v3h-1zM470 306h3v1h-3zM471 305h1v3h-1zM470 310h3v1h-3zM471 309h1v3h-1zM470 313h3v1h-3zM471 312h1v3h-1zM470 317h3v1h-3zM471 316h1v3h-1zM474 254h3v1h-3zM475 253h1v3h-1zM474 258h3v1h-3zM475 257h1v3h-1zM474 261h3v1h-3zM475 260h1v3h-1zM474 265h3v1h-3zM475 264h1v3h-1zM474 268h3v1h-3zM475 267h1v3h-1zM474 272h3v1h-3zM475 271h1v3h-1zM474 276h3v1h-3zM475 275h1v3h-1zM474 279h3v1h-3zM475 278h1v3h-1zM474 283h3v1h-3zM475 282h1v3h-1zM474 286h3v1h-3zM475 285h1v3h-1zM474 290h3v1h-3zM475 289h1v3h-1zM474 294h3v1h-3zM475 293h1v3h-1zM474 297h3v1h-3zM475 296h1v3h-1zM474 301h3v1h-3zM475 300h1v3h-1zM474 304h3v1h-3zM475 303h1v3h-1zM474 308h3v1h-3zM475 307h1v3h-1zM474 312h3v1h-3zM475 311h1v3h-1zM474 315h3v1h-3zM475 314h1v3h-1zM474 319h3v1h-3zM475 318h1v3h-1zM478 252h3v1h-3zM479 251h1v3h-1zM478 256h3v1h-3zM479 255h1v3h-1zM478 259h3v1h-3zM479 258h1v3h-1zM478 263h3v1h-3zM479 262h1v3h-1zM478 267h3v1h-3zM479 266h1v3h-1zM478 270h3v1h-3zM479 269h1v3h-1zM478 274h3v1h-3zM479 273h1v3h-1zM478 277h3v1h-3zM479 276h1v3h-1zM478 281h3v1h-3zM479 280h1v3h-1zM478 285h3v1h-3zM479 284h1v3h-1zM478 288h3v1h-3zM479 287h1v3h-1zM478 292h3v1h-3zM479 291h1v3h-1zM478 295h3v1h-3zM479 294h1v3h-1zM478 299h3v1h-3zM479 298h1v3h-1zM478 303h3v1h-3zM479 302h1v3h-1zM478 306h3v1h-3zM479 305h1v3h-1zM478 310h3v1h-3zM479 309h1v3h-1zM478 313h3v1h-3zM479 312h1v3h-1zM478 317h3v1h-3zM479 316h1v3h-1z" fill="#f0f0f0"/>
<path d="M461 254h1v1h-1zM461 258h1v1h-1zM461 261h1v1h-1zM461 265h1v1h-1zM461 268h1v1h-1zM461 272h1v1h-1zM461 276h1v1h-1zM461 279h1v1h-1zM461 283h1v1h-1zM461 286h1v1h-1zM461 290h1v1h-1zM461 294h1v1h-1zM461 297h1v1h-1zM461 301h1v1h-1zM461 304h1v1h-1zM461 308h1v1h-1zM461 312h1v1h-1zM461 315h1v1h-1zM461 319h1v1h-1zM464 252h1v1h-1zM464 256h1v1h-1zM464 259h1v1h-1zM464 263h1v1h-1zM464 267h1v1h-1zM464 270h1v1h-1zM464 274h1v1h-1zM464 277h1v1h-1zM464 281h1v1h-1zM464 285h1v1h-1zM464 288h1v1h-1zM464 292h1v1h-1zM464 295h1v1h-1zM464 299h1v1h-1zM464 303h1v1h-1zM464 306h1v1h-1zM464 310h1v1h-1zM464 313h1v1h-1zM464 317h1v1h-1zM468 254h1v1h-1zM468 258h1v1h-1zM468 261h1v1h-1zM468 265h1v1h-1zM468 268h1v1h-1zM468 272h1v1h-1zM468 276h1v1h-1zM468 279h1v1h-1zM468 283h1v1h-1zM468 286h1v1h-1zM468 290h1v1h-1zM468 294h1v1h-1zM468 297h1v1h-1zM468 301h1v1h-1zM468 304h1v1h-1zM468 308h1v1h-1zM468 312h1v1h-1zM468 315h1v1h-1zM468 319h1v1h-1zM471 252h1v1h-1zM471 256h1v1h-1zM471 259h1v1h-1zM471 263h1v1h-1zM471 267h1v1h-1zM471 270h1v1h-1zM471 274h1v1h-1zM471 277h1v1h-1zM471 281h1v1h-1zM471 285h1v1h-1zM471 288h1v1h-1zM471 292h1v1h-1zM471 295h1v1h-1zM471 299h1v1h-1zM471 303h1v1h-1zM471 306h1v1h-1zM471 310h1v1h-1zM471 313h1v1h-1zM471 317h1v1h-1zM475 254h1v1h-1zM475 258h1v1h-1zM475 261h1v1h-1zM475 265h1v1h-1zM475 268h1v1h-1zM475 272h1v1h-1zM475 276h1v1h-1zM475 279h1v1h-1zM475 283h1v1h-1zM475 286h1v1h-1zM475 290h1v1h-1zM475 294h1v1h-1zM475 297h1v1h-1zM475 301h1v1h-1zM475 304h1v1h-1zM475 308h1v1h-1zM475 312h1v1h-1zM475 315h1v1h-1zM475 319h1v1h-1zM479 252h1v1h-1zM479 256h1v1h-1zM479 259h1v1h-1zM479 263h1v1h-1zM479 267h1v1h-1zM479 270h1v1h-1zM479 274h1v1h-1zM479 277h1v1h-1zM479 281h1v1h-1zM479 285h1v1h-1zM479 288h1v1h-1zM479 292h1v1h-1zM479 295h1v1h-1zM479 299h1v1h-1zM479 303h1v1h-1zM479 306h1v1h-1zM479 310h1v1h-1zM479 313h1v1h-1zM479 317h1v1h-1z" fill="#606060"/>
<path d="M460.5,321.10V250.5H480.5V321.10" fill="none" stroke="#606060" stroke-width="1"/>
<line x1="470.50" y1="243.50" x2="470.50" y2="256.40" stroke="#888" stroke-width="1"/>
<line x1="469.10" y1="243.50" x2="471.90" y2="243.50" stroke="#333" stroke-width="1"/>
<line x1="469.10" y1="256.50" x2="471.90" y2="256.50" stroke="#666" stroke-width="1"/>
<rect x="489.00" y="251.00" width="21.00" height="70.10" fill="#fff" />
<path d="M488 254h3v1h-3zM489 253h1v3h-1zM488 258h3v1h-3zM489 257h1v3h-1zM488 261h3v1h-3zM489 260h1v3h-1zM488 265h3v1h-3zM489 264h1v3h-1zM488 268h3v1h-3zM489 267h1v3h-1zM488 272h3v1h-3zM489 271h1v3h-1zM488 276h3v1h-3zM489 275h1v3h-1zM488 279h3v1h-3zM489 278h1v3h-1zM488 283h3v1h-3zM489 282h1v3h-1zM488 286h3v1h-3zM489 285h1v3h-1zM488 290h3v1h-3zM489 289h1v3h-1zM488 294h3v1h-3zM489 293h1v3h-1zM488 297h3v1h-3zM489 296h1v3h-1zM488 301h3v1h-3zM489 300h1v3h-1zM488 304h3v1h-3zM489 303h1v3h-1zM488 308h3v1h-3zM489 307h1v3h-1zM488 312h3v1h-3zM489 311h1v3h-1zM488 315h3v1h-3zM489 314h1v3h-1zM488 319h3v1h-3zM489 318h1v3h-1zM492 252h3v1h-3zM493 251h1v3h-1zM492 256h3v1h-3zM493 255h1v3h-1zM492 259h3v1h-3zM493 258h1v3h-1zM492 263h3v1h-3zM493 262h1v3h-1zM492 267h3v1h-3zM493 266h1v3h-1zM492 270h3v1h-3zM493 269h1v3h-1zM492 274h3v1h-3zM493 273h1v3h-1zM492 277h3v1h-3zM493 276h1v3h-1zM492 281h3v1h-3zM493 280h1v3h-1zM492 285h3v1h-3zM493 284h1v3h-1zM492 288h3v1h-3zM493 287h1v3h-1zM492 292h3v1h-3zM493 291h1v3h-1zM492 295h3v1h-3zM493 294h1v3h-1zM492 299h3v1h-3zM493 298h1v3h-1zM492 303h3v1h-3zM493 302h1v3h-1zM492 306h3v1h-3zM493 305h1v3h-1zM492 310h3v1h-3zM493 309h1v3h-1zM492 313h3v1h-3zM493 312h1v3h-1zM492 317h3v1h-3zM493 316h1v3h-1zM496 254h3v1h-3zM497 253h1v3h-1zM496 258h3v1h-3zM497 257h1v3h-1zM496 261h3v1h-3zM497 260h1v3h-1zM496 265h3v1h-3zM497 264h1v3h-1zM496 268h3v1h-3zM497 267h1v3h-1zM496 272h3v1h-3zM497 271h1v3h-1zM496 276h3v1h-3zM497 275h1v3h-1zM496 279h3v1h-3zM497 278h1v3h-1zM496 283h3v1h-3zM497 282h1v3h-1zM496 286h3v1h-3zM497 285h1v3h-1zM496 290h3v1h-3zM497 289h1v3h-1zM496 294h3v1h-3zM497 293h1v3h-1zM496 297h3v1h-3zM497 296h1v3h-1zM496 301h3v1h-3zM497 300h1v3h-1zM496 304h3v1h-3zM497 303h1v3h-1zM496 308h3v1h-3zM497 307h1v3h-1zM496 312h3v1h-3zM497 311h1v3h-1zM496 315h3v1h-3zM497 314h1v3h-1zM496 319h3v1h-3zM497 318h1v3h-1zM499 252h3v1h-3zM500 251h1v3h-1zM499 256h3v1h-3zM500 255h1v3h-1zM499 259h3v1h-3zM500 258h1v3h-1zM499 263h3v1h-3zM500 262h1v3h-1zM499 267h3v1h-3zM500 266h1v3h-1zM499 270h3v1h-3zM500 269h1v3h-1zM499 274h3v1h-3zM500 273h1v3h-1zM499 277h3v1h-3zM500 276h1v3h-1zM499 281h3v1h-3zM500 280h1v3h-1zM499 285h3v1h-3zM500 284h1v3h-1zM499 288h3v1h-3zM500 287h1v3h-1zM499 292h3v1h-3zM500 291h1v3h-1zM499 295h3v1h-3zM500 294h1v3h-1zM499 299h3v1h-3zM500 298h1v3h-1zM499 303h3v1h-3zM500 302h1v3h-1zM499 306h3v1h-3zM500 305h1v3h-1zM499 310h3v1h-3zM500 309h1v3h-1zM499 313h3v1h-3zM500 312h1v3h-1zM499 317h3v1h-3zM500 316h1v3h-1zM503 254h3v1h-3zM504 253h1v3h-1zM503 258h3v1h-3zM504 257h1v3h-1zM503 261h3v1h-3zM504 260h1v3h-1zM503 265h3v1h-3zM504 264h1v3h-1zM503 268h3v1h-3zM504 267h1v3h-1zM503 272h3v1h-3zM504 271h1v3h-1zM503 276h3v1h-3zM504 275h1v3h-1zM503 279h3v1h-3zM504 278h1v3h-1zM503 283h3v1h-3zM504 282h1v3h-1zM503 286h3v1h-3zM504 285h1v3h-1zM503 290h3v1h-3zM504 289h1v3h-1zM503 294h3v1h-3zM504 293h1v3h-1zM503 297h3v1h-3zM504 296h1v3h-1zM503 301h3v1h-3zM504 300h1v3h-1zM503 304h3v1h-3zM504 303h1v3h-1zM503 308h3v1h-3zM504 307h1v3h-1zM503 312h3v1h-3zM504 311h1v3h-1zM503 315h3v1h-3zM504 314h1v3h-1zM503 319h3v1h-3zM504 318h1v3h-1zM506 252h3v1h-3zM507 251h1v3h-1zM506 256h3v1h-3zM507 255h1v3h-1zM506 259h3v1h-3zM507 258h1v3h-1zM506 263h3v1h-3zM507 262h1v3h-1zM506 267h3v1h-3zM507 266h1v3h-1zM506 270h3v1h-3zM507 269h1v3h-1zM506 274h3v1h-3zM507 273h1v3h-1zM506 277h3v1h-3zM507 276h1v3h-1zM506 281h3v1h-3zM507 280h1v3h-1zM506 285h3v1h-3zM507 284h1v3h-1zM506 288h3v1h-3zM507 287h1v3h-1zM506 292h3v1h-3zM507 291h1v3h-1zM506 295h3v1h-3zM507 294h1v3h-1zM506 299h3v1h-3zM507 298h1v3h-1zM506 303h3v1h-3zM507 302h1v3h-1zM506 306h3v1h-3zM507 305h1v3h-1zM506 310h3v1h-3zM507 309h1v3h-1zM506 313h3v1h-3zM507 312h1v3h-1zM506 317h3v1h-3zM507 316h1v3h-1z" fill="#f0f0f0"/>
<path d="M489 254h1v1h-1zM489 258h1v1h-1zM489 261h1v1h-1zM489 265h1v1h-1zM489 268h1v1h-1zM489 272h1v1h-1zM489 276h1v1h-1zM489 279h1v1h-1zM489 283h1v1h-1zM489 286h1v1h-1zM489 290h1v1h-1zM489 294h1v1h-1zM489 297h1v1h-1zM489 301h1v1h-1zM489 304h1v1h-1zM489 308h1v1h-1zM489 312h1v1h-1zM489 315h1v1h-1zM489 319h1v1h-1zM493 252h1v1h-1zM493 256h1v1h-1zM493 259h1v1h-1zM493 263h1v1h-1zM493 267h1v1h-1zM493 270h1v1h-1zM493 274h1v1h-1zM493 277h1v1h-1zM493 281h1v1h-1zM493 285h1v1h-1zM493 288h1v1h-1zM493 292h1v1h-1zM493 295h1v1h-1zM493 299h1v1h-1zM493 303h1v1h-1zM493 306h1v1h-1zM493 310h1v1h-1zM493 313h1v1h-1zM493 317h1v1h-1zM497 254h1v1h-1zM497 258h1v1h-1zM497 261h1v1h-1zM497 265h1v1h-1zM497 268h1v1h-1zM497 272h1v1h-1zM497 276h1v1h-1zM497 279h1v1h-1zM497 283h1v1h-1zM497 286h1v1h-1zM497 290h1v1h-1zM497 294h1v1h-1zM497 297h1v1h-1zM497 301h1v1h-1zM497 304h1v1h-1zM497 308h1v1h-1zM497 312h1v1h-1zM497 315h1v1h-1zM497 319h1v1h-1zM500 252h1v1h-1zM500 256h1v1h-1zM500 259h1v1h-1zM500 263h1v1h-1zM500 267h1v1h-1zM500 270h1v1h-1zM500 274h1v1h-1zM500 277h1v1h-1zM500 281h1v1h-1zM500 285h1v1h-1zM500 288h1v1h-1zM500 292h1v1h-1zM500 295h1v1h-1zM500 299h1v1h-1zM500 303h1v1h-1zM500 306h1v1h-1zM500 310h1v1h-1zM500 313h1v1h-1zM500 317h1v1h-1zM504 254h1v1h-1zM504 258h1v1h-1zM504 261h1v1h-1zM504 265h1v1h-1zM504 268h1v1h-1zM504 272h1v1h-1zM504 276h1v1h-1zM504 279h1v1h-1zM504 283h1v1h-1zM504 286h1v1h-1zM504 290h1v1h-1zM504 294h1v1h-1zM504 297h1v1h-1zM504 301h1v1h-1zM504 304h1v1h-1zM504 308h1v1h-1zM504 312h1v1h-1zM504 315h1v1h-1zM504 319h1v1h-1zM507 252h1v1h-1zM507 256h1v1h-1zM507 259h1v1h-1zM507 263h1v1h-1zM507 267h1v1h-1zM507 270h1v1h-1zM507 274h1v1h-1zM507 277h1v1h-1zM507 281h1v1h-1zM507 285h1v1h-1zM507 288h1v1h-1zM507 292h1v1h-1zM507 295h1v1h-1zM507 299h1v1h-1zM507 303h1v1h-1zM507 306h1v1h-1zM507 310h1v1h-1zM507 313h1v1h-1zM507 317h1v1h-1z" fill="#606060"/>
<path d="M489.5,321.10V251.5H509.5V321.10" fill="none" stroke="#606060" stroke-width="1"/>
<line x1="499.50" y1="247.50" x2="499.50" y2="255.40" stroke="#888" stroke-width="1"/>
<line x1="498.10" y1="247.50" x2="500.90" y2="247.50" stroke="#333" stroke-width="1"/>
<line x1="498.10" y1="255.50" x2="500.90" y2="255.50" stroke="#666" stroke-width="1"/>
<rect x="517.00" y="210.00" width="21.00" height="111.10" fill="#fff" />
<path d="M517 211h3v1h-3zM518 210h1v3h-1zM517 214h3v1h-3zM518 213h1v3h-1zM517 218h3v1h-3zM518 217h1v3h-1zM517 222h3v1h-3zM518 221h1v3h-1zM517 225h3v1h-3zM518 224h1v3h-1zM517 229h3v1h-3zM518 228h1v3h-1zM517 232h3v1h-3zM518 231h1v3h-1zM517 236h3v1h-3zM518 235h1v3h-1zM517 240h3v1h-3zM518 239h1v3h-1zM517 243h3v1h-3zM518 242h1v3h-1zM517 247h3v1h-3zM518 246h1v3h-1zM517 250h3v1h-3zM518 249h1v3h-1zM517 254h3v1h-3zM518 253h1v3h-1zM517 258h3v1h-3zM518 257h1v3h-1zM517 261h3v1h-3zM518 260h1v3h-1zM517 265h3v1h-3zM518 264h1v3h-1zM517 268h3v1h-3zM518 267h1v3h-1zM517 272h3v1h-3zM518 271h1v3h-1zM517 276h3v1h-3zM518 275h1v3h-1zM517 279h3v1h-3zM518 278h1v3h-1zM517 283h3v1h-3zM518 282h1v3h-1zM517 286h3v1h-3zM518 285h1v3h-1zM517 290h3v1h-3zM518 289h1v3h-1zM517 294h3v1h-3zM518 293h1v3h-1zM517 297h3v1h-3zM518 296h1v3h-1zM517 301h3v1h-3zM518 300h1v3h-1zM517 304h3v1h-3zM518 303h1v3h-1zM517 308h3v1h-3zM518 307h1v3h-1zM517 312h3v1h-3zM518 311h1v3h-1zM517 315h3v1h-3zM518 314h1v3h-1zM517 319h3v1h-3zM518 318h1v3h-1zM521 213h3v1h-3zM522 212h1v3h-1zM521 216h3v1h-3zM522 215h1v3h-1zM521 220h3v1h-3zM522 219h1v3h-1zM521 223h3v1h-3zM522 222h1v3h-1zM521 227h3v1h-3zM522 226h1v3h-1zM521 231h3v1h-3zM522 230h1v3h-1zM521 234h3v1h-3zM522 233h1v3h-1zM521 238h3v1h-3zM522 237h1v3h-1zM521 241h3v1h-3zM522 240h1v3h-1zM521 245h3v1h-3zM522 244h1v3h-1zM521 249h3v1h-3zM522 248h1v3h-1zM521 252h3v1h-3zM522 251h1v3h-1zM521 256h3v1h-3zM522 255h1v3h-1zM521 259h3v1h-3zM522 258h1v3h-1zM521 263h3v1h-3zM522 262h1v3h-1zM521 267h3v1h-3zM522 266h1v3h-1zM521 270h3v1h-3zM522 269h1v3h-1zM521 274h3v1h-3zM522 273h1v3h-1zM521 277h3v1h-3zM522 276h1v3h-1zM521 281h3v1h-3zM522 280h1v3h-1zM521 285h3v1h-3zM522 284h1v3h-1zM521 288h3v1h-3zM522 287h1v3h-1zM521 292h3v1h-3zM522 291h1v3h-1zM521 295h3v1h-3zM522 294h1v3h-1zM521 299h3v1h-3zM522 298h1v3h-1zM521 303h3v1h-3zM522 302h1v3h-1zM521 306h3v1h-3zM522 305h1v3h-1zM521 310h3v1h-3zM522 309h1v3h-1zM521 313h3v1h-3zM522 312h1v3h-1zM521 317h3v1h-3zM522 316h1v3h-1zM524 211h3v1h-3zM525 210h1v3h-1zM524 214h3v1h-3zM525 213h1v3h-1zM524 218h3v1h-3zM525 217h1v3h-1zM524 222h3v1h-3zM525 221h1v3h-1zM524 225h3v1h-3zM525 224h1v3h-1zM524 229h3v1h-3zM525 228h1v3h-1zM524 232h3v1h-3zM525 231h1v3h-1zM524 236h3v1h-3zM525 235h1v3h-1zM524 240h3v1h-3zM525 239h1v3h-1zM524 243h3v1h-3zM525 242h1v3h-1zM524 247h3v1h-3zM525 246h1v3h-1zM524 250h3v1h-3zM525 249h1v3h-1zM524 254h3v1h-3zM525 253h1v3h-1zM524 258h3v1h-3zM525 257h1v3h-1zM524 261h3v1h-3zM525 260h1v3h-1zM524 265h3v1h-3zM525 264h1v3h-1zM524 268h3v1h-3zM525 267h1v3h-1zM524 272h3v1h-3zM525 271h1v3h-1zM524 276h3v1h-3zM525 275h1v3h-1zM524 279h3v1h-3zM525 278h1v3h-1zM524 283h3v1h-3zM525 282h1v3h-1zM524 286h3v1h-3zM525 285h1v3h-1zM524 290h3v1h-3zM525 289h1v3h-1zM524 294h3v1h-3zM525 293h1v3h-1zM524 297h3v1h-3zM525 296h1v3h-1zM524 301h3v1h-3zM525 300h1v3h-1zM524 304h3v1h-3zM525 303h1v3h-1zM524 308h3v1h-3zM525 307h1v3h-1zM524 312h3v1h-3zM525 311h1v3h-1zM524 315h3v1h-3zM525 314h1v3h-1zM524 319h3v1h-3zM525 318h1v3h-1zM528 213h3v1h-3zM529 212h1v3h-1zM528 216h3v1h-3zM529 215h1v3h-1zM528 220h3v1h-3zM529 219h1v3h-1zM528 223h3v1h-3zM529 222h1v3h-1zM528 227h3v1h-3zM529 226h1v3h-1zM528 231h3v1h-3zM529 230h1v3h-1zM528 234h3v1h-3zM529 233h1v3h-1zM528 238h3v1h-3zM529 237h1v3h-1zM528 241h3v1h-3zM529 240h1v3h-1zM528 245h3v1h-3zM529 244h1v3h-1zM528 249h3v1h-3zM529 248h1v3h-1zM528 252h3v1h-3zM529 251h1v3h-1zM528 256h3v1h-3zM529 255h1v3h-1zM528 259h3v1h-3zM529 258h1v3h-1zM528 263h3v1h-3zM529 262h1v3h-1zM528 267h3v1h-3zM529 266h1v3h-1zM528 270h3v1h-3zM529 269h1v3h-1zM528 274h3v1h-3zM529 273h1v3h-1zM528 277h3v1h-3zM529 276h1v3h-1zM528 281h3v1h-3zM529 280h1v3h-1zM528 285h3v1h-3zM529 284h1v3h-1zM528 288h3v1h-3zM529 287h1v3h-1zM528 292h3v1h-3zM529 291h1v3h-1zM528 295h3v1h-3zM529 294h1v3h-1zM528 299h3v1h-3zM529 298h1v3h-1zM528 303h3v1h-3zM529 302h1v3h-1zM528 306h3v1h-3zM529 305h1v3h-1zM528 310h3v1h-3zM529 309h1v3h-1zM528 313h3v1h-3zM529 312h1v3h-1zM528 317h3v1h-3zM529 316h1v3h-1zM532 211h3v1h-3zM533 210h1v3h-1zM532 214h3v1h-3zM533 213h1v3h-1zM532 218h3v1h-3zM533 217h1v3h-1zM532 222h3v1h-3zM533 221h1v3h-1zM532 225h3v1h-3zM533 224h1v3h-1zM532 229h3v1h-3zM533 228h1v3h-1zM532 232h3v1h-3zM533 231h1v3h-1zM532 236h3v1h-3zM533 235h1v3h-1zM532 240h3v1h-3zM533 239h1v3h-1zM532 243h3v1h-3zM533 242h1v3h-1zM532 247h3v1h-3zM533 246h1v3h-1zM532 250h3v1h-3zM533 249h1v3h-1zM532 254h3v1h-3zM533 253h1v3h-1zM532 258h3v1h-3zM533 257h1v3h-1zM532 261h3v1h-3zM533 260h1v3h-1zM532 265h3v1h-3zM533 264h1v3h-1zM532 268h3v1h-3zM533 267h1v3h-1zM532 272h3v1h-3zM533 271h1v3h-1zM532 276h3v1h-3zM533 275h1v3h-1zM532 279h3v1h-3zM533 278h1v3h-1zM532 283h3v1h-3zM533 282h1v3h-1zM532 286h3v1h-3zM533 285h1v3h-1zM532 290h3v1h-3zM533 289h1v3h-1zM532 294h3v1h-3zM533 293h1v3h-1zM532 297h3v1h-3zM533 296h1v3h-1zM532 301h3v1h-3zM533 300h1v3h-1zM532 304h3v1h-3zM533 303h1v3h-1zM532 308h3v1h-3zM533 307h1v3h-1zM532 312h3v1h-3zM533 311h1v3h-1zM532 315h3v1h-3zM533 314h1v3h-1zM532 319h3v1h-3zM533 318h1v3h-1zM535 213h3v1h-3zM536 212h1v3h-1zM535 216h3v1h-3zM536 215h1v3h-1zM535 220h3v1h-3zM536 219h1v3h-1zM535 223h3v1h-3zM536 222h1v3h-1zM535 227h3v1h-3zM536 226h1v3h-1zM535 231h3v1h-3zM536 230h1v3h-1zM535 234h3v1h-3zM536 233h1v3h-1zM535 238h3v1h-3zM536 237h1v3h-1zM535 241h3v1h-3zM536 240h1v3h-1zM535 245h3v1h-3zM536 244h1v3h-1zM535 249h3v1h-3zM536 248h1v3h-1zM535 252h3v1h-3zM536 251h1v3h-1zM535 256h3v1h-3zM536 255h1v3h-1zM535 259h3v1h-3zM536 258h1v3h-1zM535 263h3v1h-3zM536 262h1v3h-1zM535 267h3v1h-3zM536 266h1v3h-1zM535 270h3v1h-3zM536 269h1v3h-1zM535 274h3v1h-3zM536 273h1v3h-1zM535 277h3v1h-3zM536 276h1v3h-1zM535 281h3v1h-3zM536 280h1v3h-1zM535 285h3v1h-3zM536 284h1v3h-1zM535 288h3v1h-3zM536 287h1v3h-1zM535 292h3v1h-3zM536 291h1v3h-1zM535 295h3v1h-3zM536 294h1v3h-1zM535 299h3v1h-3zM536 298h1v3h-1zM535 303h3v1h-3zM536 302h1v3h-1zM535 306h3v1h-3zM536 305h1v3h-1zM535 310h3v1h-3zM536 309h1v3h-1zM535 313h3v1h-3zM536 312h1v3h-1zM535 317h3v1h-3zM536 316h1v3h-1z" fill="#f0f0f0"/>
<path d="M518 211h1v1h-1zM518 214h1v1h-1zM518 218h1v1h-1zM518 222h1v1h-1zM518 225h1v1h-1zM518 229h1v1h-1zM518 232h1v1h-1zM518 236h1v1h-1zM518 240h1v1h-1zM518 243h1v1h-1zM518 247h1v1h-1zM518 250h1v1h-1zM518 254h1v1h-1zM518 258h1v1h-1zM518 261h1v1h-1zM518 265h1v1h-1zM518 268h1v1h-1zM518 272h1v1h-1zM518 276h1v1h-1zM518 279h1v1h-1zM518 283h1v1h-1zM518 286h1v1h-1zM518 290h1v1h-1zM518 294h1v1h-1zM518 297h1v1h-1zM518 301h1v1h-1zM518 304h1v1h-1zM518 308h1v1h-1zM518 312h1v1h-1zM518 315h1v1h-1zM518 319h1v1h-1zM522 213h1v1h-1zM522 216h1v1h-1zM522 220h1v1h-1zM522 223h1v1h-1zM522 227h1v1h-1zM522 231h1v1h-1zM522 234h1v1h-1zM522 238h1v1h-1zM522 241h1v1h-1zM522 245h1v1h-1zM522 249h1v1h-1zM522 252h1v1h-1zM522 256h1v1h-1zM522 259h1v1h-1zM522 263h1v1h-1zM522 267h1v1h-1zM522 270h1v1h-1zM522 274h1v1h-1zM522 277h1v1h-1zM522 281h1v1h-1zM522 285h1v1h-1zM522 288h1v1h-1zM522 292h1v1h-1zM522 295h1v1h-1zM522 299h1v1h-1zM522 303h1v1h-1zM522 306h1v1h-1zM522 310h1v1h-1zM522 313h1v1h-1zM522 317h1v1h-1zM525 211h1v1h-1zM525 214h1v1h-1zM525 218h1v1h-1zM525 222h1v1h-1zM525 225h1v1h-1zM525 229h1v1h-1zM525 232h1v1h-1zM525 236h1v1h-1zM525 240h1v1h-1zM525 243h1v1h-1zM525 247h1v1h-1zM525 250h1v1h-1zM525 254h1v1h-1zM525 258h1v1h-1zM525 261h1v1h-1zM525 265h1v1h-1zM525 268h1v1h-1zM525 272h1v1h-1zM525 276h1v1h-1zM525 279h1v1h-1zM525 283h1v1h-1zM525 286h1v1h-1zM525 290h1v1h-1zM525 294h1v1h-1zM525 297h1v1h-1zM525 301h1v1h-1zM525 304h1v1h-1zM525 308h1v1h-1zM525 312h1v1h-1zM525 315h1v1h-1zM525 319h1v1h-1zM529 213h1v1h-1zM529 216h1v1h-1zM529 220h1v1h-1zM529 223h1v1h-1zM529 227h1v1h-1zM529 231h1v1h-1zM529 234h1v1h-1zM529 238h1v1h-1zM529 241h1v1h-1zM529 245h1v1h-1zM529 249h1v1h-1zM529 252h1v1h-1zM529 256h1v1h-1zM529 259h1v1h-1zM529 263h1v1h-1zM529 267h1v1h-1zM529 270h1v1h-1zM529 274h1v1h-1zM529 277h1v1h-1zM529 281h1v1h-1zM529 285h1v1h-1zM529 288h1v1h-1zM529 292h1v1h-1zM529 295h1v1h-1zM529 299h1v1h-1zM529 303h1v1h-1zM529 306h1v1h-1zM529 310h1v1h-1zM529 313h1v1h-1zM529 317h1v1h-1zM533 211h1v1h-1zM533 214h1v1h-1zM533 218h1v1h-1zM533 222h1v1h-1zM533 225h1v1h-1zM533 229h1v1h-1zM533 232h1v1h-1zM533 236h1v1h-1zM533 240h1v1h-1zM533 243h1v1h-1zM533 247h1v1h-1zM533 250h1v1h-1zM533 254h1v1h-1zM533 258h1v1h-1zM533 261h1v1h-1zM533 265h1v1h-1zM533 268h1v1h-1zM533 272h1v1h-1zM533 276h1v1h-1zM533 279h1v1h-1zM533 283h1v1h-1zM533 286h1v1h-1zM533 290h1v1h-1zM533 294h1v1h-1zM533 297h1v1h-1zM533 301h1v1h-1zM533 304h1v1h-1zM533 308h1v1h-1zM533 312h1v1h-1zM533 315h1v1h-1zM533 319h1v1h-1zM536 213h1v1h-1zM536 216h1v1h-1zM536 220h1v1h-1zM536 223h1v1h-1zM536 227h1v1h-1zM536 231h1v1h-1zM536 234h1v1h-1zM536 238h1v1h-1zM536 241h1v1h-1zM536 245h1v1h-1zM536 249h1v1h-1zM536 252h1v1h-1zM536 256h1v1h-1zM536 259h1v1h-1zM536 263h1v1h-1zM536 267h1v1h-1zM536 270h1v1h-1zM536 274h1v1h-1zM536 277h1v1h-1zM536 281h1v1h-1zM536 285h1v1h-1zM536 288h1v1h-1zM536 292h1v1h-1zM536 295h1v1h-1zM536 299h1v1h-1zM536 303h1v1h-1zM536 306h1v1h-1zM536 310h1v1h-1zM536 313h1v1h-1zM536 317h1v1h-1z" fill="#606060"/>
<path d="M517.5,321.10V210.5H537.5V321.10" fill="none" stroke="#606060" stroke-width="1"/>
<line x1="527.50" y1="195.50" x2="527.50" y2="224.90" stroke="#888" stroke-width="1"/>
<line x1="526.10" y1="195.50" x2="528.90" y2="195.50" stroke="#333" stroke-width="1"/>
<line x1="526.10" y1="225.50" x2="528.90" y2="225.50" stroke="#666" stroke-width="1"/>
<path d="M497.50,241.60L497.50,239.50M497.50,241.60L499.50,240.95M497.50,241.60L498.73,243.30M497.50,241.60L496.27,243.30M497.50,241.60L495.50,240.95" stroke="#000" stroke-width="1.3" stroke-linecap="round" fill="none"/>
<text x="368.80" y="334.50" font-size="8.3" text-anchor="start" font-weight="normal" fill="#111" textLength="12.00" lengthAdjust="spacingAndGlyphs" >TNF</text>
<rect x="382.00" y="331.00" width="1.30" height="1.00" fill="#555" />
<text x="383.70" y="334.50" font-size="8.3" text-anchor="start" font-weight="normal" fill="#111" textLength="5.80" lengthAdjust="spacingAndGlyphs" >α</text>
<text x="369.00" y="344.00" font-size="8.3" text-anchor="start" font-weight="normal" fill="#111" textLength="39.00" lengthAdjust="spacingAndGlyphs" >TAE (μg/mL)</text>
<rect x="414.00" y="330.40" width="1.80" height="0.90" fill="#333" />
<rect x="438.40" y="330.80" width="3.20" height="0.80" fill="#333" />
<rect x="439.60" y="329.60" width="0.80" height="3.20" fill="#333" />
<rect x="465.80" y="330.80" width="3.20" height="0.80" fill="#333" />
<rect x="467.00" y="329.60" width="0.80" height="3.20" fill="#333" />
<rect x="494.10" y="330.80" width="3.20" height="0.80" fill="#333" />
<rect x="495.30" y="329.60" width="0.80" height="3.20" fill="#333" />
<rect x="524.80" y="330.80" width="3.20" height="0.80" fill="#333" />
<rect x="526.00" y="329.60" width="0.80" height="3.20" fill="#333" />
<rect x="414.40" y="338.40" width="1.30" height="1.40" fill="#444" />
<rect x="438.80" y="340.80" width="1.50" height="0.90" fill="#555" />
<text x="467.40" y="343.80" font-size="8.3" text-anchor="middle" font-weight="normal" fill="#111" textLength="7.60" lengthAdjust="spacingAndGlyphs" >10</text>
<text x="495.70" y="343.80" font-size="8.3" text-anchor="middle" font-weight="normal" fill="#111" textLength="7.60" lengthAdjust="spacingAndGlyphs" >50</text>
<text x="526.40" y="343.80" font-size="8.3" text-anchor="middle" font-weight="normal" fill="#111" textLength="11.40" lengthAdjust="spacingAndGlyphs" >250</text></svg>
</body></html>
